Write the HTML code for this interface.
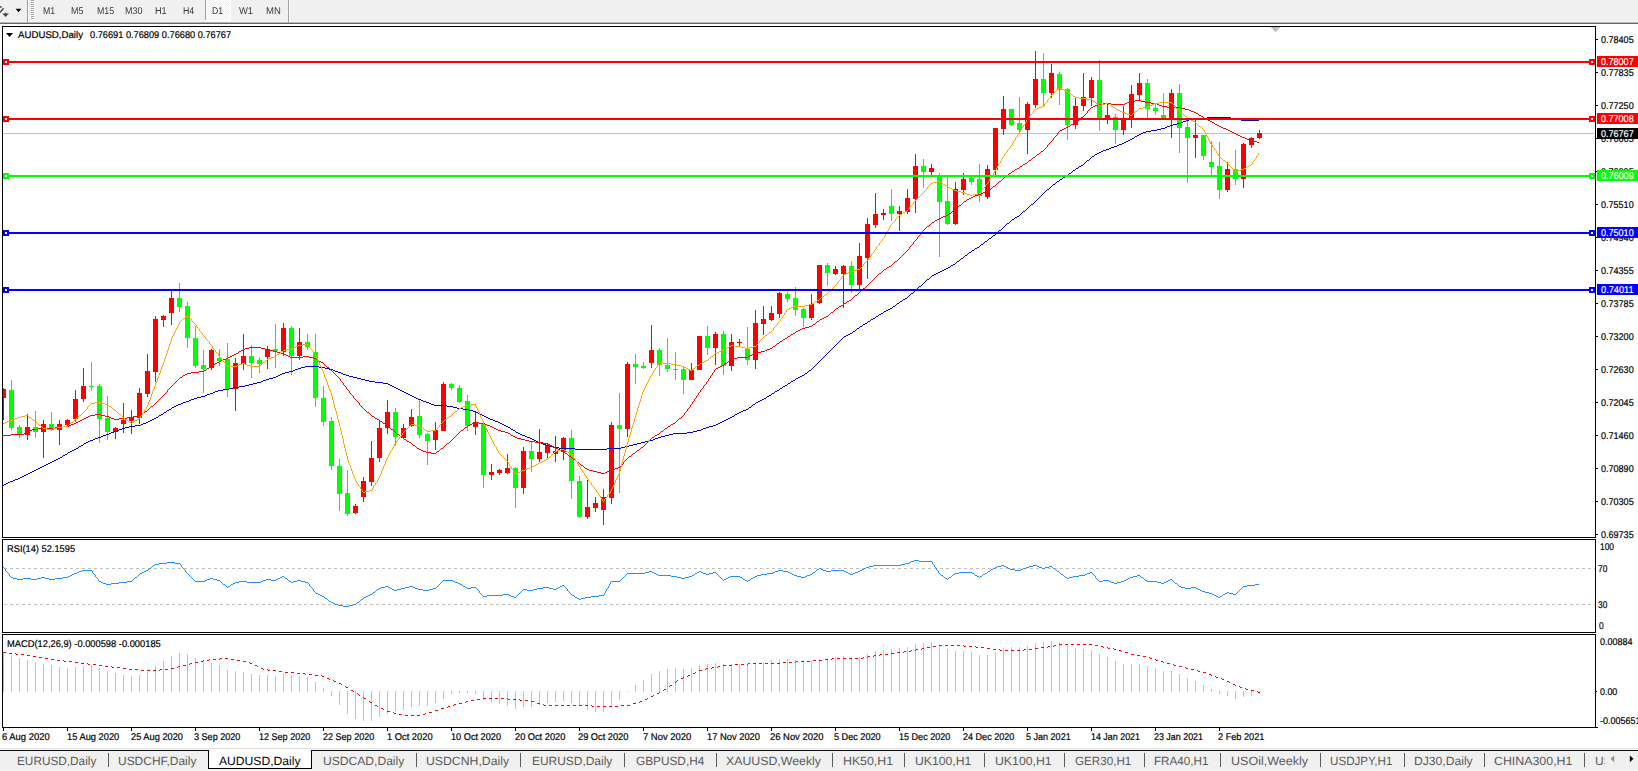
<!DOCTYPE html>
<html><head><meta charset="utf-8"><title>AUDUSD,Daily</title>
<style>
html,body{margin:0;padding:0}
body{width:1638px;height:771px;overflow:hidden;background:#f0f0f0;font-family:"Liberation Sans",sans-serif;position:relative}
#chartbg{position:absolute;left:0;top:24px;width:1638px;height:724px;background:#fff}
#tbline{position:absolute;left:0;top:21px;width:1638px;height:3px;background:linear-gradient(#f7f7f7 0,#f7f7f7 1px,#b4b4b4 1px,#b4b4b4 2px,#6a6a6a 2px,#6a6a6a 3px)}
svg{position:absolute;left:0;top:0}
.t{position:absolute;line-height:12px;white-space:nowrap;transform-origin:0 0;-webkit-text-stroke:0.2px currentColor}
.axb{position:absolute;left:1597px;width:41px;height:11px;color:#fff;overflow:hidden}
#tabs{position:absolute;left:0;top:748px;width:1638px;height:23px;background:#f0f0f0;border-top:1px solid #e2e2e2;box-sizing:border-box}
#tabw{position:absolute;left:0;top:749px;width:1638px;height:1px;background:#fafafa}
#tabline{position:absolute;left:0;top:750px;width:1638px;height:1px;background:#0c0c0c}
.sep{position:absolute;top:753px;width:1px;height:14px;background:#5a5a5a}
#selbox{position:absolute;left:208px;top:750px;width:104px;height:19px;background:#fff;border:1px solid #000;border-top:none;box-sizing:border-box}
</style></head><body>
<div id="tbline"></div>
<div id="chartbg"></div>
<div id="tabs"></div><div id="tabw"></div><div id="tabline"></div>
<div id="selbox"></div>
<svg width="1638" height="771" viewBox="0 0 1638 771" shape-rendering="crispEdges">
<g id="tb">
<rect x="27" y="0" width="1" height="22" fill="#a0a0a0"/><rect x="28" y="0" width="1" height="22" fill="#fff"/>
<rect x="31" y="0" width="3" height="20" fill="#f8f8f8"/><g fill="#a6a6a6"><rect x="31" y="0" width="3" height="1"/><rect x="31" y="2" width="3" height="1"/><rect x="31" y="4" width="3" height="1"/><rect x="31" y="6" width="3" height="1"/><rect x="31" y="8" width="3" height="1"/><rect x="31" y="10" width="3" height="1"/><rect x="31" y="12" width="3" height="1"/><rect x="31" y="14" width="3" height="1"/><rect x="31" y="16" width="3" height="1"/><rect x="31" y="18" width="3" height="1"/></g>
<rect x="205" y="0" width="1" height="20" fill="#a0a0a0"/>
<pattern id="ck" width="2" height="2" patternUnits="userSpaceOnUse"><rect width="2" height="2" fill="#fff"/><rect width="1" height="1" fill="#f0f0f0"/><rect x="1" y="1" width="1" height="1" fill="#f0f0f0"/></pattern><rect x="206" y="0" width="24" height="20" fill="url(#ck)"/><rect x="205" y="20" width="26" height="1" fill="#fff"/><rect x="230" y="0" width="1" height="20" fill="#fff"/>
<rect x="288" y="0" width="1" height="22" fill="#a0a0a0"/><rect x="289" y="0" width="1" height="22" fill="#fafafa"/>
<polygon points="15.6,8.8 21.4,8.8 18.5,12.2" fill="#000" shape-rendering="auto"/>
<path d="M-0.5,12.8 L3.6,8.2 M-1,6.5 L1.6,7.2" stroke="#444" stroke-width="1.4" fill="none" shape-rendering="auto"/>
<polygon points="2.2,13.4 4.2,13.4 5.6,12.4 7,13.4 9,13.4 5.6,17" fill="#505050" shape-rendering="auto"/>
</g>
<polygon points="6,33 13,33 9.5,37" fill="#000" shape-rendering="auto"/>
<line x1="3" y1="133.5" x2="1595" y2="133.5" stroke="#c0c0c0" stroke-width="1"/>
<clipPath id="cp"><rect x="3" y="27" width="1592" height="700"/></clipPath><g clip-path="url(#cp)">
<rect x="3.0" y="388" width="1" height="32" fill="#ff0000"/>
<rect x="1.0" y="389" width="5" height="9" fill="#ff0000"/>
<rect x="11.0" y="380" width="1" height="50" fill="#00ff00"/>
<rect x="9.0" y="390" width="5" height="38" fill="#00ff00"/>
<rect x="19.0" y="425" width="1" height="13" fill="#00ff00"/>
<rect x="17.0" y="427" width="5" height="7" fill="#00ff00"/>
<rect x="27.0" y="414" width="1" height="26" fill="#ff0000"/>
<rect x="25.0" y="427" width="5" height="8" fill="#ff0000"/>
<rect x="35.0" y="411" width="1" height="27" fill="#00ff00"/>
<rect x="33.0" y="427" width="5" height="5" fill="#00ff00"/>
<rect x="43.0" y="420" width="1" height="38" fill="#ff0000"/>
<rect x="41.0" y="424" width="5" height="8" fill="#ff0000"/>
<rect x="51.0" y="412" width="1" height="19" fill="#00ff00"/>
<rect x="49.0" y="424" width="5" height="6" fill="#00ff00"/>
<rect x="59.0" y="420" width="1" height="25" fill="#ff0000"/>
<rect x="57.0" y="424" width="5" height="6" fill="#ff0000"/>
<rect x="67.0" y="419" width="1" height="7" fill="#ff0000"/>
<rect x="65.0" y="420" width="5" height="5" fill="#ff0000"/>
<rect x="75.0" y="390" width="1" height="32" fill="#ff0000"/>
<rect x="73.0" y="399" width="5" height="20" fill="#ff0000"/>
<rect x="83.0" y="368" width="1" height="34" fill="#ff0000"/>
<rect x="81.0" y="386" width="5" height="13" fill="#ff0000"/>
<rect x="91.0" y="362" width="1" height="29" fill="#00ff00"/>
<rect x="89.0" y="386" width="5" height="1" fill="#00ff00"/>
<rect x="99.0" y="384" width="1" height="59" fill="#00ff00"/>
<rect x="97.0" y="386" width="5" height="33" fill="#00ff00"/>
<rect x="107.0" y="396" width="1" height="44" fill="#00ff00"/>
<rect x="105.0" y="418" width="5" height="14" fill="#00ff00"/>
<rect x="115.0" y="427" width="1" height="12" fill="#ff0000"/>
<rect x="113.0" y="428" width="5" height="4" fill="#ff0000"/>
<rect x="123.0" y="403" width="1" height="30" fill="#ff0000"/>
<rect x="121.0" y="420" width="5" height="4" fill="#ff0000"/>
<rect x="131.0" y="410" width="1" height="24" fill="#ff0000"/>
<rect x="129.0" y="417" width="5" height="4" fill="#ff0000"/>
<rect x="139.0" y="388" width="1" height="36" fill="#ff0000"/>
<rect x="137.0" y="393" width="5" height="25" fill="#ff0000"/>
<rect x="147.0" y="354" width="1" height="43" fill="#ff0000"/>
<rect x="145.0" y="371" width="5" height="23" fill="#ff0000"/>
<rect x="155.0" y="316" width="1" height="66" fill="#ff0000"/>
<rect x="153.0" y="319" width="5" height="53" fill="#ff0000"/>
<rect x="163.0" y="315" width="1" height="12" fill="#ff0000"/>
<rect x="161.0" y="316" width="5" height="4" fill="#ff0000"/>
<rect x="171.0" y="290" width="1" height="35" fill="#ff0000"/>
<rect x="169.0" y="298" width="5" height="15" fill="#ff0000"/>
<rect x="179.0" y="283" width="1" height="29" fill="#00ff00"/>
<rect x="177.0" y="298" width="5" height="9" fill="#00ff00"/>
<rect x="187.0" y="302" width="1" height="46" fill="#00ff00"/>
<rect x="185.0" y="306" width="5" height="32" fill="#00ff00"/>
<rect x="195.0" y="326" width="1" height="42" fill="#00ff00"/>
<rect x="193.0" y="338" width="5" height="28" fill="#00ff00"/>
<rect x="203.0" y="350" width="1" height="43" fill="#00ff00"/>
<rect x="201.0" y="365" width="5" height="4" fill="#00ff00"/>
<rect x="211.0" y="349" width="1" height="21" fill="#ff0000"/>
<rect x="209.0" y="350" width="5" height="18" fill="#ff0000"/>
<rect x="219.0" y="349" width="1" height="17" fill="#00ff00"/>
<rect x="217.0" y="358" width="5" height="3" fill="#00ff00"/>
<rect x="227.0" y="343" width="1" height="54" fill="#00ff00"/>
<rect x="225.0" y="359" width="5" height="30" fill="#00ff00"/>
<rect x="235.0" y="358" width="1" height="53" fill="#ff0000"/>
<rect x="233.0" y="363" width="5" height="26" fill="#ff0000"/>
<rect x="243.0" y="334" width="1" height="36" fill="#ff0000"/>
<rect x="241.0" y="356" width="5" height="8" fill="#ff0000"/>
<rect x="251.0" y="345" width="1" height="33" fill="#00ff00"/>
<rect x="249.0" y="356" width="5" height="7" fill="#00ff00"/>
<rect x="259.0" y="357" width="1" height="16" fill="#00ff00"/>
<rect x="257.0" y="360" width="5" height="4" fill="#00ff00"/>
<rect x="267.0" y="346" width="1" height="23" fill="#ff0000"/>
<rect x="265.0" y="349" width="5" height="8" fill="#ff0000"/>
<rect x="275.0" y="324" width="1" height="44" fill="#00ff00"/>
<rect x="273.0" y="349" width="5" height="2" fill="#00ff00"/>
<rect x="283.0" y="323" width="1" height="33" fill="#ff0000"/>
<rect x="281.0" y="328" width="5" height="24" fill="#ff0000"/>
<rect x="291.0" y="326" width="1" height="49" fill="#00ff00"/>
<rect x="289.0" y="328" width="5" height="28" fill="#00ff00"/>
<rect x="299.0" y="328" width="1" height="32" fill="#ff0000"/>
<rect x="297.0" y="342" width="5" height="14" fill="#ff0000"/>
<rect x="307.0" y="334" width="1" height="16" fill="#00ff00"/>
<rect x="305.0" y="342" width="5" height="5" fill="#00ff00"/>
<rect x="315.0" y="334" width="1" height="73" fill="#00ff00"/>
<rect x="313.0" y="352" width="5" height="46" fill="#00ff00"/>
<rect x="323.0" y="386" width="1" height="40" fill="#00ff00"/>
<rect x="321.0" y="398" width="5" height="24" fill="#00ff00"/>
<rect x="331.0" y="417" width="1" height="53" fill="#00ff00"/>
<rect x="329.0" y="421" width="5" height="45" fill="#00ff00"/>
<rect x="339.0" y="459" width="1" height="52" fill="#00ff00"/>
<rect x="337.0" y="466" width="5" height="28" fill="#00ff00"/>
<rect x="347.0" y="470" width="1" height="46" fill="#00ff00"/>
<rect x="345.0" y="493" width="5" height="21" fill="#00ff00"/>
<rect x="355.0" y="504" width="1" height="10" fill="#ff0000"/>
<rect x="353.0" y="506" width="5" height="7" fill="#ff0000"/>
<rect x="363.0" y="477" width="1" height="25" fill="#ff0000"/>
<rect x="361.0" y="481" width="5" height="16" fill="#ff0000"/>
<rect x="371.0" y="441" width="1" height="45" fill="#ff0000"/>
<rect x="369.0" y="458" width="5" height="24" fill="#ff0000"/>
<rect x="379.0" y="421" width="1" height="41" fill="#ff0000"/>
<rect x="377.0" y="428" width="5" height="30" fill="#ff0000"/>
<rect x="387.0" y="400" width="1" height="34" fill="#ff0000"/>
<rect x="385.0" y="412" width="5" height="16" fill="#ff0000"/>
<rect x="395.0" y="408" width="1" height="38" fill="#00ff00"/>
<rect x="393.0" y="412" width="5" height="25" fill="#00ff00"/>
<rect x="403.0" y="424" width="1" height="14" fill="#ff0000"/>
<rect x="401.0" y="428" width="5" height="10" fill="#ff0000"/>
<rect x="411.0" y="409" width="1" height="18" fill="#ff0000"/>
<rect x="409.0" y="417" width="5" height="9" fill="#ff0000"/>
<rect x="419.0" y="400" width="1" height="38" fill="#00ff00"/>
<rect x="417.0" y="416" width="5" height="19" fill="#00ff00"/>
<rect x="427.0" y="433" width="1" height="32" fill="#00ff00"/>
<rect x="425.0" y="434" width="5" height="7" fill="#00ff00"/>
<rect x="435.0" y="422" width="1" height="28" fill="#ff0000"/>
<rect x="433.0" y="430" width="5" height="10" fill="#ff0000"/>
<rect x="443.0" y="382" width="1" height="49" fill="#ff0000"/>
<rect x="441.0" y="384" width="5" height="47" fill="#ff0000"/>
<rect x="451.0" y="383" width="1" height="7" fill="#00ff00"/>
<rect x="449.0" y="384" width="5" height="4" fill="#00ff00"/>
<rect x="459.0" y="385" width="1" height="18" fill="#00ff00"/>
<rect x="457.0" y="388" width="5" height="14" fill="#00ff00"/>
<rect x="467.0" y="395" width="1" height="36" fill="#00ff00"/>
<rect x="465.0" y="401" width="5" height="25" fill="#00ff00"/>
<rect x="475.0" y="411" width="1" height="24" fill="#ff0000"/>
<rect x="473.0" y="422" width="5" height="5" fill="#ff0000"/>
<rect x="483.0" y="424" width="1" height="64" fill="#00ff00"/>
<rect x="481.0" y="424" width="5" height="51" fill="#00ff00"/>
<rect x="491.0" y="464" width="1" height="16" fill="#ff0000"/>
<rect x="489.0" y="472" width="5" height="3" fill="#ff0000"/>
<rect x="499.0" y="469" width="1" height="6" fill="#ff0000"/>
<rect x="497.0" y="470" width="5" height="3" fill="#ff0000"/>
<rect x="507.0" y="454" width="1" height="20" fill="#ff0000"/>
<rect x="505.0" y="468" width="5" height="5" fill="#ff0000"/>
<rect x="515.0" y="467" width="1" height="41" fill="#00ff00"/>
<rect x="513.0" y="468" width="5" height="20" fill="#00ff00"/>
<rect x="523.0" y="447" width="1" height="47" fill="#ff0000"/>
<rect x="521.0" y="451" width="5" height="37" fill="#ff0000"/>
<rect x="531.0" y="442" width="1" height="30" fill="#00ff00"/>
<rect x="529.0" y="451" width="5" height="8" fill="#00ff00"/>
<rect x="539.0" y="429" width="1" height="33" fill="#ff0000"/>
<rect x="537.0" y="452" width="5" height="7" fill="#ff0000"/>
<rect x="547.0" y="443" width="1" height="15" fill="#ff0000"/>
<rect x="545.0" y="445" width="5" height="8" fill="#ff0000"/>
<rect x="555.0" y="436" width="1" height="26" fill="#ff0000"/>
<rect x="553.0" y="451" width="5" height="3" fill="#ff0000"/>
<rect x="563.0" y="437" width="1" height="23" fill="#ff0000"/>
<rect x="561.0" y="438" width="5" height="14" fill="#ff0000"/>
<rect x="571.0" y="430" width="1" height="69" fill="#00ff00"/>
<rect x="569.0" y="438" width="5" height="43" fill="#00ff00"/>
<rect x="579.0" y="476" width="1" height="42" fill="#00ff00"/>
<rect x="577.0" y="481" width="5" height="36" fill="#00ff00"/>
<rect x="587.0" y="480" width="1" height="39" fill="#ff0000"/>
<rect x="585.0" y="507" width="5" height="10" fill="#ff0000"/>
<rect x="595.0" y="497" width="1" height="15" fill="#ff0000"/>
<rect x="593.0" y="503" width="5" height="5" fill="#ff0000"/>
<rect x="603.0" y="489" width="1" height="36" fill="#ff0000"/>
<rect x="601.0" y="497" width="5" height="13" fill="#ff0000"/>
<rect x="611.0" y="422" width="1" height="82" fill="#ff0000"/>
<rect x="609.0" y="425" width="5" height="73" fill="#ff0000"/>
<rect x="619.0" y="393" width="1" height="100" fill="#00ff00"/>
<rect x="617.0" y="425" width="5" height="4" fill="#00ff00"/>
<rect x="627.0" y="362" width="1" height="75" fill="#ff0000"/>
<rect x="625.0" y="364" width="5" height="65" fill="#ff0000"/>
<rect x="635.0" y="354" width="1" height="30" fill="#00ff00"/>
<rect x="633.0" y="364" width="5" height="3" fill="#00ff00"/>
<rect x="643.0" y="362" width="1" height="7" fill="#00ff00"/>
<rect x="641.0" y="366" width="5" height="2" fill="#00ff00"/>
<rect x="651.0" y="325" width="1" height="43" fill="#ff0000"/>
<rect x="649.0" y="350" width="5" height="13" fill="#ff0000"/>
<rect x="659.0" y="348" width="1" height="28" fill="#00ff00"/>
<rect x="657.0" y="350" width="5" height="15" fill="#00ff00"/>
<rect x="667.0" y="338" width="1" height="34" fill="#00ff00"/>
<rect x="665.0" y="365" width="5" height="4" fill="#00ff00"/>
<rect x="675.0" y="352" width="1" height="28" fill="#00ff00"/>
<rect x="673.0" y="369" width="5" height="1" fill="#00ff00"/>
<rect x="683.0" y="366" width="1" height="28" fill="#00ff00"/>
<rect x="681.0" y="369" width="5" height="11" fill="#00ff00"/>
<rect x="691.0" y="363" width="1" height="17" fill="#ff0000"/>
<rect x="689.0" y="370" width="5" height="10" fill="#ff0000"/>
<rect x="699.0" y="336" width="1" height="34" fill="#ff0000"/>
<rect x="697.0" y="336" width="5" height="34" fill="#ff0000"/>
<rect x="707.0" y="326" width="1" height="29" fill="#00ff00"/>
<rect x="705.0" y="336" width="5" height="12" fill="#00ff00"/>
<rect x="715.0" y="332" width="1" height="33" fill="#ff0000"/>
<rect x="713.0" y="334" width="5" height="14" fill="#ff0000"/>
<rect x="723.0" y="331" width="1" height="44" fill="#00ff00"/>
<rect x="721.0" y="334" width="5" height="32" fill="#00ff00"/>
<rect x="731.0" y="334" width="1" height="37" fill="#ff0000"/>
<rect x="729.0" y="342" width="5" height="24" fill="#ff0000"/>
<rect x="739.0" y="339" width="1" height="7" fill="#ff0000"/>
<rect x="737.0" y="342" width="5" height="1" fill="#ff0000"/>
<rect x="747.0" y="327" width="1" height="38" fill="#00ff00"/>
<rect x="745.0" y="349" width="5" height="11" fill="#00ff00"/>
<rect x="755.0" y="310" width="1" height="59" fill="#ff0000"/>
<rect x="753.0" y="323" width="5" height="37" fill="#ff0000"/>
<rect x="763.0" y="306" width="1" height="29" fill="#ff0000"/>
<rect x="761.0" y="319" width="5" height="5" fill="#ff0000"/>
<rect x="771.0" y="306" width="1" height="15" fill="#ff0000"/>
<rect x="769.0" y="313" width="5" height="7" fill="#ff0000"/>
<rect x="779.0" y="292" width="1" height="26" fill="#ff0000"/>
<rect x="777.0" y="293" width="5" height="21" fill="#ff0000"/>
<rect x="787.0" y="292" width="1" height="10" fill="#00ff00"/>
<rect x="785.0" y="294" width="5" height="5" fill="#00ff00"/>
<rect x="795.0" y="287" width="1" height="29" fill="#00ff00"/>
<rect x="793.0" y="298" width="5" height="12" fill="#00ff00"/>
<rect x="803.0" y="308" width="1" height="19" fill="#00ff00"/>
<rect x="801.0" y="309" width="5" height="9" fill="#00ff00"/>
<rect x="811.0" y="294" width="1" height="26" fill="#ff0000"/>
<rect x="809.0" y="304" width="5" height="14" fill="#ff0000"/>
<rect x="819.0" y="265" width="1" height="39" fill="#ff0000"/>
<rect x="817.0" y="265" width="5" height="38" fill="#ff0000"/>
<rect x="827.0" y="263" width="1" height="23" fill="#00ff00"/>
<rect x="825.0" y="265" width="5" height="8" fill="#00ff00"/>
<rect x="835.0" y="266" width="1" height="9" fill="#ff0000"/>
<rect x="833.0" y="269" width="5" height="5" fill="#ff0000"/>
<rect x="843.0" y="265" width="1" height="43" fill="#ff0000"/>
<rect x="841.0" y="266" width="5" height="8" fill="#ff0000"/>
<rect x="851.0" y="261" width="1" height="32" fill="#00ff00"/>
<rect x="849.0" y="266" width="5" height="19" fill="#00ff00"/>
<rect x="859.0" y="243" width="1" height="46" fill="#ff0000"/>
<rect x="857.0" y="256" width="5" height="29" fill="#ff0000"/>
<rect x="867.0" y="218" width="1" height="61" fill="#ff0000"/>
<rect x="865.0" y="224" width="5" height="34" fill="#ff0000"/>
<rect x="875.0" y="193" width="1" height="35" fill="#ff0000"/>
<rect x="873.0" y="214" width="5" height="11" fill="#ff0000"/>
<rect x="883.0" y="209" width="1" height="11" fill="#ff0000"/>
<rect x="881.0" y="213" width="5" height="2" fill="#ff0000"/>
<rect x="891.0" y="189" width="1" height="32" fill="#00ff00"/>
<rect x="889.0" y="206" width="5" height="8" fill="#00ff00"/>
<rect x="899.0" y="206" width="1" height="25" fill="#ff0000"/>
<rect x="897.0" y="211" width="5" height="3" fill="#ff0000"/>
<rect x="907.0" y="189" width="1" height="25" fill="#ff0000"/>
<rect x="905.0" y="198" width="5" height="14" fill="#ff0000"/>
<rect x="915.0" y="154" width="1" height="59" fill="#ff0000"/>
<rect x="913.0" y="166" width="5" height="33" fill="#ff0000"/>
<rect x="923.0" y="159" width="1" height="29" fill="#00ff00"/>
<rect x="921.0" y="166" width="5" height="6" fill="#00ff00"/>
<rect x="931.0" y="164" width="1" height="11" fill="#ff0000"/>
<rect x="929.0" y="168" width="5" height="4" fill="#ff0000"/>
<rect x="939.0" y="173" width="1" height="84" fill="#00ff00"/>
<rect x="937.0" y="176" width="5" height="26" fill="#00ff00"/>
<rect x="947.0" y="176" width="1" height="49" fill="#00ff00"/>
<rect x="945.0" y="201" width="5" height="23" fill="#00ff00"/>
<rect x="955.0" y="182" width="1" height="43" fill="#ff0000"/>
<rect x="953.0" y="189" width="5" height="35" fill="#ff0000"/>
<rect x="963.0" y="173" width="1" height="22" fill="#ff0000"/>
<rect x="961.0" y="179" width="5" height="11" fill="#ff0000"/>
<rect x="971.0" y="177" width="1" height="8" fill="#00ff00"/>
<rect x="969.0" y="178" width="5" height="4" fill="#00ff00"/>
<rect x="979.0" y="164" width="1" height="38" fill="#00ff00"/>
<rect x="977.0" y="179" width="5" height="17" fill="#00ff00"/>
<rect x="987.0" y="165" width="1" height="34" fill="#ff0000"/>
<rect x="985.0" y="169" width="5" height="28" fill="#ff0000"/>
<rect x="995.0" y="128" width="1" height="47" fill="#ff0000"/>
<rect x="993.0" y="128" width="5" height="42" fill="#ff0000"/>
<rect x="1003.0" y="96" width="1" height="39" fill="#ff0000"/>
<rect x="1001.0" y="109" width="5" height="20" fill="#ff0000"/>
<rect x="1011.0" y="109" width="1" height="17" fill="#00ff00"/>
<rect x="1009.0" y="109" width="5" height="16" fill="#00ff00"/>
<rect x="1019.0" y="97" width="1" height="35" fill="#00ff00"/>
<rect x="1017.0" y="123" width="5" height="7" fill="#00ff00"/>
<rect x="1027.0" y="102" width="1" height="52" fill="#ff0000"/>
<rect x="1025.0" y="104" width="5" height="26" fill="#ff0000"/>
<rect x="1035.0" y="51" width="1" height="57" fill="#ff0000"/>
<rect x="1033.0" y="79" width="5" height="26" fill="#ff0000"/>
<rect x="1043.0" y="53" width="1" height="53" fill="#00ff00"/>
<rect x="1041.0" y="79" width="5" height="14" fill="#00ff00"/>
<rect x="1051.0" y="64" width="1" height="34" fill="#ff0000"/>
<rect x="1049.0" y="73" width="5" height="20" fill="#ff0000"/>
<rect x="1059.0" y="72" width="1" height="33" fill="#00ff00"/>
<rect x="1057.0" y="74" width="5" height="16" fill="#00ff00"/>
<rect x="1067.0" y="88" width="1" height="52" fill="#00ff00"/>
<rect x="1065.0" y="89" width="5" height="36" fill="#00ff00"/>
<rect x="1075.0" y="98" width="1" height="31" fill="#ff0000"/>
<rect x="1073.0" y="106" width="5" height="19" fill="#ff0000"/>
<rect x="1083.0" y="73" width="1" height="38" fill="#ff0000"/>
<rect x="1081.0" y="97" width="5" height="9" fill="#ff0000"/>
<rect x="1091.0" y="77" width="1" height="29" fill="#ff0000"/>
<rect x="1089.0" y="80" width="5" height="18" fill="#ff0000"/>
<rect x="1099.0" y="60" width="1" height="71" fill="#00ff00"/>
<rect x="1097.0" y="80" width="5" height="38" fill="#00ff00"/>
<rect x="1107.0" y="103" width="1" height="21" fill="#ff0000"/>
<rect x="1105.0" y="115" width="5" height="4" fill="#ff0000"/>
<rect x="1115.0" y="114" width="1" height="30" fill="#00ff00"/>
<rect x="1113.0" y="117" width="5" height="13" fill="#00ff00"/>
<rect x="1123.0" y="106" width="1" height="29" fill="#ff0000"/>
<rect x="1121.0" y="119" width="5" height="11" fill="#ff0000"/>
<rect x="1131.0" y="85" width="1" height="43" fill="#ff0000"/>
<rect x="1129.0" y="94" width="5" height="24" fill="#ff0000"/>
<rect x="1139.0" y="73" width="1" height="28" fill="#ff0000"/>
<rect x="1137.0" y="83" width="5" height="12" fill="#ff0000"/>
<rect x="1147.0" y="79" width="1" height="39" fill="#00ff00"/>
<rect x="1145.0" y="83" width="5" height="26" fill="#00ff00"/>
<rect x="1155.0" y="104" width="1" height="11" fill="#00ff00"/>
<rect x="1153.0" y="108" width="5" height="3" fill="#00ff00"/>
<rect x="1163.0" y="93" width="1" height="26" fill="#00ff00"/>
<rect x="1161.0" y="115" width="5" height="3" fill="#00ff00"/>
<rect x="1171.0" y="89" width="1" height="49" fill="#ff0000"/>
<rect x="1169.0" y="93" width="5" height="25" fill="#ff0000"/>
<rect x="1179.0" y="84" width="1" height="69" fill="#00ff00"/>
<rect x="1177.0" y="93" width="5" height="35" fill="#00ff00"/>
<rect x="1187.0" y="120" width="1" height="63" fill="#00ff00"/>
<rect x="1185.0" y="127" width="5" height="11" fill="#00ff00"/>
<rect x="1195.0" y="119" width="1" height="39" fill="#ff0000"/>
<rect x="1193.0" y="135" width="5" height="3" fill="#ff0000"/>
<rect x="1203.0" y="135" width="1" height="25" fill="#00ff00"/>
<rect x="1201.0" y="135" width="5" height="21" fill="#00ff00"/>
<rect x="1211.0" y="141" width="1" height="35" fill="#00ff00"/>
<rect x="1209.0" y="162" width="5" height="5" fill="#00ff00"/>
<rect x="1219.0" y="142" width="1" height="57" fill="#00ff00"/>
<rect x="1217.0" y="166" width="5" height="24" fill="#00ff00"/>
<rect x="1227.0" y="162" width="1" height="30" fill="#ff0000"/>
<rect x="1225.0" y="169" width="5" height="21" fill="#ff0000"/>
<rect x="1235.0" y="150" width="1" height="35" fill="#00ff00"/>
<rect x="1233.0" y="169" width="5" height="10" fill="#00ff00"/>
<rect x="1243.0" y="143" width="1" height="45" fill="#ff0000"/>
<rect x="1241.0" y="144" width="5" height="35" fill="#ff0000"/>
<rect x="1251.0" y="137" width="1" height="11" fill="#ff0000"/>
<rect x="1249.0" y="138" width="5" height="7" fill="#ff0000"/>
<rect x="1259.0" y="130" width="1" height="9" fill="#ff0000"/>
<rect x="1257.0" y="133" width="5" height="5" fill="#ff0000"/>
</g>
<path fill="#0000cd" d="M3 485h1v1h-1zM4 484h1v1h-1zM5 484h1v1h-1zM6 483h1v1h-1zM7 483h1v1h-1zM8 482h1v1h-1zM9 482h1v1h-1zM10 481h1v1h-1zM11 481h1v1h-1zM12 481h1v1h-1zM13 480h1v1h-1zM14 480h1v1h-1zM15 479h1v1h-1zM16 479h1v1h-1zM17 479h1v1h-1zM18 478h1v1h-1zM19 478h1v1h-1zM20 477h1v1h-1zM21 477h1v1h-1zM22 476h1v1h-1zM23 476h1v1h-1zM24 475h1v1h-1zM25 475h1v1h-1zM26 474h1v1h-1zM27 474h1v1h-1zM28 473h1v1h-1zM29 473h1v1h-1zM30 472h1v1h-1zM31 472h1v1h-1zM32 471h1v1h-1zM33 471h1v1h-1zM34 470h1v1h-1zM35 470h1v1h-1zM36 469h1v1h-1zM37 469h1v1h-1zM38 468h1v1h-1zM39 468h1v1h-1zM40 467h1v1h-1zM41 467h1v1h-1zM42 466h1v1h-1zM43 466h1v1h-1zM44 465h1v1h-1zM45 465h1v1h-1zM46 464h1v1h-1zM47 464h1v1h-1zM48 463h1v1h-1zM49 463h1v1h-1zM50 462h1v1h-1zM51 462h1v1h-1zM52 461h1v1h-1zM53 461h1v1h-1zM54 460h1v1h-1zM55 460h1v1h-1zM56 459h1v1h-1zM57 459h1v1h-1zM58 458h1v1h-1zM59 458h1v1h-1zM60 457h1v1h-1zM61 457h1v1h-1zM62 456h1v1h-1zM63 455h1v1h-1zM64 455h1v1h-1zM65 454h1v1h-1zM66 454h1v1h-1zM67 453h1v1h-1zM68 452h1v1h-1zM69 452h1v1h-1zM70 451h1v1h-1zM71 451h1v1h-1zM72 450h1v1h-1zM73 450h1v1h-1zM74 449h1v1h-1zM75 449h1v1h-1zM76 448h1v1h-1zM77 448h1v1h-1zM78 447h1v1h-1zM79 446h1v1h-1zM80 446h1v1h-1zM81 445h1v1h-1zM82 445h1v1h-1zM83 444h1v1h-1zM84 443h1v1h-1zM85 443h1v1h-1zM86 442h1v1h-1zM87 442h1v1h-1zM88 441h1v1h-1zM89 441h1v1h-1zM90 440h1v1h-1zM91 440h1v1h-1zM92 440h1v1h-1zM93 439h1v1h-1zM94 439h1v1h-1zM95 438h1v1h-1zM96 438h1v1h-1zM97 438h1v1h-1zM98 437h1v1h-1zM99 437h1v1h-1zM100 437h1v1h-1zM101 436h1v1h-1zM102 436h1v1h-1zM103 435h1v1h-1zM104 435h1v1h-1zM105 435h1v1h-1zM106 434h1v1h-1zM107 434h1v1h-1zM108 434h1v1h-1zM109 433h1v1h-1zM110 433h1v1h-1zM111 432h1v1h-1zM112 432h1v1h-1zM113 432h1v1h-1zM114 431h1v1h-1zM115 431h1v1h-1zM116 431h1v1h-1zM117 430h1v1h-1zM118 430h1v1h-1zM119 429h1v1h-1zM120 429h1v1h-1zM121 429h1v1h-1zM122 428h1v1h-1zM123 428h1v1h-1zM124 428h1v1h-1zM125 427h1v1h-1zM126 427h1v1h-1zM127 427h1v1h-1zM128 427h1v1h-1zM129 426h1v1h-1zM130 426h1v1h-1zM131 426h1v1h-1zM132 426h1v1h-1zM133 426h1v1h-1zM134 426h1v1h-1zM135 425h1v1h-1zM136 425h1v1h-1zM137 425h1v1h-1zM138 425h1v1h-1zM139 425h1v1h-1zM140 425h1v1h-1zM141 424h1v1h-1zM142 424h1v1h-1zM143 423h1v1h-1zM144 423h1v1h-1zM145 423h1v1h-1zM146 422h1v1h-1zM147 422h1v1h-1zM148 421h1v1h-1zM149 421h1v1h-1zM150 420h1v1h-1zM151 420h1v1h-1zM152 419h1v1h-1zM153 419h1v1h-1zM154 418h1v1h-1zM155 418h1v1h-1zM156 417h1v1h-1zM157 417h1v1h-1zM158 416h1v1h-1zM159 415h1v1h-1zM160 415h1v1h-1zM161 414h1v1h-1zM162 414h1v1h-1zM163 413h1v1h-1zM164 412h1v1h-1zM165 412h1v1h-1zM166 411h1v1h-1zM167 410h1v1h-1zM168 410h1v1h-1zM169 409h1v1h-1zM170 409h1v1h-1zM171 408h1v1h-1zM172 407h1v1h-1zM173 407h1v1h-1zM174 406h1v1h-1zM175 406h1v1h-1zM176 405h1v1h-1zM177 405h1v1h-1zM178 404h1v1h-1zM179 404h1v1h-1zM180 404h1v1h-1zM181 403h1v1h-1zM182 403h1v1h-1zM183 402h1v1h-1zM184 402h1v1h-1zM185 402h1v1h-1zM186 401h1v1h-1zM187 401h1v1h-1zM188 401h1v1h-1zM189 400h1v1h-1zM190 400h1v1h-1zM191 399h1v1h-1zM192 399h1v1h-1zM193 399h1v1h-1zM194 398h1v1h-1zM195 398h1v1h-1zM196 398h1v1h-1zM197 397h1v1h-1zM198 397h1v1h-1zM199 397h1v1h-1zM200 397h1v1h-1zM201 396h1v1h-1zM202 396h1v1h-1zM203 396h1v1h-1zM204 396h1v1h-1zM205 395h1v1h-1zM206 395h1v1h-1zM207 394h1v1h-1zM208 394h1v1h-1zM209 394h1v1h-1zM210 393h1v1h-1zM211 393h1v1h-1zM212 393h1v1h-1zM213 392h1v1h-1zM214 392h1v1h-1zM215 391h1v1h-1zM216 391h1v1h-1zM217 391h1v1h-1zM218 390h1v1h-1zM219 390h1v1h-1zM220 390h1v1h-1zM221 390h1v1h-1zM222 390h1v1h-1zM223 389h1v1h-1zM224 389h1v1h-1zM225 389h1v1h-1zM226 389h1v1h-1zM227 389h1v1h-1zM228 389h1v1h-1zM229 388h1v1h-1zM230 388h1v1h-1zM231 388h1v1h-1zM232 388h1v1h-1zM233 387h1v1h-1zM234 387h1v1h-1zM235 387h1v1h-1zM236 387h1v1h-1zM237 387h1v1h-1zM238 387h1v1h-1zM239 386h1v1h-1zM240 386h1v1h-1zM241 386h1v1h-1zM242 386h1v1h-1zM243 386h1v1h-1zM244 386h1v1h-1zM245 385h1v1h-1zM246 385h1v1h-1zM247 385h1v1h-1zM248 385h1v1h-1zM249 384h1v1h-1zM250 384h1v1h-1zM251 384h1v1h-1zM252 384h1v1h-1zM253 383h1v1h-1zM254 383h1v1h-1zM255 383h1v1h-1zM256 383h1v1h-1zM257 382h1v1h-1zM258 382h1v1h-1zM259 382h1v1h-1zM260 382h1v1h-1zM261 381h1v1h-1zM262 381h1v1h-1zM263 380h1v1h-1zM264 380h1v1h-1zM265 380h1v1h-1zM266 379h1v1h-1zM267 379h1v1h-1zM268 379h1v1h-1zM269 378h1v1h-1zM270 378h1v1h-1zM271 378h1v1h-1zM272 378h1v1h-1zM273 377h1v1h-1zM274 377h1v1h-1zM275 377h1v1h-1zM276 376h1v1h-1zM277 376h1v1h-1zM278 375h1v1h-1zM279 375h1v1h-1zM280 374h1v1h-1zM281 374h1v1h-1zM282 373h1v1h-1zM283 373h1v1h-1zM284 373h1v1h-1zM285 372h1v1h-1zM286 372h1v1h-1zM287 372h1v1h-1zM288 372h1v1h-1zM289 371h1v1h-1zM290 371h1v1h-1zM291 371h1v1h-1zM292 371h1v1h-1zM293 370h1v1h-1zM294 370h1v1h-1zM295 369h1v1h-1zM296 369h1v1h-1zM297 369h1v1h-1zM298 368h1v1h-1zM299 368h1v1h-1zM300 368h1v1h-1zM301 367h1v1h-1zM302 367h1v1h-1zM303 367h1v1h-1zM304 367h1v1h-1zM305 366h1v1h-1zM306 366h1v1h-1zM307 366h1v1h-1zM308 366h1v1h-1zM309 366h1v1h-1zM310 366h1v1h-1zM311 366h1v1h-1zM312 366h1v1h-1zM313 366h1v1h-1zM314 366h1v1h-1zM315 366h1v1h-1zM316 366h1v1h-1zM317 366h1v1h-1zM318 366h1v1h-1zM319 367h1v1h-1zM320 367h1v1h-1zM321 367h1v1h-1zM322 367h1v1h-1zM323 367h1v1h-1zM324 367h1v1h-1zM325 368h1v1h-1zM326 368h1v1h-1zM327 368h1v1h-1zM328 368h1v1h-1zM329 369h1v1h-1zM330 369h1v1h-1zM331 369h1v1h-1zM332 369h1v1h-1zM333 370h1v1h-1zM334 370h1v1h-1zM335 371h1v1h-1zM336 371h1v1h-1zM337 371h1v1h-1zM338 372h1v1h-1zM339 372h1v1h-1zM340 372h1v1h-1zM341 373h1v1h-1zM342 373h1v1h-1zM343 374h1v1h-1zM344 374h1v1h-1zM345 374h1v1h-1zM346 375h1v1h-1zM347 375h1v1h-1zM348 375h1v1h-1zM349 376h1v1h-1zM350 376h1v1h-1zM351 376h1v1h-1zM352 376h1v1h-1zM353 377h1v1h-1zM354 377h1v1h-1zM355 377h1v1h-1zM356 377h1v1h-1zM357 378h1v1h-1zM358 378h1v1h-1zM359 378h1v1h-1zM360 378h1v1h-1zM361 379h1v1h-1zM362 379h1v1h-1zM363 379h1v1h-1zM364 379h1v1h-1zM365 380h1v1h-1zM366 380h1v1h-1zM367 380h1v1h-1zM368 380h1v1h-1zM369 381h1v1h-1zM370 381h1v1h-1zM371 381h1v1h-1zM372 381h1v1h-1zM373 381h1v1h-1zM374 381h1v1h-1zM375 382h1v1h-1zM376 382h1v1h-1zM377 382h1v1h-1zM378 382h1v1h-1zM379 382h1v1h-1zM380 382h1v1h-1zM381 382h1v1h-1zM382 382h1v1h-1zM383 383h1v1h-1zM384 383h1v1h-1zM385 383h1v1h-1zM386 383h1v1h-1zM387 383h1v1h-1zM388 384h1v1h-1zM389 384h1v1h-1zM390 385h1v1h-1zM391 385h1v1h-1zM392 386h1v1h-1zM393 386h1v1h-1zM394 387h1v1h-1zM395 387h1v1h-1zM396 388h1v1h-1zM397 388h1v1h-1zM398 389h1v1h-1zM399 389h1v1h-1zM400 390h1v1h-1zM401 390h1v1h-1zM402 391h1v1h-1zM403 391h1v1h-1zM404 392h1v1h-1zM405 392h1v1h-1zM406 393h1v1h-1zM407 393h1v1h-1zM408 394h1v1h-1zM409 394h1v1h-1zM410 395h1v1h-1zM411 395h1v1h-1zM412 396h1v1h-1zM413 396h1v1h-1zM414 397h1v1h-1zM415 397h1v1h-1zM416 398h1v1h-1zM417 398h1v1h-1zM418 399h1v1h-1zM419 399h1v1h-1zM420 399h1v1h-1zM421 400h1v1h-1zM422 400h1v1h-1zM423 401h1v1h-1zM424 401h1v1h-1zM425 401h1v1h-1zM426 402h1v1h-1zM427 402h1v1h-1zM428 402h1v1h-1zM429 403h1v1h-1zM430 403h1v1h-1zM431 404h1v1h-1zM432 404h1v1h-1zM433 404h1v1h-1zM434 405h1v1h-1zM435 405h1v1h-1zM436 405h1v1h-1zM437 405h1v1h-1zM438 405h1v1h-1zM439 405h1v1h-1zM440 405h1v1h-1zM441 405h1v1h-1zM442 405h1v1h-1zM443 405h1v1h-1zM444 405h1v1h-1zM445 405h1v1h-1zM446 405h1v1h-1zM447 406h1v1h-1zM448 406h1v1h-1zM449 406h1v1h-1zM450 406h1v1h-1zM451 406h1v1h-1zM452 406h1v1h-1zM453 407h1v1h-1zM454 407h1v1h-1zM455 407h1v1h-1zM456 407h1v1h-1zM457 408h1v1h-1zM458 408h1v1h-1zM459 408h1v1h-1zM460 408h1v1h-1zM461 408h1v1h-1zM462 408h1v1h-1zM463 409h1v1h-1zM464 409h1v1h-1zM465 409h1v1h-1zM466 409h1v1h-1zM467 409h1v1h-1zM468 409h1v1h-1zM469 410h1v1h-1zM470 410h1v1h-1zM471 410h1v1h-1zM472 410h1v1h-1zM473 411h1v1h-1zM474 411h1v1h-1zM475 411h1v1h-1zM476 412h1v1h-1zM477 412h1v1h-1zM478 413h1v1h-1zM479 413h1v1h-1zM480 414h1v1h-1zM481 414h1v1h-1zM482 415h1v1h-1zM483 415h1v1h-1zM484 416h1v1h-1zM485 416h1v1h-1zM486 417h1v1h-1zM487 417h1v1h-1zM488 418h1v1h-1zM489 418h1v1h-1zM490 419h1v1h-1zM491 419h1v1h-1zM492 419h1v1h-1zM493 420h1v1h-1zM494 420h1v1h-1zM495 421h1v1h-1zM496 421h1v1h-1zM497 421h1v1h-1zM498 422h1v1h-1zM499 422h1v1h-1zM500 423h1v1h-1zM501 423h1v1h-1zM502 424h1v1h-1zM503 424h1v1h-1zM504 425h1v1h-1zM505 425h1v1h-1zM506 426h1v1h-1zM507 426h1v1h-1zM508 427h1v1h-1zM509 427h1v1h-1zM510 428h1v1h-1zM511 429h1v1h-1zM512 429h1v1h-1zM513 430h1v1h-1zM514 430h1v1h-1zM515 431h1v1h-1zM516 432h1v1h-1zM517 432h1v1h-1zM518 433h1v1h-1zM519 433h1v1h-1zM520 434h1v1h-1zM521 434h1v1h-1zM522 435h1v1h-1zM523 435h1v1h-1zM524 435h1v1h-1zM525 436h1v1h-1zM526 436h1v1h-1zM527 437h1v1h-1zM528 437h1v1h-1zM529 437h1v1h-1zM530 438h1v1h-1zM531 438h1v1h-1zM532 439h1v1h-1zM533 439h1v1h-1zM534 440h1v1h-1zM535 440h1v1h-1zM536 441h1v1h-1zM537 441h1v1h-1zM538 442h1v1h-1zM539 442h1v1h-1zM540 442h1v1h-1zM541 443h1v1h-1zM542 443h1v1h-1zM543 444h1v1h-1zM544 444h1v1h-1zM545 444h1v1h-1zM546 445h1v1h-1zM547 445h1v1h-1zM548 445h1v1h-1zM549 446h1v1h-1zM550 446h1v1h-1zM551 446h1v1h-1zM552 446h1v1h-1zM553 447h1v1h-1zM554 447h1v1h-1zM555 447h1v1h-1zM556 447h1v1h-1zM557 447h1v1h-1zM558 447h1v1h-1zM559 448h1v1h-1zM560 448h1v1h-1zM561 448h1v1h-1zM562 448h1v1h-1zM563 448h1v1h-1zM564 448h1v1h-1zM565 448h1v1h-1zM566 448h1v1h-1zM567 448h1v1h-1zM568 448h1v1h-1zM569 448h1v1h-1zM570 448h1v1h-1zM571 448h1v1h-1zM572 448h1v1h-1zM573 448h1v1h-1zM574 448h1v1h-1zM575 449h1v1h-1zM576 449h1v1h-1zM577 449h1v1h-1zM578 449h1v1h-1zM579 449h1v1h-1zM580 449h1v1h-1zM581 449h1v1h-1zM582 449h1v1h-1zM583 449h1v1h-1zM584 449h1v1h-1zM585 449h1v1h-1zM586 449h1v1h-1zM587 449h1v1h-1zM588 449h1v1h-1zM589 449h1v1h-1zM590 449h1v1h-1zM591 449h1v1h-1zM592 449h1v1h-1zM593 449h1v1h-1zM594 449h1v1h-1zM595 449h1v1h-1zM596 449h1v1h-1zM597 449h1v1h-1zM598 449h1v1h-1zM599 449h1v1h-1zM600 449h1v1h-1zM601 449h1v1h-1zM602 449h1v1h-1zM603 449h1v1h-1zM604 449h1v1h-1zM605 449h1v1h-1zM606 449h1v1h-1zM607 448h1v1h-1zM608 448h1v1h-1zM609 448h1v1h-1zM610 448h1v1h-1zM611 448h1v1h-1zM612 448h1v1h-1zM613 448h1v1h-1zM614 448h1v1h-1zM615 448h1v1h-1zM616 448h1v1h-1zM617 448h1v1h-1zM618 448h1v1h-1zM619 448h1v1h-1zM620 448h1v1h-1zM621 447h1v1h-1zM622 447h1v1h-1zM623 447h1v1h-1zM624 447h1v1h-1zM625 446h1v1h-1zM626 446h1v1h-1zM627 446h1v1h-1zM628 446h1v1h-1zM629 445h1v1h-1zM630 445h1v1h-1zM631 445h1v1h-1zM632 445h1v1h-1zM633 444h1v1h-1zM634 444h1v1h-1zM635 444h1v1h-1zM636 444h1v1h-1zM637 443h1v1h-1zM638 443h1v1h-1zM639 443h1v1h-1zM640 443h1v1h-1zM641 442h1v1h-1zM642 442h1v1h-1zM643 442h1v1h-1zM644 442h1v1h-1zM645 441h1v1h-1zM646 441h1v1h-1zM647 441h1v1h-1zM648 441h1v1h-1zM649 440h1v1h-1zM650 440h1v1h-1zM651 440h1v1h-1zM652 440h1v1h-1zM653 439h1v1h-1zM654 439h1v1h-1zM655 438h1v1h-1zM656 438h1v1h-1zM657 438h1v1h-1zM658 437h1v1h-1zM659 437h1v1h-1zM660 437h1v1h-1zM661 436h1v1h-1zM662 436h1v1h-1zM663 436h1v1h-1zM664 436h1v1h-1zM665 435h1v1h-1zM666 435h1v1h-1zM667 435h1v1h-1zM668 435h1v1h-1zM669 434h1v1h-1zM670 434h1v1h-1zM671 434h1v1h-1zM672 434h1v1h-1zM673 433h1v1h-1zM674 433h1v1h-1zM675 433h1v1h-1zM676 433h1v1h-1zM677 433h1v1h-1zM678 433h1v1h-1zM679 433h1v1h-1zM680 433h1v1h-1zM681 433h1v1h-1zM682 433h1v1h-1zM683 433h1v1h-1zM684 433h1v1h-1zM685 433h1v1h-1zM686 433h1v1h-1zM687 432h1v1h-1zM688 432h1v1h-1zM689 432h1v1h-1zM690 432h1v1h-1zM691 432h1v1h-1zM692 432h1v1h-1zM693 431h1v1h-1zM694 431h1v1h-1zM695 431h1v1h-1zM696 431h1v1h-1zM697 430h1v1h-1zM698 430h1v1h-1zM699 430h1v1h-1zM700 430h1v1h-1zM701 429h1v1h-1zM702 429h1v1h-1zM703 428h1v1h-1zM704 428h1v1h-1zM705 428h1v1h-1zM706 427h1v1h-1zM707 427h1v1h-1zM708 427h1v1h-1zM709 426h1v1h-1zM710 426h1v1h-1zM711 426h1v1h-1zM712 426h1v1h-1zM713 425h1v1h-1zM714 425h1v1h-1zM715 425h1v1h-1zM716 424h1v1h-1zM717 424h1v1h-1zM718 423h1v1h-1zM719 423h1v1h-1zM720 422h1v1h-1zM721 422h1v1h-1zM722 421h1v1h-1zM723 421h1v1h-1zM724 420h1v1h-1zM725 420h1v1h-1zM726 419h1v1h-1zM727 419h1v1h-1zM728 418h1v1h-1zM729 418h1v1h-1zM730 417h1v1h-1zM731 417h1v1h-1zM732 416h1v1h-1zM733 416h1v1h-1zM734 415h1v1h-1zM735 414h1v1h-1zM736 414h1v1h-1zM737 413h1v1h-1zM738 413h1v1h-1zM739 412h1v1h-1zM740 412h1v1h-1zM741 411h1v1h-1zM742 411h1v1h-1zM743 410h1v1h-1zM744 410h1v1h-1zM745 410h1v1h-1zM746 409h1v1h-1zM747 409h1v1h-1zM748 408h1v1h-1zM749 407h1v1h-1zM750 407h1v1h-1zM751 406h1v1h-1zM752 405h1v1h-1zM753 404h1v1h-1zM754 404h1v1h-1zM755 403h1v1h-1zM756 402h1v1h-1zM757 402h1v1h-1zM758 401h1v1h-1zM759 401h1v1h-1zM760 400h1v1h-1zM761 400h1v1h-1zM762 399h1v1h-1zM763 399h1v1h-1zM764 398h1v1h-1zM765 398h1v1h-1zM766 397h1v1h-1zM767 396h1v1h-1zM768 396h1v1h-1zM769 395h1v1h-1zM770 395h1v1h-1zM771 394h1v1h-1zM772 393h1v1h-1zM773 393h1v1h-1zM774 392h1v1h-1zM775 391h1v1h-1zM776 391h1v1h-1zM777 390h1v1h-1zM778 390h1v1h-1zM779 389h1v1h-1zM780 388h1v1h-1zM781 388h1v1h-1zM782 387h1v1h-1zM783 386h1v1h-1zM784 386h1v1h-1zM785 385h1v1h-1zM786 385h1v1h-1zM787 384h1v1h-1zM788 383h1v1h-1zM789 383h1v1h-1zM790 382h1v1h-1zM791 381h1v1h-1zM792 381h1v1h-1zM793 380h1v1h-1zM794 380h1v1h-1zM795 379h1v1h-1zM796 378h1v1h-1zM797 378h1v1h-1zM798 377h1v1h-1zM799 377h1v1h-1zM800 376h1v1h-1zM801 376h1v1h-1zM802 375h1v1h-1zM803 375h1v1h-1zM804 374h1v1h-1zM805 373h1v1h-1zM806 373h1v1h-1zM807 372h1v1h-1zM808 371h1v1h-1zM809 370h1v1h-1zM810 370h1v1h-1zM811 369h1v1h-1zM812 368h1v1h-1zM813 367h1v1h-1zM814 366h1v1h-1zM815 365h1v1h-1zM816 364h1v1h-1zM817 363h1v1h-1zM818 362h1v1h-1zM819 361h1v1h-1zM820 360h1v1h-1zM821 359h1v1h-1zM822 358h1v1h-1zM823 357h1v1h-1zM824 356h1v1h-1zM825 355h1v1h-1zM826 354h1v1h-1zM827 353h1v1h-1zM828 352h1v1h-1zM829 351h1v1h-1zM830 350h1v1h-1zM831 349h1v1h-1zM832 348h1v1h-1zM833 347h1v1h-1zM834 346h1v1h-1zM835 345h1v1h-1zM836 344h1v1h-1zM837 343h1v1h-1zM838 342h1v1h-1zM839 341h1v1h-1zM840 340h1v1h-1zM841 339h1v1h-1zM842 338h1v1h-1zM843 337h1v1h-1zM844 336h1v1h-1zM845 336h1v1h-1zM846 335h1v1h-1zM847 335h1v1h-1zM848 334h1v1h-1zM849 334h1v1h-1zM850 333h1v1h-1zM851 333h1v1h-1zM852 332h1v1h-1zM853 331h1v1h-1zM854 331h1v1h-1zM855 330h1v1h-1zM856 329h1v1h-1zM857 328h1v1h-1zM858 328h1v1h-1zM859 327h1v1h-1zM860 326h1v1h-1zM861 326h1v1h-1zM862 325h1v1h-1zM863 324h1v1h-1zM864 324h1v1h-1zM865 323h1v1h-1zM866 323h1v1h-1zM867 322h1v1h-1zM868 321h1v1h-1zM869 321h1v1h-1zM870 320h1v1h-1zM871 319h1v1h-1zM872 319h1v1h-1zM873 318h1v1h-1zM874 318h1v1h-1zM875 317h1v1h-1zM876 316h1v1h-1zM877 316h1v1h-1zM878 315h1v1h-1zM879 314h1v1h-1zM880 314h1v1h-1zM881 313h1v1h-1zM882 313h1v1h-1zM883 312h1v1h-1zM884 311h1v1h-1zM885 311h1v1h-1zM886 310h1v1h-1zM887 310h1v1h-1zM888 309h1v1h-1zM889 309h1v1h-1zM890 308h1v1h-1zM891 308h1v1h-1zM892 307h1v1h-1zM893 306h1v1h-1zM894 306h1v1h-1zM895 305h1v1h-1zM896 304h1v1h-1zM897 303h1v1h-1zM898 303h1v1h-1zM899 302h1v1h-1zM900 301h1v1h-1zM901 301h1v1h-1zM902 300h1v1h-1zM903 299h1v1h-1zM904 299h1v1h-1zM905 298h1v1h-1zM906 298h1v1h-1zM907 297h1v1h-1zM908 296h1v1h-1zM909 295h1v1h-1zM910 294h1v1h-1zM911 293h1v1h-1zM912 293h1v1h-1zM913 292h1v1h-1zM914 291h1v1h-1zM915 290h1v1h-1zM916 289h1v1h-1zM917 288h1v1h-1zM918 287h1v1h-1zM919 286h1v1h-1zM920 286h1v1h-1zM921 285h1v1h-1zM922 284h1v1h-1zM923 283h1v1h-1zM924 282h1v1h-1zM925 281h1v1h-1zM926 280h1v1h-1zM927 279h1v1h-1zM928 279h1v1h-1zM929 278h1v1h-1zM930 277h1v1h-1zM931 276h1v1h-1zM932 275h1v1h-1zM933 275h1v1h-1zM934 274h1v1h-1zM935 274h1v1h-1zM936 273h1v1h-1zM937 273h1v1h-1zM938 272h1v1h-1zM939 272h1v1h-1zM940 271h1v1h-1zM941 271h1v1h-1zM942 270h1v1h-1zM943 270h1v1h-1zM944 269h1v1h-1zM945 269h1v1h-1zM946 268h1v1h-1zM947 268h1v1h-1zM948 267h1v1h-1zM949 267h1v1h-1zM950 266h1v1h-1zM951 265h1v1h-1zM952 265h1v1h-1zM953 264h1v1h-1zM954 264h1v1h-1zM955 263h1v1h-1zM956 262h1v1h-1zM957 261h1v1h-1zM958 261h1v1h-1zM959 260h1v1h-1zM960 259h1v1h-1zM961 258h1v1h-1zM962 258h1v1h-1zM963 257h1v1h-1zM964 256h1v1h-1zM965 255h1v1h-1zM966 255h1v1h-1zM967 254h1v1h-1zM968 253h1v1h-1zM969 252h1v1h-1zM970 252h1v1h-1zM971 251h1v1h-1zM972 250h1v1h-1zM973 250h1v1h-1zM974 249h1v1h-1zM975 248h1v1h-1zM976 248h1v1h-1zM977 247h1v1h-1zM978 247h1v1h-1zM979 246h1v1h-1zM980 245h1v1h-1zM981 244h1v1h-1zM982 244h1v1h-1zM983 243h1v1h-1zM984 242h1v1h-1zM985 241h1v1h-1zM986 241h1v1h-1zM987 240h1v1h-1zM988 239h1v1h-1zM989 238h1v1h-1zM990 238h1v1h-1zM991 237h1v1h-1zM992 236h1v1h-1zM993 235h1v1h-1zM994 235h1v1h-1zM995 234h1v1h-1zM996 233h1v1h-1zM997 232h1v1h-1zM998 231h1v1h-1zM999 230h1v1h-1zM1000 230h1v1h-1zM1001 229h1v1h-1zM1002 228h1v1h-1zM1003 227h1v1h-1zM1004 226h1v1h-1zM1005 225h1v1h-1zM1006 224h1v1h-1zM1007 223h1v1h-1zM1008 223h1v1h-1zM1009 222h1v1h-1zM1010 221h1v1h-1zM1011 220h1v1h-1zM1012 219h1v1h-1zM1013 219h1v1h-1zM1014 218h1v1h-1zM1015 217h1v1h-1zM1016 217h1v1h-1zM1017 216h1v1h-1zM1018 216h1v1h-1zM1019 215h1v1h-1zM1020 214h1v1h-1zM1021 213h1v1h-1zM1022 212h1v1h-1zM1023 211h1v1h-1zM1024 211h1v1h-1zM1025 210h1v1h-1zM1026 209h1v1h-1zM1027 208h1v1h-1zM1028 207h1v1h-1zM1029 206h1v1h-1zM1030 205h1v1h-1zM1031 204h1v1h-1zM1032 204h1v1h-1zM1033 203h1v1h-1zM1034 202h1v1h-1zM1035 201h1v1h-1zM1036 200h1v1h-1zM1037 199h1v1h-1zM1038 198h1v1h-1zM1039 197h1v1h-1zM1040 196h1v1h-1zM1041 195h1v1h-1zM1042 194h1v1h-1zM1043 193h1v1h-1zM1044 192h1v1h-1zM1045 191h1v1h-1zM1046 190h1v1h-1zM1047 189h1v1h-1zM1048 189h1v1h-1zM1049 188h1v1h-1zM1050 187h1v1h-1zM1051 186h1v1h-1zM1052 185h1v1h-1zM1053 184h1v1h-1zM1054 184h1v1h-1zM1055 183h1v1h-1zM1056 182h1v1h-1zM1057 181h1v1h-1zM1058 181h1v1h-1zM1059 180h1v1h-1zM1060 179h1v1h-1zM1061 179h1v1h-1zM1062 178h1v1h-1zM1063 177h1v1h-1zM1064 177h1v1h-1zM1065 176h1v1h-1zM1066 176h1v1h-1zM1067 175h1v1h-1zM1068 174h1v1h-1zM1069 173h1v1h-1zM1070 173h1v1h-1zM1071 172h1v1h-1zM1072 171h1v1h-1zM1073 170h1v1h-1zM1074 170h1v1h-1zM1075 169h1v1h-1zM1076 168h1v1h-1zM1077 168h1v1h-1zM1078 167h1v1h-1zM1079 166h1v1h-1zM1080 166h1v1h-1zM1081 165h1v1h-1zM1082 165h1v1h-1zM1083 164h1v1h-1zM1084 163h1v1h-1zM1085 162h1v1h-1zM1086 161h1v1h-1zM1087 160h1v1h-1zM1088 160h1v1h-1zM1089 159h1v1h-1zM1090 158h1v1h-1zM1091 157h1v1h-1zM1092 156h1v1h-1zM1093 156h1v1h-1zM1094 155h1v1h-1zM1095 154h1v1h-1zM1096 154h1v1h-1zM1097 153h1v1h-1zM1098 153h1v1h-1zM1099 152h1v1h-1zM1100 152h1v1h-1zM1101 151h1v1h-1zM1102 151h1v1h-1zM1103 150h1v1h-1zM1104 150h1v1h-1zM1105 150h1v1h-1zM1106 149h1v1h-1zM1107 149h1v1h-1zM1108 149h1v1h-1zM1109 148h1v1h-1zM1110 148h1v1h-1zM1111 147h1v1h-1zM1112 147h1v1h-1zM1113 147h1v1h-1zM1114 146h1v1h-1zM1115 146h1v1h-1zM1116 146h1v1h-1zM1117 145h1v1h-1zM1118 145h1v1h-1zM1119 144h1v1h-1zM1120 144h1v1h-1zM1121 144h1v1h-1zM1122 143h1v1h-1zM1123 143h1v1h-1zM1124 142h1v1h-1zM1125 142h1v1h-1zM1126 141h1v1h-1zM1127 141h1v1h-1zM1128 140h1v1h-1zM1129 140h1v1h-1zM1130 139h1v1h-1zM1131 139h1v1h-1zM1132 138h1v1h-1zM1133 138h1v1h-1zM1134 137h1v1h-1zM1135 136h1v1h-1zM1136 136h1v1h-1zM1137 135h1v1h-1zM1138 135h1v1h-1zM1139 134h1v1h-1zM1140 134h1v1h-1zM1141 133h1v1h-1zM1142 133h1v1h-1zM1143 132h1v1h-1zM1144 132h1v1h-1zM1145 132h1v1h-1zM1146 131h1v1h-1zM1147 131h1v1h-1zM1148 131h1v1h-1zM1149 131h1v1h-1zM1150 131h1v1h-1zM1151 130h1v1h-1zM1152 130h1v1h-1zM1153 130h1v1h-1zM1154 130h1v1h-1zM1155 130h1v1h-1zM1156 130h1v1h-1zM1157 129h1v1h-1zM1158 129h1v1h-1zM1159 129h1v1h-1zM1160 129h1v1h-1zM1161 128h1v1h-1zM1162 128h1v1h-1zM1163 128h1v1h-1zM1164 128h1v1h-1zM1165 127h1v1h-1zM1166 127h1v1h-1zM1167 126h1v1h-1zM1168 126h1v1h-1zM1169 126h1v1h-1zM1170 125h1v1h-1zM1171 125h1v1h-1zM1172 125h1v1h-1zM1173 124h1v1h-1zM1174 124h1v1h-1zM1175 124h1v1h-1zM1176 124h1v1h-1zM1177 123h1v1h-1zM1178 123h1v1h-1zM1179 123h1v1h-1zM1180 123h1v1h-1zM1181 122h1v1h-1zM1182 122h1v1h-1zM1183 121h1v1h-1zM1184 121h1v1h-1zM1185 121h1v1h-1zM1186 120h1v1h-1zM1187 120h1v1h-1zM1188 120h1v1h-1zM1189 119h1v1h-1zM1190 119h1v1h-1zM1191 119h1v1h-1zM1192 119h1v1h-1zM1193 118h1v1h-1zM1194 118h1v1h-1zM1195 118h1v1h-1zM1196 118h1v1h-1zM1197 118h1v1h-1zM1198 118h1v1h-1zM1199 118h1v1h-1zM1200 118h1v1h-1zM1201 118h1v1h-1zM1202 118h1v1h-1zM1203 118h1v1h-1zM1204 118h1v1h-1zM1205 118h1v1h-1zM1206 118h1v1h-1zM1207 117h1v1h-1zM1208 117h1v1h-1zM1209 117h1v1h-1zM1210 117h1v1h-1zM1211 117h1v1h-1zM1212 117h1v1h-1zM1213 117h1v1h-1zM1214 117h1v1h-1zM1215 117h1v1h-1zM1216 117h1v1h-1zM1217 117h1v1h-1zM1218 117h1v1h-1zM1219 117h1v1h-1zM1220 117h1v1h-1zM1221 117h1v1h-1zM1222 117h1v1h-1zM1223 117h1v1h-1zM1224 117h1v1h-1zM1225 117h1v1h-1zM1226 117h1v1h-1zM1227 117h1v1h-1zM1228 117h1v1h-1zM1229 117h1v1h-1zM1230 117h1v1h-1zM1231 118h1v1h-1zM1232 118h1v1h-1zM1233 118h1v1h-1zM1234 118h1v1h-1zM1235 118h1v1h-1zM1236 118h1v1h-1zM1237 119h1v1h-1zM1238 119h1v1h-1zM1239 119h1v1h-1zM1240 119h1v1h-1zM1241 120h1v1h-1zM1242 120h1v1h-1zM1243 120h1v1h-1zM1244 120h1v1h-1zM1245 120h1v1h-1zM1246 120h1v1h-1zM1247 120h1v1h-1zM1248 120h1v1h-1zM1249 120h1v1h-1zM1250 120h1v1h-1zM1251 120h1v1h-1zM1252 120h1v1h-1zM1253 120h1v1h-1zM1254 120h1v1h-1zM1255 120h1v1h-1zM1256 120h1v1h-1zM1257 120h1v1h-1zM1258 120h1v1h-1z"/>
<path fill="#ff0000" d="M3 435h1v1h-1zM4 435h1v1h-1zM5 435h1v1h-1zM6 435h1v1h-1zM7 435h1v1h-1zM8 435h1v1h-1zM9 435h1v1h-1zM10 435h1v1h-1zM11 434h1v1h-1zM12 434h1v1h-1zM13 434h1v1h-1zM14 434h1v1h-1zM15 434h1v1h-1zM16 434h1v1h-1zM17 434h1v1h-1zM18 434h1v1h-1zM19 434h1v1h-1zM20 434h1v1h-1zM21 434h1v1h-1zM22 434h1v1h-1zM23 434h1v1h-1zM24 433h1v1h-1zM25 432h1v1h-1zM26 432h1v1h-1zM27 431h1v1h-1zM28 431h1v1h-1zM29 430h1v1h-1zM30 430h1v1h-1zM31 430h1v1h-1zM32 429h1v1h-1zM33 429h1v1h-1zM34 429h1v1h-1zM35 429h1v1h-1zM36 429h1v1h-1zM37 429h1v1h-1zM38 428h1v1h-1zM39 428h1v1h-1zM40 428h1v1h-1zM41 428h1v1h-1zM42 428h1v1h-1zM43 428h1v1h-1zM44 428h1v1h-1zM45 428h1v1h-1zM46 428h1v1h-1zM47 428h1v1h-1zM48 428h1v1h-1zM49 428h1v1h-1zM50 428h1v1h-1zM51 428h1v1h-1zM52 428h1v1h-1zM53 428h1v1h-1zM54 428h1v1h-1zM55 427h1v1h-1zM56 427h1v1h-1zM57 427h1v1h-1zM58 427h1v1h-1zM59 427h1v1h-1zM60 427h1v1h-1zM61 427h1v1h-1zM62 427h1v1h-1zM63 426h1v1h-1zM64 426h1v1h-1zM65 426h1v1h-1zM66 426h1v1h-1zM67 426h1v1h-1zM68 426h1v1h-1zM69 425h1v1h-1zM70 425h1v1h-1zM71 424h1v1h-1zM72 424h1v1h-1zM73 424h1v1h-1zM74 423h1v1h-1zM75 423h1v1h-1zM76 422h1v1h-1zM77 422h1v1h-1zM78 421h1v1h-1zM79 421h1v1h-1zM80 420h1v1h-1zM81 420h1v1h-1zM82 419h1v1h-1zM83 419h1v1h-1zM84 418h1v1h-1zM85 418h1v1h-1zM86 417h1v1h-1zM87 417h1v1h-1zM88 416h1v1h-1zM89 416h1v1h-1zM90 415h1v1h-1zM91 415h1v1h-1zM92 415h1v1h-1zM93 415h1v1h-1zM94 415h1v1h-1zM95 414h1v1h-1zM96 414h1v1h-1zM97 414h1v1h-1zM98 414h1v1h-1zM99 414h1v1h-1zM100 414h1v1h-1zM101 415h1v1h-1zM102 415h1v1h-1zM103 415h1v1h-1zM104 415h1v1h-1zM105 416h1v1h-1zM106 416h1v1h-1zM107 416h1v1h-1zM108 416h1v1h-1zM109 417h1v1h-1zM110 417h1v1h-1zM111 418h1v1h-1zM112 418h1v1h-1zM113 418h1v1h-1zM114 419h1v1h-1zM115 419h1v1h-1zM116 419h1v1h-1zM117 419h1v1h-1zM118 419h1v1h-1zM119 418h1v1h-1zM120 418h1v1h-1zM121 418h1v1h-1zM122 418h1v1h-1zM123 418h1v1h-1zM124 418h1v1h-1zM125 418h1v1h-1zM126 418h1v1h-1zM127 417h1v1h-1zM128 417h1v1h-1zM129 417h1v1h-1zM130 417h1v1h-1zM131 417h1v1h-1zM132 417h1v1h-1zM133 416h1v1h-1zM134 416h1v1h-1zM135 416h1v1h-1zM136 416h1v1h-1zM137 415h1v1h-1zM138 415h1v1h-1zM139 415h1v1h-1zM140 414h1v1h-1zM141 414h1v1h-1zM142 413h1v1h-1zM143 412h1v1h-1zM144 412h1v1h-1zM145 411h1v1h-1zM146 411h1v1h-1zM147 410h1v1h-1zM148 409h1v1h-1zM149 408h1v1h-1zM150 407h1v1h-1zM151 406h1v1h-1zM152 406h1v1h-1zM153 405h1v1h-1zM154 404h1v1h-1zM155 403h1v1h-1zM156 402h1v1h-1zM157 401h1v1h-1zM158 400h1v1h-1zM159 399h1v1h-1zM160 398h1v1h-1zM161 397h1v1h-1zM162 396h1v1h-1zM163 395h1v1h-1zM164 394h1v1h-1zM165 393h1v1h-1zM166 392h1v1h-1zM167 390h1v2h-1zM168 389h1v1h-1zM169 388h1v1h-1zM170 387h1v1h-1zM171 386h1v1h-1zM172 385h1v1h-1zM173 384h1v1h-1zM174 383h1v1h-1zM175 382h1v1h-1zM176 381h1v1h-1zM177 380h1v1h-1zM178 379h1v1h-1zM179 378h1v1h-1zM180 377h1v1h-1zM181 377h1v1h-1zM182 376h1v1h-1zM183 375h1v1h-1zM184 375h1v1h-1zM185 374h1v1h-1zM186 374h1v1h-1zM187 373h1v1h-1zM188 373h1v1h-1zM189 373h1v1h-1zM190 373h1v1h-1zM191 372h1v1h-1zM192 372h1v1h-1zM193 372h1v1h-1zM194 372h1v1h-1zM195 372h1v1h-1zM196 372h1v1h-1zM197 372h1v1h-1zM198 372h1v1h-1zM199 371h1v1h-1zM200 371h1v1h-1zM201 371h1v1h-1zM202 371h1v1h-1zM203 371h1v1h-1zM204 370h1v1h-1zM205 370h1v1h-1zM206 369h1v1h-1zM207 368h1v1h-1zM208 368h1v1h-1zM209 367h1v1h-1zM210 367h1v1h-1zM211 366h1v1h-1zM212 365h1v1h-1zM213 365h1v1h-1zM214 364h1v1h-1zM215 363h1v1h-1zM216 363h1v1h-1zM217 362h1v1h-1zM218 362h1v1h-1zM219 361h1v1h-1zM220 361h1v1h-1zM221 360h1v1h-1zM222 360h1v1h-1zM223 359h1v1h-1zM224 359h1v1h-1zM225 359h1v1h-1zM226 358h1v1h-1zM227 358h1v1h-1zM228 357h1v1h-1zM229 357h1v1h-1zM230 356h1v1h-1zM231 356h1v1h-1zM232 355h1v1h-1zM233 355h1v1h-1zM234 354h1v1h-1zM235 354h1v1h-1zM236 353h1v1h-1zM237 353h1v1h-1zM238 352h1v1h-1zM239 351h1v1h-1zM240 351h1v1h-1zM241 350h1v1h-1zM242 350h1v1h-1zM243 349h1v1h-1zM244 349h1v1h-1zM245 348h1v1h-1zM246 348h1v1h-1zM247 348h1v1h-1zM248 348h1v1h-1zM249 347h1v1h-1zM250 347h1v1h-1zM251 347h1v1h-1zM252 347h1v1h-1zM253 347h1v1h-1zM254 347h1v1h-1zM255 347h1v1h-1zM256 347h1v1h-1zM257 347h1v1h-1zM258 347h1v1h-1zM259 347h1v1h-1zM260 347h1v1h-1zM261 348h1v1h-1zM262 348h1v1h-1zM263 348h1v1h-1zM264 348h1v1h-1zM265 349h1v1h-1zM266 349h1v1h-1zM267 349h1v1h-1zM268 349h1v1h-1zM269 350h1v1h-1zM270 350h1v1h-1zM271 350h1v1h-1zM272 350h1v1h-1zM273 351h1v1h-1zM274 351h1v1h-1zM275 351h1v1h-1zM276 351h1v1h-1zM277 352h1v1h-1zM278 352h1v1h-1zM279 352h1v1h-1zM280 352h1v1h-1zM281 353h1v1h-1zM282 353h1v1h-1zM283 353h1v1h-1zM284 354h1v1h-1zM285 354h1v1h-1zM286 355h1v1h-1zM287 355h1v1h-1zM288 356h1v1h-1zM289 356h1v1h-1zM290 357h1v1h-1zM291 357h1v1h-1zM292 357h1v1h-1zM293 357h1v1h-1zM294 357h1v1h-1zM295 357h1v1h-1zM296 357h1v1h-1zM297 357h1v1h-1zM298 357h1v1h-1zM299 357h1v1h-1zM300 357h1v1h-1zM301 357h1v1h-1zM302 357h1v1h-1zM303 356h1v1h-1zM304 356h1v1h-1zM305 356h1v1h-1zM306 356h1v1h-1zM307 356h1v1h-1zM308 356h1v1h-1zM309 357h1v1h-1zM310 357h1v1h-1zM311 357h1v1h-1zM312 357h1v1h-1zM313 358h1v1h-1zM314 358h1v1h-1zM315 358h1v1h-1zM316 359h1v1h-1zM317 359h1v1h-1zM318 360h1v1h-1zM319 361h1v1h-1zM320 361h1v1h-1zM321 362h1v1h-1zM322 362h1v1h-1zM323 363h1v1h-1zM324 364h1v1h-1zM325 365h1v1h-1zM326 366h1v1h-1zM327 367h1v1h-1zM328 367h1v1h-1zM329 368h1v1h-1zM330 369h1v1h-1zM331 370h1v1h-1zM332 371h1v1h-1zM333 372h1v1h-1zM334 373h1v1h-1zM335 374h1v1h-1zM336 375h1v1h-1zM337 376h1v1h-1zM338 377h1v1h-1zM339 378h1v1h-1zM340 379h1v2h-1zM341 381h1v1h-1zM342 382h1v1h-1zM343 383h1v2h-1zM344 385h1v1h-1zM345 386h1v1h-1zM346 387h1v2h-1zM347 389h1v1h-1zM348 390h1v1h-1zM349 391h1v2h-1zM350 393h1v1h-1zM351 394h1v1h-1zM352 395h1v1h-1zM353 396h1v2h-1zM354 398h1v1h-1zM355 399h1v1h-1zM356 400h1v1h-1zM357 401h1v1h-1zM358 402h1v1h-1zM359 403h1v2h-1zM360 405h1v1h-1zM361 406h1v1h-1zM362 407h1v1h-1zM363 408h1v1h-1zM364 409h1v1h-1zM365 410h1v1h-1zM366 411h1v1h-1zM367 412h1v1h-1zM368 412h1v1h-1zM369 413h1v1h-1zM370 414h1v1h-1zM371 415h1v1h-1zM372 416h1v1h-1zM373 416h1v1h-1zM374 417h1v1h-1zM375 418h1v1h-1zM376 418h1v1h-1zM377 419h1v1h-1zM378 419h1v1h-1zM379 420h1v1h-1zM380 421h1v1h-1zM381 421h1v1h-1zM382 422h1v1h-1zM383 423h1v1h-1zM384 423h1v1h-1zM385 424h1v1h-1zM386 424h1v1h-1zM387 425h1v1h-1zM388 426h1v1h-1zM389 427h1v1h-1zM390 428h1v1h-1zM391 429h1v1h-1zM392 429h1v1h-1zM393 430h1v1h-1zM394 431h1v1h-1zM395 432h1v1h-1zM396 433h1v1h-1zM397 434h1v1h-1zM398 434h1v1h-1zM399 435h1v1h-1zM400 436h1v1h-1zM401 437h1v1h-1zM402 437h1v1h-1zM403 438h1v1h-1zM404 439h1v1h-1zM405 439h1v1h-1zM406 440h1v1h-1zM407 441h1v1h-1zM408 441h1v1h-1zM409 442h1v1h-1zM410 442h1v1h-1zM411 443h1v1h-1zM412 444h1v1h-1zM413 445h1v1h-1zM414 445h1v1h-1zM415 446h1v1h-1zM416 447h1v1h-1zM417 448h1v1h-1zM418 448h1v1h-1zM419 449h1v1h-1zM420 449h1v1h-1zM421 450h1v1h-1zM422 450h1v1h-1zM423 451h1v1h-1zM424 451h1v1h-1zM425 451h1v1h-1zM426 452h1v1h-1zM427 452h1v1h-1zM428 452h1v1h-1zM429 452h1v1h-1zM430 452h1v1h-1zM431 453h1v1h-1zM432 453h1v1h-1zM433 453h1v1h-1zM434 453h1v1h-1zM435 453h1v1h-1zM436 452h1v1h-1zM437 451h1v1h-1zM438 451h1v1h-1zM439 450h1v1h-1zM440 449h1v1h-1zM441 448h1v1h-1zM442 448h1v1h-1zM443 447h1v1h-1zM444 446h1v1h-1zM445 445h1v1h-1zM446 444h1v1h-1zM447 443h1v1h-1zM448 443h1v1h-1zM449 442h1v1h-1zM450 441h1v1h-1zM451 440h1v1h-1zM452 439h1v1h-1zM453 438h1v1h-1zM454 437h1v1h-1zM455 436h1v1h-1zM456 435h1v1h-1zM457 434h1v1h-1zM458 433h1v1h-1zM459 432h1v1h-1zM460 431h1v1h-1zM461 430h1v1h-1zM462 430h1v1h-1zM463 429h1v1h-1zM464 428h1v1h-1zM465 427h1v1h-1zM466 427h1v1h-1zM467 426h1v1h-1zM468 425h1v1h-1zM469 425h1v1h-1zM470 424h1v1h-1zM471 424h1v1h-1zM472 423h1v1h-1zM473 423h1v1h-1zM474 422h1v1h-1zM475 422h1v1h-1zM476 422h1v1h-1zM477 422h1v1h-1zM478 422h1v1h-1zM479 423h1v1h-1zM480 423h1v1h-1zM481 423h1v1h-1zM482 423h1v1h-1zM483 423h1v1h-1zM484 423h1v1h-1zM485 424h1v1h-1zM486 424h1v1h-1zM487 425h1v1h-1zM488 425h1v1h-1zM489 425h1v1h-1zM490 426h1v1h-1zM491 426h1v1h-1zM492 427h1v1h-1zM493 427h1v1h-1zM494 428h1v1h-1zM495 428h1v1h-1zM496 429h1v1h-1zM497 429h1v1h-1zM498 430h1v1h-1zM499 430h1v1h-1zM500 430h1v1h-1zM501 431h1v1h-1zM502 431h1v1h-1zM503 431h1v1h-1zM504 431h1v1h-1zM505 432h1v1h-1zM506 432h1v1h-1zM507 432h1v1h-1zM508 433h1v1h-1zM509 433h1v1h-1zM510 434h1v1h-1zM511 435h1v1h-1zM512 435h1v1h-1zM513 436h1v1h-1zM514 436h1v1h-1zM515 437h1v1h-1zM516 437h1v1h-1zM517 438h1v1h-1zM518 438h1v1h-1zM519 438h1v1h-1zM520 438h1v1h-1zM521 439h1v1h-1zM522 439h1v1h-1zM523 439h1v1h-1zM524 439h1v1h-1zM525 440h1v1h-1zM526 440h1v1h-1zM527 440h1v1h-1zM528 440h1v1h-1zM529 441h1v1h-1zM530 441h1v1h-1zM531 441h1v1h-1zM532 441h1v1h-1zM533 441h1v1h-1zM534 441h1v1h-1zM535 442h1v1h-1zM536 442h1v1h-1zM537 442h1v1h-1zM538 442h1v1h-1zM539 442h1v1h-1zM540 442h1v1h-1zM541 442h1v1h-1zM542 442h1v1h-1zM543 443h1v1h-1zM544 443h1v1h-1zM545 443h1v1h-1zM546 443h1v1h-1zM547 443h1v1h-1zM548 444h1v1h-1zM549 444h1v1h-1zM550 445h1v1h-1zM551 445h1v1h-1zM552 446h1v1h-1zM553 446h1v1h-1zM554 447h1v1h-1zM555 447h1v1h-1zM556 448h1v1h-1zM557 448h1v1h-1zM558 449h1v1h-1zM559 449h1v1h-1zM560 450h1v1h-1zM561 450h1v1h-1zM562 451h1v1h-1zM563 451h1v1h-1zM564 452h1v1h-1zM565 453h1v1h-1zM566 453h1v1h-1zM567 454h1v1h-1zM568 455h1v1h-1zM569 456h1v1h-1zM570 456h1v1h-1zM571 457h1v1h-1zM572 458h1v1h-1zM573 459h1v1h-1zM574 459h1v1h-1zM575 460h1v1h-1zM576 461h1v1h-1zM577 462h1v1h-1zM578 462h1v1h-1zM579 463h1v1h-1zM580 464h1v1h-1zM581 465h1v1h-1zM582 465h1v1h-1zM583 466h1v1h-1zM584 467h1v1h-1zM585 468h1v1h-1zM586 468h1v1h-1zM587 469h1v1h-1zM588 469h1v1h-1zM589 470h1v1h-1zM590 470h1v1h-1zM591 470h1v1h-1zM592 470h1v1h-1zM593 471h1v1h-1zM594 471h1v1h-1zM595 471h1v1h-1zM596 471h1v1h-1zM597 472h1v1h-1zM598 472h1v1h-1zM599 472h1v1h-1zM600 472h1v1h-1zM601 473h1v1h-1zM602 473h1v1h-1zM603 473h1v1h-1zM604 473h1v1h-1zM605 472h1v1h-1zM606 472h1v1h-1zM607 471h1v1h-1zM608 471h1v1h-1zM609 471h1v1h-1zM610 470h1v1h-1zM611 470h1v1h-1zM612 470h1v1h-1zM613 469h1v1h-1zM614 469h1v1h-1zM615 468h1v1h-1zM616 468h1v1h-1zM617 468h1v1h-1zM618 467h1v1h-1zM619 467h1v1h-1zM620 466h1v1h-1zM621 465h1v1h-1zM622 464h1v1h-1zM623 462h1v2h-1zM624 461h1v1h-1zM625 460h1v1h-1zM626 459h1v1h-1zM627 458h1v1h-1zM628 457h1v1h-1zM629 456h1v1h-1zM630 456h1v1h-1zM631 455h1v1h-1zM632 454h1v1h-1zM633 453h1v1h-1zM634 453h1v1h-1zM635 452h1v1h-1zM636 451h1v1h-1zM637 450h1v1h-1zM638 450h1v1h-1zM639 449h1v1h-1zM640 448h1v1h-1zM641 447h1v1h-1zM642 447h1v1h-1zM643 446h1v1h-1zM644 445h1v1h-1zM645 444h1v1h-1zM646 443h1v1h-1zM647 442h1v1h-1zM648 441h1v1h-1zM649 440h1v1h-1zM650 439h1v1h-1zM651 438h1v1h-1zM652 437h1v1h-1zM653 437h1v1h-1zM654 436h1v1h-1zM655 435h1v1h-1zM656 435h1v1h-1zM657 434h1v1h-1zM658 434h1v1h-1zM659 433h1v1h-1zM660 432h1v1h-1zM661 431h1v1h-1zM662 431h1v1h-1zM663 430h1v1h-1zM664 429h1v1h-1zM665 428h1v1h-1zM666 428h1v1h-1zM667 427h1v1h-1zM668 426h1v1h-1zM669 426h1v1h-1zM670 425h1v1h-1zM671 424h1v1h-1zM672 424h1v1h-1zM673 423h1v1h-1zM674 423h1v1h-1zM675 422h1v1h-1zM676 421h1v1h-1zM677 420h1v1h-1zM678 419h1v1h-1zM679 418h1v1h-1zM680 418h1v1h-1zM681 417h1v1h-1zM682 416h1v1h-1zM683 415h1v1h-1zM684 413h1v2h-1zM685 412h1v1h-1zM686 411h1v1h-1zM687 409h1v2h-1zM688 408h1v1h-1zM689 407h1v1h-1zM690 405h1v2h-1zM691 404h1v1h-1zM692 402h1v2h-1zM693 401h1v1h-1zM694 399h1v2h-1zM695 398h1v1h-1zM696 396h1v2h-1zM697 395h1v1h-1zM698 393h1v2h-1zM699 392h1v1h-1zM700 390h1v2h-1zM701 389h1v1h-1zM702 388h1v1h-1zM703 386h1v2h-1zM704 385h1v1h-1zM705 384h1v1h-1zM706 382h1v2h-1zM707 381h1v1h-1zM708 379h1v2h-1zM709 378h1v1h-1zM710 376h1v2h-1zM711 375h1v1h-1zM712 373h1v2h-1zM713 372h1v1h-1zM714 370h1v2h-1zM715 369h1v1h-1zM716 368h1v1h-1zM717 368h1v1h-1zM718 367h1v1h-1zM719 367h1v1h-1zM720 366h1v1h-1zM721 366h1v1h-1zM722 365h1v1h-1zM723 365h1v1h-1zM724 364h1v1h-1zM725 363h1v1h-1zM726 363h1v1h-1zM727 362h1v1h-1zM728 361h1v1h-1zM729 360h1v1h-1zM730 360h1v1h-1zM731 359h1v1h-1zM732 359h1v1h-1zM733 358h1v1h-1zM734 358h1v1h-1zM735 358h1v1h-1zM736 358h1v1h-1zM737 357h1v1h-1zM738 357h1v1h-1zM739 357h1v1h-1zM740 357h1v1h-1zM741 357h1v1h-1zM742 357h1v1h-1zM743 357h1v1h-1zM744 357h1v1h-1zM745 357h1v1h-1zM746 357h1v1h-1zM747 357h1v1h-1zM748 356h1v1h-1zM749 356h1v1h-1zM750 355h1v1h-1zM751 355h1v1h-1zM752 354h1v1h-1zM753 354h1v1h-1zM754 353h1v1h-1zM755 353h1v1h-1zM756 353h1v1h-1zM757 352h1v1h-1zM758 352h1v1h-1zM759 352h1v1h-1zM760 352h1v1h-1zM761 351h1v1h-1zM762 351h1v1h-1zM763 351h1v1h-1zM764 351h1v1h-1zM765 350h1v1h-1zM766 350h1v1h-1zM767 349h1v1h-1zM768 349h1v1h-1zM769 349h1v1h-1zM770 348h1v1h-1zM771 348h1v1h-1zM772 347h1v1h-1zM773 346h1v1h-1zM774 346h1v1h-1zM775 345h1v1h-1zM776 344h1v1h-1zM777 343h1v1h-1zM778 343h1v1h-1zM779 342h1v1h-1zM780 341h1v1h-1zM781 341h1v1h-1zM782 340h1v1h-1zM783 339h1v1h-1zM784 339h1v1h-1zM785 338h1v1h-1zM786 338h1v1h-1zM787 337h1v1h-1zM788 336h1v1h-1zM789 336h1v1h-1zM790 335h1v1h-1zM791 334h1v1h-1zM792 334h1v1h-1zM793 333h1v1h-1zM794 333h1v1h-1zM795 332h1v1h-1zM796 331h1v1h-1zM797 331h1v1h-1zM798 330h1v1h-1zM799 330h1v1h-1zM800 329h1v1h-1zM801 329h1v1h-1zM802 328h1v1h-1zM803 328h1v1h-1zM804 328h1v1h-1zM805 327h1v1h-1zM806 327h1v1h-1zM807 327h1v1h-1zM808 327h1v1h-1zM809 326h1v1h-1zM810 326h1v1h-1zM811 326h1v1h-1zM812 325h1v1h-1zM813 324h1v1h-1zM814 324h1v1h-1zM815 323h1v1h-1zM816 322h1v1h-1zM817 321h1v1h-1zM818 321h1v1h-1zM819 320h1v1h-1zM820 319h1v1h-1zM821 319h1v1h-1zM822 318h1v1h-1zM823 318h1v1h-1zM824 317h1v1h-1zM825 317h1v1h-1zM826 316h1v1h-1zM827 316h1v1h-1zM828 315h1v1h-1zM829 314h1v1h-1zM830 313h1v1h-1zM831 312h1v1h-1zM832 312h1v1h-1zM833 311h1v1h-1zM834 310h1v1h-1zM835 309h1v1h-1zM836 308h1v1h-1zM837 308h1v1h-1zM838 307h1v1h-1zM839 306h1v1h-1zM840 306h1v1h-1zM841 305h1v1h-1zM842 305h1v1h-1zM843 304h1v1h-1zM844 303h1v1h-1zM845 303h1v1h-1zM846 302h1v1h-1zM847 301h1v1h-1zM848 301h1v1h-1zM849 300h1v1h-1zM850 300h1v1h-1zM851 299h1v1h-1zM852 298h1v1h-1zM853 297h1v1h-1zM854 296h1v1h-1zM855 295h1v1h-1zM856 295h1v1h-1zM857 294h1v1h-1zM858 293h1v1h-1zM859 292h1v1h-1zM860 291h1v1h-1zM861 290h1v1h-1zM862 289h1v1h-1zM863 288h1v1h-1zM864 288h1v1h-1zM865 287h1v1h-1zM866 286h1v1h-1zM867 285h1v1h-1zM868 284h1v1h-1zM869 283h1v1h-1zM870 282h1v1h-1zM871 281h1v1h-1zM872 280h1v1h-1zM873 279h1v1h-1zM874 278h1v1h-1zM875 277h1v1h-1zM876 276h1v1h-1zM877 275h1v1h-1zM878 274h1v1h-1zM879 273h1v1h-1zM880 273h1v1h-1zM881 272h1v1h-1zM882 271h1v1h-1zM883 270h1v1h-1zM884 269h1v1h-1zM885 269h1v1h-1zM886 268h1v1h-1zM887 267h1v1h-1zM888 267h1v1h-1zM889 266h1v1h-1zM890 266h1v1h-1zM891 265h1v1h-1zM892 264h1v1h-1zM893 263h1v1h-1zM894 262h1v1h-1zM895 261h1v1h-1zM896 261h1v1h-1zM897 260h1v1h-1zM898 259h1v1h-1zM899 258h1v1h-1zM900 257h1v1h-1zM901 256h1v1h-1zM902 255h1v1h-1zM903 254h1v1h-1zM904 253h1v1h-1zM905 252h1v1h-1zM906 251h1v1h-1zM907 250h1v1h-1zM908 249h1v1h-1zM909 247h1v2h-1zM910 246h1v1h-1zM911 245h1v1h-1zM912 244h1v1h-1zM913 242h1v2h-1zM914 241h1v1h-1zM915 240h1v1h-1zM916 239h1v1h-1zM917 237h1v2h-1zM918 236h1v1h-1zM919 235h1v1h-1zM920 234h1v1h-1zM921 232h1v2h-1zM922 231h1v1h-1zM923 230h1v1h-1zM924 229h1v1h-1zM925 228h1v1h-1zM926 227h1v1h-1zM927 226h1v1h-1zM928 226h1v1h-1zM929 225h1v1h-1zM930 224h1v1h-1zM931 223h1v1h-1zM932 222h1v1h-1zM933 222h1v1h-1zM934 221h1v1h-1zM935 220h1v1h-1zM936 220h1v1h-1zM937 219h1v1h-1zM938 219h1v1h-1zM939 218h1v1h-1zM940 218h1v1h-1zM941 217h1v1h-1zM942 217h1v1h-1zM943 216h1v1h-1zM944 216h1v1h-1zM945 216h1v1h-1zM946 215h1v1h-1zM947 215h1v1h-1zM948 214h1v1h-1zM949 213h1v1h-1zM950 213h1v1h-1zM951 212h1v1h-1zM952 211h1v1h-1zM953 210h1v1h-1zM954 210h1v1h-1zM955 209h1v1h-1zM956 208h1v1h-1zM957 207h1v1h-1zM958 206h1v1h-1zM959 205h1v1h-1zM960 205h1v1h-1zM961 204h1v1h-1zM962 203h1v1h-1zM963 202h1v1h-1zM964 201h1v1h-1zM965 201h1v1h-1zM966 200h1v1h-1zM967 199h1v1h-1zM968 199h1v1h-1zM969 198h1v1h-1zM970 198h1v1h-1zM971 197h1v1h-1zM972 197h1v1h-1zM973 196h1v1h-1zM974 196h1v1h-1zM975 195h1v1h-1zM976 195h1v1h-1zM977 195h1v1h-1zM978 194h1v1h-1zM979 194h1v1h-1zM980 194h1v1h-1zM981 193h1v1h-1zM982 193h1v1h-1zM983 192h1v1h-1zM984 192h1v1h-1zM985 192h1v1h-1zM986 191h1v1h-1zM987 191h1v1h-1zM988 190h1v1h-1zM989 189h1v1h-1zM990 189h1v1h-1zM991 188h1v1h-1zM992 187h1v1h-1zM993 186h1v1h-1zM994 186h1v1h-1zM995 185h1v1h-1zM996 184h1v1h-1zM997 183h1v1h-1zM998 182h1v1h-1zM999 181h1v1h-1zM1000 181h1v1h-1zM1001 180h1v1h-1zM1002 179h1v1h-1zM1003 178h1v1h-1zM1004 177h1v1h-1zM1005 176h1v1h-1zM1006 176h1v1h-1zM1007 175h1v1h-1zM1008 174h1v1h-1zM1009 173h1v1h-1zM1010 173h1v1h-1zM1011 172h1v1h-1zM1012 171h1v1h-1zM1013 171h1v1h-1zM1014 170h1v1h-1zM1015 169h1v1h-1zM1016 169h1v1h-1zM1017 168h1v1h-1zM1018 168h1v1h-1zM1019 167h1v1h-1zM1020 166h1v1h-1zM1021 166h1v1h-1zM1022 165h1v1h-1zM1023 164h1v1h-1zM1024 164h1v1h-1zM1025 163h1v1h-1zM1026 163h1v1h-1zM1027 162h1v1h-1zM1028 161h1v1h-1zM1029 160h1v1h-1zM1030 160h1v1h-1zM1031 159h1v1h-1zM1032 158h1v1h-1zM1033 157h1v1h-1zM1034 157h1v1h-1zM1035 156h1v1h-1zM1036 155h1v1h-1zM1037 154h1v1h-1zM1038 154h1v1h-1zM1039 153h1v1h-1zM1040 152h1v1h-1zM1041 151h1v1h-1zM1042 151h1v1h-1zM1043 150h1v1h-1zM1044 149h1v1h-1zM1045 148h1v1h-1zM1046 147h1v1h-1zM1047 145h1v2h-1zM1048 144h1v1h-1zM1049 143h1v1h-1zM1050 142h1v1h-1zM1051 141h1v1h-1zM1052 140h1v1h-1zM1053 138h1v2h-1zM1054 137h1v1h-1zM1055 136h1v1h-1zM1056 135h1v1h-1zM1057 133h1v2h-1zM1058 132h1v1h-1zM1059 131h1v1h-1zM1060 130h1v1h-1zM1061 130h1v1h-1zM1062 129h1v1h-1zM1063 129h1v1h-1zM1064 128h1v1h-1zM1065 128h1v1h-1zM1066 127h1v1h-1zM1067 127h1v1h-1zM1068 126h1v1h-1zM1069 126h1v1h-1zM1070 125h1v1h-1zM1071 124h1v1h-1zM1072 124h1v1h-1zM1073 123h1v1h-1zM1074 123h1v1h-1zM1075 122h1v1h-1zM1076 121h1v1h-1zM1077 120h1v1h-1zM1078 120h1v1h-1zM1079 119h1v1h-1zM1080 118h1v1h-1zM1081 117h1v1h-1zM1082 117h1v1h-1zM1083 116h1v1h-1zM1084 115h1v1h-1zM1085 114h1v1h-1zM1086 113h1v1h-1zM1087 111h1v2h-1zM1088 110h1v1h-1zM1089 109h1v1h-1zM1090 108h1v1h-1zM1091 107h1v1h-1zM1092 107h1v1h-1zM1093 106h1v1h-1zM1094 106h1v1h-1zM1095 105h1v1h-1zM1096 105h1v1h-1zM1097 105h1v1h-1zM1098 104h1v1h-1zM1099 104h1v1h-1zM1100 104h1v1h-1zM1101 104h1v1h-1zM1102 104h1v1h-1zM1103 103h1v1h-1zM1104 103h1v1h-1zM1105 103h1v1h-1zM1106 103h1v1h-1zM1107 103h1v1h-1zM1108 103h1v1h-1zM1109 103h1v1h-1zM1110 103h1v1h-1zM1111 104h1v1h-1zM1112 104h1v1h-1zM1113 104h1v1h-1zM1114 104h1v1h-1zM1115 104h1v1h-1zM1116 104h1v1h-1zM1117 104h1v1h-1zM1118 104h1v1h-1zM1119 104h1v1h-1zM1120 104h1v1h-1zM1121 104h1v1h-1zM1122 104h1v1h-1zM1123 104h1v1h-1zM1124 104h1v1h-1zM1125 103h1v1h-1zM1126 103h1v1h-1zM1127 102h1v1h-1zM1128 102h1v1h-1zM1129 102h1v1h-1zM1130 101h1v1h-1zM1131 101h1v1h-1zM1132 101h1v1h-1zM1133 101h1v1h-1zM1134 101h1v1h-1zM1135 100h1v1h-1zM1136 100h1v1h-1zM1137 100h1v1h-1zM1138 100h1v1h-1zM1139 100h1v1h-1zM1140 100h1v1h-1zM1141 101h1v1h-1zM1142 101h1v1h-1zM1143 101h1v1h-1zM1144 101h1v1h-1zM1145 102h1v1h-1zM1146 102h1v1h-1zM1147 102h1v1h-1zM1148 102h1v1h-1zM1149 102h1v1h-1zM1150 102h1v1h-1zM1151 103h1v1h-1zM1152 103h1v1h-1zM1153 103h1v1h-1zM1154 103h1v1h-1zM1155 103h1v1h-1zM1156 103h1v1h-1zM1157 104h1v1h-1zM1158 104h1v1h-1zM1159 105h1v1h-1zM1160 105h1v1h-1zM1161 105h1v1h-1zM1162 106h1v1h-1zM1163 106h1v1h-1zM1164 106h1v1h-1zM1165 106h1v1h-1zM1166 106h1v1h-1zM1167 107h1v1h-1zM1168 107h1v1h-1zM1169 107h1v1h-1zM1170 107h1v1h-1zM1171 107h1v1h-1zM1172 107h1v1h-1zM1173 107h1v1h-1zM1174 107h1v1h-1zM1175 107h1v1h-1zM1176 107h1v1h-1zM1177 107h1v1h-1zM1178 107h1v1h-1zM1179 107h1v1h-1zM1180 107h1v1h-1zM1181 108h1v1h-1zM1182 108h1v1h-1zM1183 108h1v1h-1zM1184 108h1v1h-1zM1185 109h1v1h-1zM1186 109h1v1h-1zM1187 109h1v1h-1zM1188 109h1v1h-1zM1189 110h1v1h-1zM1190 110h1v1h-1zM1191 111h1v1h-1zM1192 111h1v1h-1zM1193 111h1v1h-1zM1194 112h1v1h-1zM1195 112h1v1h-1zM1196 113h1v1h-1zM1197 113h1v1h-1zM1198 114h1v1h-1zM1199 115h1v1h-1zM1200 115h1v1h-1zM1201 116h1v1h-1zM1202 116h1v1h-1zM1203 117h1v1h-1zM1204 118h1v1h-1zM1205 118h1v1h-1zM1206 119h1v1h-1zM1207 119h1v1h-1zM1208 120h1v1h-1zM1209 120h1v1h-1zM1210 121h1v1h-1zM1211 121h1v1h-1zM1212 122h1v1h-1zM1213 122h1v1h-1zM1214 123h1v1h-1zM1215 124h1v1h-1zM1216 124h1v1h-1zM1217 125h1v1h-1zM1218 125h1v1h-1zM1219 126h1v1h-1zM1220 126h1v1h-1zM1221 127h1v1h-1zM1222 127h1v1h-1zM1223 128h1v1h-1zM1224 128h1v1h-1zM1225 128h1v1h-1zM1226 129h1v1h-1zM1227 129h1v1h-1zM1228 130h1v1h-1zM1229 130h1v1h-1zM1230 131h1v1h-1zM1231 131h1v1h-1zM1232 132h1v1h-1zM1233 132h1v1h-1zM1234 133h1v1h-1zM1235 133h1v1h-1zM1236 134h1v1h-1zM1237 134h1v1h-1zM1238 135h1v1h-1zM1239 135h1v1h-1zM1240 136h1v1h-1zM1241 136h1v1h-1zM1242 137h1v1h-1zM1243 137h1v1h-1zM1244 137h1v1h-1zM1245 138h1v1h-1zM1246 138h1v1h-1zM1247 139h1v1h-1zM1248 139h1v1h-1zM1249 139h1v1h-1zM1250 140h1v1h-1zM1251 140h1v1h-1zM1252 140h1v1h-1zM1253 141h1v1h-1zM1254 141h1v1h-1zM1255 141h1v1h-1zM1256 141h1v1h-1zM1257 142h1v1h-1zM1258 142h1v1h-1z"/>
<path fill="#ffa500" d="M3 423h1v1h-1zM4 423h1v1h-1zM5 422h1v1h-1zM6 422h1v1h-1zM7 421h1v1h-1zM8 421h1v1h-1zM9 421h1v1h-1zM10 420h1v1h-1zM11 420h1v1h-1zM12 420h1v1h-1zM13 419h1v1h-1zM14 419h1v1h-1zM15 418h1v1h-1zM16 418h1v1h-1zM17 418h1v1h-1zM18 417h1v1h-1zM19 417h1v1h-1zM20 417h1v1h-1zM21 416h1v1h-1zM22 416h1v1h-1zM23 416h1v1h-1zM24 416h1v1h-1zM25 415h1v1h-1zM26 415h1v1h-1zM27 415h1v1h-1zM28 416h1v1h-1zM29 417h1v1h-1zM30 417h1v1h-1zM31 418h1v1h-1zM32 419h1v1h-1zM33 420h1v1h-1zM34 420h1v1h-1zM35 421h1v1h-1zM36 422h1v1h-1zM37 423h1v1h-1zM38 424h1v1h-1zM39 425h1v1h-1zM40 425h1v1h-1zM41 426h1v1h-1zM42 427h1v1h-1zM43 428h1v1h-1zM44 428h1v1h-1zM45 428h1v1h-1zM46 428h1v1h-1zM47 429h1v1h-1zM48 429h1v1h-1zM49 429h1v1h-1zM50 429h1v1h-1zM51 429h1v1h-1zM52 429h1v1h-1zM53 428h1v1h-1zM54 428h1v1h-1zM55 428h1v1h-1zM56 428h1v1h-1zM57 427h1v1h-1zM58 427h1v1h-1zM59 427h1v1h-1zM60 427h1v1h-1zM61 427h1v1h-1zM62 427h1v1h-1zM63 426h1v1h-1zM64 426h1v1h-1zM65 426h1v1h-1zM66 426h1v1h-1zM67 426h1v1h-1zM68 425h1v1h-1zM69 424h1v1h-1zM70 423h1v1h-1zM71 422h1v1h-1zM72 422h1v1h-1zM73 421h1v1h-1zM74 420h1v1h-1zM75 419h1v1h-1zM76 418h1v1h-1zM77 417h1v1h-1zM78 416h1v1h-1zM79 415h1v1h-1zM80 415h1v1h-1zM81 414h1v1h-1zM82 413h1v1h-1zM83 412h1v1h-1zM84 411h1v1h-1zM85 410h1v1h-1zM86 409h1v1h-1zM87 407h1v2h-1zM88 406h1v1h-1zM89 405h1v1h-1zM90 404h1v1h-1zM91 403h1v1h-1zM92 403h1v1h-1zM93 403h1v1h-1zM94 403h1v1h-1zM95 402h1v1h-1zM96 402h1v1h-1zM97 402h1v1h-1zM98 402h1v1h-1zM99 402h1v1h-1zM100 402h1v1h-1zM101 403h1v1h-1zM102 403h1v1h-1zM103 403h1v1h-1zM104 403h1v1h-1zM105 404h1v1h-1zM106 404h1v1h-1zM107 404h1v1h-1zM108 405h1v1h-1zM109 406h1v1h-1zM110 406h1v1h-1zM111 407h1v1h-1zM112 408h1v1h-1zM113 409h1v1h-1zM114 409h1v1h-1zM115 410h1v1h-1zM116 411h1v1h-1zM117 412h1v1h-1zM118 413h1v1h-1zM119 414h1v1h-1zM120 414h1v1h-1zM121 415h1v1h-1zM122 416h1v1h-1zM123 417h1v1h-1zM124 418h1v1h-1zM125 419h1v1h-1zM126 419h1v1h-1zM127 420h1v1h-1zM128 421h1v1h-1zM129 422h1v1h-1zM130 422h1v1h-1zM131 423h1v1h-1zM132 422h1v1h-1zM133 422h1v1h-1zM134 421h1v1h-1zM135 420h1v1h-1zM136 420h1v1h-1zM137 419h1v1h-1zM138 419h1v1h-1zM139 418h1v1h-1zM140 416h1v2h-1zM141 415h1v1h-1zM142 413h1v2h-1zM143 412h1v1h-1zM144 410h1v2h-1zM145 409h1v1h-1zM146 407h1v2h-1zM147 405h1v2h-1zM148 402h1v3h-1zM149 400h1v2h-1zM150 397h1v3h-1zM151 394h1v3h-1zM152 391h1v3h-1zM153 389h1v2h-1zM154 386h1v3h-1zM155 383h1v3h-1zM156 381h1v2h-1zM157 378h1v3h-1zM158 375h1v3h-1zM159 373h1v2h-1zM160 370h1v3h-1zM161 367h1v3h-1zM162 365h1v2h-1zM163 362h1v3h-1zM164 359h1v3h-1zM165 356h1v3h-1zM166 353h1v3h-1zM167 350h1v3h-1zM168 347h1v3h-1zM169 344h1v3h-1zM170 341h1v3h-1zM171 338h1v3h-1zM172 336h1v2h-1zM173 334h1v2h-1zM174 332h1v2h-1zM175 330h1v2h-1zM176 328h1v2h-1zM177 326h1v2h-1zM178 324h1v2h-1zM179 322h1v2h-1zM180 321h1v1h-1zM181 320h1v1h-1zM182 319h1v1h-1zM183 318h1v1h-1zM184 318h1v1h-1zM185 317h1v1h-1zM186 316h1v1h-1zM187 315h1v1h-1zM188 316h1v1h-1zM189 317h1v1h-1zM190 318h1v1h-1zM191 319h1v2h-1zM192 321h1v1h-1zM193 322h1v1h-1zM194 323h1v1h-1zM195 324h1v1h-1zM196 325h1v2h-1zM197 327h1v1h-1zM198 328h1v1h-1zM199 329h1v2h-1zM200 331h1v1h-1zM201 332h1v1h-1zM202 333h1v2h-1zM203 335h1v1h-1zM204 336h1v1h-1zM205 337h1v2h-1zM206 339h1v1h-1zM207 340h1v1h-1zM208 341h1v1h-1zM209 342h1v2h-1zM210 344h1v1h-1zM211 345h1v1h-1zM212 346h1v2h-1zM213 348h1v1h-1zM214 349h1v1h-1zM215 350h1v2h-1zM216 352h1v1h-1zM217 353h1v1h-1zM218 354h1v2h-1zM219 356h1v1h-1zM220 357h1v1h-1zM221 358h1v2h-1zM222 360h1v1h-1zM223 361h1v1h-1zM224 362h1v1h-1zM225 363h1v2h-1zM226 365h1v1h-1zM227 366h1v1h-1zM228 366h1v1h-1zM229 366h1v1h-1zM230 366h1v1h-1zM231 366h1v1h-1zM232 366h1v1h-1zM233 366h1v1h-1zM234 366h1v1h-1zM235 366h1v1h-1zM236 366h1v1h-1zM237 365h1v1h-1zM238 365h1v1h-1zM239 364h1v1h-1zM240 364h1v1h-1zM241 364h1v1h-1zM242 363h1v1h-1zM243 363h1v1h-1zM244 363h1v1h-1zM245 364h1v1h-1zM246 364h1v1h-1zM247 365h1v1h-1zM248 365h1v1h-1zM249 365h1v1h-1zM250 366h1v1h-1zM251 366h1v1h-1zM252 366h1v1h-1zM253 366h1v1h-1zM254 366h1v1h-1zM255 366h1v1h-1zM256 366h1v1h-1zM257 366h1v1h-1zM258 366h1v1h-1zM259 366h1v1h-1zM260 365h1v1h-1zM261 364h1v1h-1zM262 363h1v1h-1zM263 362h1v1h-1zM264 362h1v1h-1zM265 361h1v1h-1zM266 360h1v1h-1zM267 359h1v1h-1zM268 359h1v1h-1zM269 358h1v1h-1zM270 358h1v1h-1zM271 357h1v1h-1zM272 357h1v1h-1zM273 357h1v1h-1zM274 356h1v1h-1zM275 356h1v1h-1zM276 355h1v1h-1zM277 354h1v1h-1zM278 354h1v1h-1zM279 353h1v1h-1zM280 352h1v1h-1zM281 351h1v1h-1zM282 351h1v1h-1zM283 350h1v1h-1zM284 350h1v1h-1zM285 350h1v1h-1zM286 350h1v1h-1zM287 349h1v1h-1zM288 349h1v1h-1zM289 349h1v1h-1zM290 349h1v1h-1zM291 349h1v1h-1zM292 348h1v1h-1zM293 348h1v1h-1zM294 347h1v1h-1zM295 347h1v1h-1zM296 346h1v1h-1zM297 346h1v1h-1zM298 345h1v1h-1zM299 345h1v1h-1zM300 345h1v1h-1zM301 345h1v1h-1zM302 345h1v1h-1zM303 344h1v1h-1zM304 344h1v1h-1zM305 344h1v1h-1zM306 344h1v1h-1zM307 344h1v1h-1zM308 345h1v1h-1zM309 346h1v2h-1zM310 348h1v1h-1zM311 349h1v1h-1zM312 350h1v1h-1zM313 351h1v2h-1zM314 353h1v1h-1zM315 354h1v2h-1zM316 356h1v2h-1zM317 358h1v2h-1zM318 360h1v2h-1zM319 362h1v3h-1zM320 365h1v2h-1zM321 367h1v2h-1zM322 369h1v2h-1zM323 371h1v3h-1zM324 374h1v3h-1zM325 377h1v2h-1zM326 379h1v3h-1zM327 382h1v3h-1zM328 385h1v3h-1zM329 388h1v2h-1zM330 390h1v3h-1zM331 393h1v3h-1zM332 396h1v4h-1zM333 400h1v4h-1zM334 404h1v4h-1zM335 408h1v3h-1zM336 411h1v4h-1zM337 415h1v4h-1zM338 419h1v4h-1zM339 423h1v4h-1zM340 427h1v4h-1zM341 431h1v4h-1zM342 435h1v4h-1zM343 439h1v5h-1zM344 444h1v4h-1zM345 448h1v4h-1zM346 452h1v4h-1zM347 456h1v4h-1zM348 460h1v3h-1zM349 463h1v2h-1zM350 465h1v3h-1zM351 468h1v3h-1zM352 471h1v3h-1zM353 474h1v2h-1zM354 476h1v3h-1zM355 479h1v2h-1zM356 481h1v2h-1zM357 483h1v1h-1zM358 484h1v2h-1zM359 486h1v1h-1zM360 487h1v2h-1zM361 489h1v1h-1zM362 490h1v2h-1zM363 492h1v1h-1zM364 492h1v1h-1zM365 491h1v1h-1zM366 491h1v1h-1zM367 491h1v1h-1zM368 491h1v1h-1zM369 490h1v1h-1zM370 490h1v1h-1zM371 490h1v1h-1zM372 488h1v2h-1zM373 486h1v2h-1zM374 485h1v1h-1zM375 483h1v2h-1zM376 482h1v1h-1zM377 480h1v2h-1zM378 478h1v2h-1zM379 476h1v2h-1zM380 474h1v2h-1zM381 471h1v3h-1zM382 469h1v2h-1zM383 466h1v3h-1zM384 464h1v2h-1zM385 461h1v3h-1zM386 459h1v2h-1zM387 457h1v2h-1zM388 455h1v2h-1zM389 453h1v2h-1zM390 451h1v2h-1zM391 450h1v1h-1zM392 448h1v2h-1zM393 446h1v2h-1zM394 444h1v2h-1zM395 443h1v1h-1zM396 441h1v2h-1zM397 440h1v1h-1zM398 439h1v1h-1zM399 437h1v2h-1zM400 436h1v1h-1zM401 435h1v1h-1zM402 433h1v2h-1zM403 432h1v1h-1zM404 431h1v1h-1zM405 430h1v1h-1zM406 429h1v1h-1zM407 428h1v1h-1zM408 427h1v1h-1zM409 426h1v1h-1zM410 425h1v1h-1zM411 424h1v1h-1zM412 424h1v1h-1zM413 424h1v1h-1zM414 424h1v1h-1zM415 425h1v1h-1zM416 425h1v1h-1zM417 425h1v1h-1zM418 425h1v1h-1zM419 425h1v1h-1zM420 426h1v1h-1zM421 427h1v1h-1zM422 427h1v1h-1zM423 428h1v1h-1zM424 429h1v1h-1zM425 430h1v1h-1zM426 430h1v1h-1zM427 431h1v1h-1zM428 431h1v1h-1zM429 431h1v1h-1zM430 431h1v1h-1zM431 430h1v1h-1zM432 430h1v1h-1zM433 430h1v1h-1zM434 430h1v1h-1zM435 430h1v1h-1zM436 429h1v1h-1zM437 428h1v1h-1zM438 427h1v1h-1zM439 425h1v2h-1zM440 424h1v1h-1zM441 423h1v1h-1zM442 422h1v1h-1zM443 421h1v1h-1zM444 420h1v1h-1zM445 419h1v1h-1zM446 419h1v1h-1zM447 418h1v1h-1zM448 417h1v1h-1zM449 416h1v1h-1zM450 416h1v1h-1zM451 415h1v1h-1zM452 414h1v1h-1zM453 413h1v1h-1zM454 412h1v1h-1zM455 411h1v1h-1zM456 411h1v1h-1zM457 410h1v1h-1zM458 409h1v1h-1zM459 408h1v1h-1zM460 408h1v1h-1zM461 407h1v1h-1zM462 407h1v1h-1zM463 406h1v1h-1zM464 406h1v1h-1zM465 406h1v1h-1zM466 405h1v1h-1zM467 405h1v1h-1zM468 405h1v1h-1zM469 405h1v1h-1zM470 405h1v1h-1zM471 404h1v1h-1zM472 404h1v1h-1zM473 404h1v1h-1zM474 404h1v1h-1zM475 404h1v2h-1zM476 406h1v2h-1zM477 408h1v2h-1zM478 410h1v2h-1zM479 412h1v3h-1zM480 415h1v2h-1zM481 417h1v2h-1zM482 419h1v2h-1zM483 421h1v3h-1zM484 424h1v2h-1zM485 426h1v2h-1zM486 428h1v2h-1zM487 430h1v2h-1zM488 432h1v2h-1zM489 434h1v2h-1zM490 436h1v2h-1zM491 438h1v2h-1zM492 440h1v2h-1zM493 442h1v2h-1zM494 444h1v2h-1zM495 446h1v1h-1zM496 447h1v2h-1zM497 449h1v2h-1zM498 451h1v2h-1zM499 453h1v1h-1zM500 454h1v1h-1zM501 455h1v1h-1zM502 456h1v1h-1zM503 457h1v1h-1zM504 458h1v1h-1zM505 459h1v1h-1zM506 460h1v1h-1zM507 461h1v1h-1zM508 462h1v2h-1zM509 464h1v2h-1zM510 466h1v1h-1zM511 467h1v2h-1zM512 469h1v1h-1zM513 470h1v2h-1zM514 472h1v2h-1zM515 474h1v1h-1zM516 473h1v1h-1zM517 473h1v1h-1zM518 472h1v1h-1zM519 472h1v1h-1zM520 471h1v1h-1zM521 471h1v1h-1zM522 470h1v1h-1zM523 470h1v1h-1zM524 470h1v1h-1zM525 469h1v1h-1zM526 469h1v1h-1zM527 468h1v1h-1zM528 468h1v1h-1zM529 468h1v1h-1zM530 467h1v1h-1zM531 467h1v1h-1zM532 466h1v1h-1zM533 466h1v1h-1zM534 465h1v1h-1zM535 465h1v1h-1zM536 464h1v1h-1zM537 464h1v1h-1zM538 463h1v1h-1zM539 463h1v1h-1zM540 462h1v1h-1zM541 462h1v1h-1zM542 461h1v1h-1zM543 461h1v1h-1zM544 460h1v1h-1zM545 460h1v1h-1zM546 459h1v1h-1zM547 459h1v1h-1zM548 458h1v1h-1zM549 457h1v1h-1zM550 456h1v1h-1zM551 455h1v1h-1zM552 454h1v1h-1zM553 453h1v1h-1zM554 452h1v1h-1zM555 451h1v1h-1zM556 451h1v1h-1zM557 450h1v1h-1zM558 450h1v1h-1zM559 450h1v1h-1zM560 450h1v1h-1zM561 449h1v1h-1zM562 449h1v1h-1zM563 449h1v1h-1zM564 450h1v1h-1zM565 450h1v1h-1zM566 451h1v1h-1zM567 451h1v1h-1zM568 452h1v1h-1zM569 452h1v1h-1zM570 453h1v1h-1zM571 453h1v1h-1zM572 454h1v2h-1zM573 456h1v2h-1zM574 458h1v1h-1zM575 459h1v2h-1zM576 461h1v1h-1zM577 462h1v2h-1zM578 464h1v2h-1zM579 466h1v1h-1zM580 467h1v2h-1zM581 469h1v1h-1zM582 470h1v2h-1zM583 472h1v1h-1zM584 473h1v2h-1zM585 475h1v1h-1zM586 476h1v2h-1zM587 478h1v1h-1zM588 479h1v2h-1zM589 481h1v1h-1zM590 482h1v1h-1zM591 483h1v2h-1zM592 485h1v1h-1zM593 486h1v1h-1zM594 487h1v2h-1zM595 489h1v1h-1zM596 490h1v2h-1zM597 492h1v1h-1zM598 493h1v2h-1zM599 495h1v1h-1zM600 496h1v2h-1zM601 498h1v1h-1zM602 499h1v2h-1zM603 501h1v1h-1zM604 499h1v2h-1zM605 498h1v1h-1zM606 497h1v1h-1zM607 495h1v2h-1zM608 494h1v1h-1zM609 493h1v1h-1zM610 491h1v2h-1zM611 489h1v2h-1zM612 487h1v2h-1zM613 485h1v2h-1zM614 483h1v2h-1zM615 480h1v3h-1zM616 478h1v2h-1zM617 476h1v2h-1zM618 474h1v2h-1zM619 471h1v3h-1zM620 467h1v4h-1zM621 463h1v4h-1zM622 460h1v3h-1zM623 456h1v4h-1zM624 453h1v3h-1zM625 449h1v4h-1zM626 445h1v4h-1zM627 442h1v3h-1zM628 438h1v4h-1zM629 435h1v3h-1zM630 432h1v3h-1zM631 428h1v4h-1zM632 425h1v3h-1zM633 422h1v3h-1zM634 418h1v4h-1zM635 415h1v3h-1zM636 412h1v3h-1zM637 408h1v4h-1zM638 405h1v3h-1zM639 402h1v3h-1zM640 399h1v3h-1zM641 395h1v4h-1zM642 392h1v3h-1zM643 390h1v2h-1zM644 388h1v2h-1zM645 386h1v2h-1zM646 384h1v2h-1zM647 382h1v2h-1zM648 380h1v2h-1zM649 378h1v2h-1zM650 376h1v2h-1zM651 375h1v1h-1zM652 373h1v2h-1zM653 371h1v2h-1zM654 370h1v1h-1zM655 368h1v2h-1zM656 367h1v1h-1zM657 365h1v2h-1zM658 363h1v2h-1zM659 362h1v1h-1zM660 362h1v1h-1zM661 362h1v1h-1zM662 362h1v1h-1zM663 363h1v1h-1zM664 363h1v1h-1zM665 363h1v1h-1zM666 363h1v1h-1zM667 363h1v1h-1zM668 363h1v1h-1zM669 363h1v1h-1zM670 363h1v1h-1zM671 364h1v1h-1zM672 364h1v1h-1zM673 364h1v1h-1zM674 364h1v1h-1zM675 364h1v1h-1zM676 364h1v1h-1zM677 365h1v1h-1zM678 365h1v1h-1zM679 365h1v1h-1zM680 365h1v1h-1zM681 366h1v1h-1zM682 366h1v1h-1zM683 366h1v1h-1zM684 367h1v1h-1zM685 367h1v1h-1zM686 368h1v1h-1zM687 368h1v1h-1zM688 369h1v1h-1zM689 369h1v1h-1zM690 370h1v1h-1zM691 370h1v1h-1zM692 369h1v1h-1zM693 368h1v1h-1zM694 368h1v1h-1zM695 367h1v1h-1zM696 366h1v1h-1zM697 365h1v1h-1zM698 365h1v1h-1zM699 364h1v1h-1zM700 363h1v1h-1zM701 363h1v1h-1zM702 362h1v1h-1zM703 362h1v1h-1zM704 361h1v1h-1zM705 361h1v1h-1zM706 360h1v1h-1zM707 360h1v1h-1zM708 359h1v1h-1zM709 358h1v1h-1zM710 357h1v1h-1zM711 356h1v1h-1zM712 356h1v1h-1zM713 355h1v1h-1zM714 354h1v1h-1zM715 353h1v1h-1zM716 353h1v1h-1zM717 352h1v1h-1zM718 352h1v1h-1zM719 351h1v1h-1zM720 351h1v1h-1zM721 351h1v1h-1zM722 350h1v1h-1zM723 350h1v1h-1zM724 349h1v1h-1zM725 349h1v1h-1zM726 348h1v1h-1zM727 347h1v1h-1zM728 347h1v1h-1zM729 346h1v1h-1zM730 346h1v1h-1zM731 345h1v1h-1zM732 345h1v1h-1zM733 345h1v1h-1zM734 345h1v1h-1zM735 346h1v1h-1zM736 346h1v1h-1zM737 346h1v1h-1zM738 346h1v1h-1zM739 346h1v1h-1zM740 346h1v1h-1zM741 347h1v1h-1zM742 347h1v1h-1zM743 347h1v1h-1zM744 347h1v1h-1zM745 348h1v1h-1zM746 348h1v1h-1zM747 348h1v1h-1zM748 348h1v1h-1zM749 347h1v1h-1zM750 347h1v1h-1zM751 347h1v1h-1zM752 347h1v1h-1zM753 346h1v1h-1zM754 346h1v1h-1zM755 346h1v1h-1zM756 345h1v1h-1zM757 344h1v1h-1zM758 343h1v1h-1zM759 341h1v2h-1zM760 340h1v1h-1zM761 339h1v1h-1zM762 338h1v1h-1zM763 337h1v1h-1zM764 336h1v1h-1zM765 335h1v1h-1zM766 335h1v1h-1zM767 334h1v1h-1zM768 333h1v1h-1zM769 332h1v1h-1zM770 332h1v1h-1zM771 331h1v1h-1zM772 330h1v1h-1zM773 328h1v2h-1zM774 327h1v1h-1zM775 326h1v1h-1zM776 325h1v1h-1zM777 323h1v2h-1zM778 322h1v1h-1zM779 321h1v1h-1zM780 319h1v2h-1zM781 318h1v1h-1zM782 316h1v2h-1zM783 315h1v1h-1zM784 313h1v2h-1zM785 312h1v1h-1zM786 310h1v2h-1zM787 309h1v1h-1zM788 309h1v1h-1zM789 308h1v1h-1zM790 308h1v1h-1zM791 307h1v1h-1zM792 307h1v1h-1zM793 307h1v1h-1zM794 306h1v1h-1zM795 306h1v1h-1zM796 306h1v1h-1zM797 306h1v1h-1zM798 306h1v1h-1zM799 306h1v1h-1zM800 306h1v1h-1zM801 306h1v1h-1zM802 306h1v1h-1zM803 306h1v1h-1zM804 306h1v1h-1zM805 305h1v1h-1zM806 305h1v1h-1zM807 305h1v1h-1zM808 305h1v1h-1zM809 304h1v1h-1zM810 304h1v1h-1zM811 304h1v1h-1zM812 303h1v1h-1zM813 303h1v1h-1zM814 302h1v1h-1zM815 301h1v1h-1zM816 301h1v1h-1zM817 300h1v1h-1zM818 300h1v1h-1zM819 299h1v1h-1zM820 298h1v1h-1zM821 297h1v1h-1zM822 297h1v1h-1zM823 296h1v1h-1zM824 295h1v1h-1zM825 294h1v1h-1zM826 294h1v1h-1zM827 293h1v1h-1zM828 292h1v1h-1zM829 291h1v1h-1zM830 290h1v1h-1zM831 289h1v1h-1zM832 288h1v1h-1zM833 287h1v1h-1zM834 286h1v1h-1zM835 285h1v1h-1zM836 284h1v1h-1zM837 282h1v2h-1zM838 281h1v1h-1zM839 280h1v1h-1zM840 279h1v1h-1zM841 277h1v2h-1zM842 276h1v1h-1zM843 275h1v1h-1zM844 274h1v1h-1zM845 274h1v1h-1zM846 273h1v1h-1zM847 273h1v1h-1zM848 272h1v1h-1zM849 272h1v1h-1zM850 271h1v1h-1zM851 271h1v1h-1zM852 271h1v1h-1zM853 270h1v1h-1zM854 270h1v1h-1zM855 270h1v1h-1zM856 270h1v1h-1zM857 269h1v1h-1zM858 269h1v1h-1zM859 269h1v1h-1zM860 268h1v1h-1zM861 267h1v1h-1zM862 266h1v1h-1zM863 264h1v2h-1zM864 263h1v1h-1zM865 262h1v1h-1zM866 261h1v1h-1zM867 260h1v1h-1zM868 258h1v2h-1zM869 257h1v1h-1zM870 256h1v1h-1zM871 254h1v2h-1zM872 253h1v1h-1zM873 252h1v1h-1zM874 250h1v2h-1zM875 249h1v1h-1zM876 247h1v2h-1zM877 246h1v1h-1zM878 245h1v1h-1zM879 243h1v2h-1zM880 242h1v1h-1zM881 241h1v1h-1zM882 239h1v2h-1zM883 238h1v1h-1zM884 236h1v2h-1zM885 234h1v2h-1zM886 232h1v2h-1zM887 231h1v1h-1zM888 229h1v2h-1zM889 227h1v2h-1zM890 225h1v2h-1zM891 224h1v1h-1zM892 223h1v1h-1zM893 222h1v1h-1zM894 221h1v1h-1zM895 219h1v2h-1zM896 218h1v1h-1zM897 217h1v1h-1zM898 216h1v1h-1zM899 215h1v1h-1zM900 214h1v1h-1zM901 214h1v1h-1zM902 213h1v1h-1zM903 212h1v1h-1zM904 212h1v1h-1zM905 211h1v1h-1zM906 211h1v1h-1zM907 210h1v1h-1zM908 209h1v1h-1zM909 207h1v2h-1zM910 206h1v1h-1zM911 205h1v1h-1zM912 204h1v1h-1zM913 202h1v2h-1zM914 201h1v1h-1zM915 200h1v1h-1zM916 199h1v1h-1zM917 198h1v1h-1zM918 197h1v1h-1zM919 196h1v1h-1zM920 195h1v1h-1zM921 194h1v1h-1zM922 193h1v1h-1zM923 192h1v1h-1zM924 191h1v1h-1zM925 190h1v1h-1zM926 189h1v1h-1zM927 187h1v2h-1zM928 186h1v1h-1zM929 185h1v1h-1zM930 184h1v1h-1zM931 183h1v1h-1zM932 183h1v1h-1zM933 182h1v1h-1zM934 182h1v1h-1zM935 182h1v1h-1zM936 182h1v1h-1zM937 181h1v1h-1zM938 181h1v1h-1zM939 181h1v1h-1zM940 182h1v1h-1zM941 182h1v1h-1zM942 183h1v1h-1zM943 184h1v1h-1zM944 184h1v1h-1zM945 185h1v1h-1zM946 185h1v1h-1zM947 186h1v1h-1zM948 187h1v1h-1zM949 187h1v1h-1zM950 188h1v1h-1zM951 188h1v1h-1zM952 189h1v1h-1zM953 189h1v1h-1zM954 190h1v1h-1zM955 190h1v1h-1zM956 190h1v1h-1zM957 191h1v1h-1zM958 191h1v1h-1zM959 191h1v1h-1zM960 191h1v1h-1zM961 192h1v1h-1zM962 192h1v1h-1zM963 192h1v1h-1zM964 192h1v1h-1zM965 193h1v1h-1zM966 193h1v1h-1zM967 194h1v1h-1zM968 194h1v1h-1zM969 194h1v1h-1zM970 195h1v1h-1zM971 195h1v1h-1zM972 195h1v1h-1zM973 194h1v1h-1zM974 194h1v1h-1zM975 194h1v1h-1zM976 194h1v1h-1zM977 193h1v1h-1zM978 193h1v1h-1zM979 193h1v1h-1zM980 192h1v1h-1zM981 190h1v2h-1zM982 189h1v1h-1zM983 188h1v1h-1zM984 187h1v1h-1zM985 185h1v2h-1zM986 184h1v1h-1zM987 183h1v1h-1zM988 181h1v2h-1zM989 179h1v2h-1zM990 178h1v1h-1zM991 176h1v2h-1zM992 175h1v1h-1zM993 173h1v2h-1zM994 171h1v2h-1zM995 170h1v1h-1zM996 168h1v2h-1zM997 166h1v2h-1zM998 164h1v2h-1zM999 163h1v1h-1zM1000 161h1v2h-1zM1001 159h1v2h-1zM1002 157h1v2h-1zM1003 156h1v1h-1zM1004 154h1v2h-1zM1005 153h1v1h-1zM1006 152h1v1h-1zM1007 150h1v2h-1zM1008 149h1v1h-1zM1009 148h1v1h-1zM1010 146h1v2h-1zM1011 145h1v1h-1zM1012 143h1v2h-1zM1013 141h1v2h-1zM1014 140h1v1h-1zM1015 138h1v2h-1zM1016 137h1v1h-1zM1017 135h1v2h-1zM1018 133h1v2h-1zM1019 132h1v1h-1zM1020 130h1v2h-1zM1021 128h1v2h-1zM1022 127h1v1h-1zM1023 125h1v2h-1zM1024 124h1v1h-1zM1025 122h1v2h-1zM1026 120h1v2h-1zM1027 119h1v1h-1zM1028 118h1v1h-1zM1029 116h1v2h-1zM1030 115h1v1h-1zM1031 114h1v1h-1zM1032 113h1v1h-1zM1033 111h1v2h-1zM1034 110h1v1h-1zM1035 109h1v1h-1zM1036 109h1v1h-1zM1037 108h1v1h-1zM1038 108h1v1h-1zM1039 107h1v1h-1zM1040 107h1v1h-1zM1041 107h1v1h-1zM1042 106h1v1h-1zM1043 106h1v1h-1zM1044 104h1v2h-1zM1045 103h1v1h-1zM1046 102h1v1h-1zM1047 100h1v2h-1zM1048 99h1v1h-1zM1049 98h1v1h-1zM1050 96h1v2h-1zM1051 95h1v1h-1zM1052 94h1v1h-1zM1053 93h1v1h-1zM1054 92h1v1h-1zM1055 91h1v1h-1zM1056 90h1v1h-1zM1057 89h1v1h-1zM1058 88h1v1h-1zM1059 87h1v1h-1zM1060 88h1v1h-1zM1061 88h1v1h-1zM1062 89h1v1h-1zM1063 89h1v1h-1zM1064 90h1v1h-1zM1065 90h1v1h-1zM1066 91h1v1h-1zM1067 91h1v1h-1zM1068 92h1v1h-1zM1069 93h1v1h-1zM1070 93h1v1h-1zM1071 94h1v1h-1zM1072 95h1v1h-1zM1073 96h1v1h-1zM1074 96h1v1h-1zM1075 97h1v1h-1zM1076 97h1v1h-1zM1077 97h1v1h-1zM1078 97h1v1h-1zM1079 98h1v1h-1zM1080 98h1v1h-1zM1081 98h1v1h-1zM1082 98h1v1h-1zM1083 98h1v1h-1zM1084 98h1v1h-1zM1085 98h1v1h-1zM1086 98h1v1h-1zM1087 99h1v1h-1zM1088 99h1v1h-1zM1089 99h1v1h-1zM1090 99h1v1h-1zM1091 99h1v1h-1zM1092 100h1v1h-1zM1093 101h1v1h-1zM1094 101h1v1h-1zM1095 102h1v1h-1zM1096 103h1v1h-1zM1097 104h1v1h-1zM1098 104h1v1h-1zM1099 105h1v1h-1zM1100 105h1v1h-1zM1101 104h1v1h-1zM1102 104h1v1h-1zM1103 104h1v1h-1zM1104 104h1v1h-1zM1105 103h1v1h-1zM1106 103h1v1h-1zM1107 103h1v1h-1zM1108 104h1v1h-1zM1109 104h1v1h-1zM1110 105h1v1h-1zM1111 106h1v1h-1zM1112 106h1v1h-1zM1113 107h1v1h-1zM1114 107h1v1h-1zM1115 108h1v1h-1zM1116 109h1v1h-1zM1117 109h1v1h-1zM1118 110h1v1h-1zM1119 110h1v1h-1zM1120 111h1v1h-1zM1121 111h1v1h-1zM1122 112h1v1h-1zM1123 112h1v1h-1zM1124 112h1v1h-1zM1125 113h1v1h-1zM1126 113h1v1h-1zM1127 114h1v1h-1zM1128 114h1v1h-1zM1129 114h1v1h-1zM1130 115h1v1h-1zM1131 115h1v1h-1zM1132 114h1v1h-1zM1133 113h1v1h-1zM1134 112h1v1h-1zM1135 111h1v1h-1zM1136 111h1v1h-1zM1137 110h1v1h-1zM1138 109h1v1h-1zM1139 108h1v1h-1zM1140 108h1v1h-1zM1141 108h1v1h-1zM1142 108h1v1h-1zM1143 107h1v1h-1zM1144 107h1v1h-1zM1145 107h1v1h-1zM1146 107h1v1h-1zM1147 107h1v1h-1zM1148 106h1v1h-1zM1149 106h1v1h-1zM1150 105h1v1h-1zM1151 105h1v1h-1zM1152 104h1v1h-1zM1153 104h1v1h-1zM1154 103h1v1h-1zM1155 103h1v1h-1zM1156 103h1v1h-1zM1157 103h1v1h-1zM1158 103h1v1h-1zM1159 102h1v1h-1zM1160 102h1v1h-1zM1161 102h1v1h-1zM1162 102h1v1h-1zM1163 102h1v1h-1zM1164 102h1v1h-1zM1165 102h1v1h-1zM1166 102h1v1h-1zM1167 102h1v1h-1zM1168 102h1v1h-1zM1169 102h1v1h-1zM1170 102h1v1h-1zM1171 102h1v1h-1zM1172 103h1v1h-1zM1173 104h1v1h-1zM1174 105h1v1h-1zM1175 106h1v2h-1zM1176 108h1v1h-1zM1177 109h1v1h-1zM1178 110h1v1h-1zM1179 111h1v1h-1zM1180 112h1v1h-1zM1181 113h1v1h-1zM1182 113h1v1h-1zM1183 114h1v1h-1zM1184 115h1v1h-1zM1185 116h1v1h-1zM1186 116h1v1h-1zM1187 117h1v1h-1zM1188 118h1v1h-1zM1189 118h1v1h-1zM1190 119h1v1h-1zM1191 120h1v1h-1zM1192 120h1v1h-1zM1193 121h1v1h-1zM1194 121h1v1h-1zM1195 122h1v1h-1zM1196 123h1v1h-1zM1197 124h1v1h-1zM1198 125h1v1h-1zM1199 126h1v1h-1zM1200 126h1v1h-1zM1201 127h1v1h-1zM1202 128h1v1h-1zM1203 129h1v1h-1zM1204 130h1v2h-1zM1205 132h1v2h-1zM1206 134h1v2h-1zM1207 136h1v2h-1zM1208 138h1v2h-1zM1209 140h1v2h-1zM1210 142h1v2h-1zM1211 144h1v1h-1zM1212 145h1v2h-1zM1213 147h1v1h-1zM1214 148h1v2h-1zM1215 150h1v1h-1zM1216 151h1v2h-1zM1217 153h1v1h-1zM1218 154h1v2h-1zM1219 156h1v1h-1zM1220 157h1v1h-1zM1221 158h1v1h-1zM1222 159h1v1h-1zM1223 160h1v1h-1zM1224 160h1v1h-1zM1225 161h1v1h-1zM1226 162h1v1h-1zM1227 163h1v1h-1zM1228 164h1v1h-1zM1229 165h1v1h-1zM1230 166h1v1h-1zM1231 167h1v1h-1zM1232 168h1v1h-1zM1233 169h1v1h-1zM1234 170h1v1h-1zM1235 171h1v1h-1zM1236 171h1v1h-1zM1237 170h1v1h-1zM1238 170h1v1h-1zM1239 170h1v1h-1zM1240 170h1v1h-1zM1241 169h1v1h-1zM1242 169h1v1h-1zM1243 169h1v1h-1zM1244 168h1v1h-1zM1245 168h1v1h-1zM1246 167h1v1h-1zM1247 166h1v1h-1zM1248 166h1v1h-1zM1249 165h1v1h-1zM1250 165h1v1h-1zM1251 164h1v1h-1zM1252 162h1v2h-1zM1253 161h1v1h-1zM1254 159h1v2h-1zM1255 158h1v1h-1zM1256 156h1v2h-1zM1257 155h1v1h-1zM1258 153h1v2h-1z"/>
<rect x="3" y="61.0" width="1592" height="2" fill="#ff0000"/>
<rect x="4" y="60" width="4" height="4" fill="#fff" stroke="#ff0000" stroke-width="2"/>
<rect x="1590" y="60" width="4" height="4" fill="#fff" stroke="#ff0000" stroke-width="2"/>
<rect x="3" y="118.0" width="1592" height="2" fill="#ff0000"/>
<rect x="4" y="117" width="4" height="4" fill="#fff" stroke="#ff0000" stroke-width="2"/>
<rect x="1590" y="117" width="4" height="4" fill="#fff" stroke="#ff0000" stroke-width="2"/>
<rect x="3" y="175.0" width="1592" height="2" fill="#00ff00"/>
<rect x="4" y="174" width="4" height="4" fill="#fff" stroke="#00ff00" stroke-width="2"/>
<rect x="1590" y="174" width="4" height="4" fill="#fff" stroke="#00ff00" stroke-width="2"/>
<rect x="3" y="232.0" width="1592" height="2" fill="#0000ff"/>
<rect x="4" y="231" width="4" height="4" fill="#fff" stroke="#0000ff" stroke-width="2"/>
<rect x="1590" y="231" width="4" height="4" fill="#fff" stroke="#0000ff" stroke-width="2"/>
<rect x="3" y="289.0" width="1592" height="2" fill="#0000ff"/>
<rect x="4" y="288" width="4" height="4" fill="#fff" stroke="#0000ff" stroke-width="2"/>
<rect x="1590" y="288" width="4" height="4" fill="#fff" stroke="#0000ff" stroke-width="2"/>
<polygon points="1270.5,27 1280.5,27 1275.5,32.2" fill="#c0c0c0" shape-rendering="auto"/>
<line x1="4" y1="568.5" x2="1595" y2="568.5" stroke="#c0c0c0" stroke-width="1" stroke-dasharray="3,3"/>
<line x1="4" y1="604.5" x2="1595" y2="604.5" stroke="#c0c0c0" stroke-width="1" stroke-dasharray="3,3"/>
<path fill="#1e90ff" d="M3 567h1v1h-1zM4 568h1v1h-1zM5 569h1v2h-1zM6 571h1v1h-1zM7 572h1v1h-1zM8 573h1v1h-1zM9 574h1v2h-1zM10 576h1v1h-1zM11 577h1v1h-1zM12 577h1v1h-1zM13 578h1v1h-1zM14 578h1v1h-1zM15 578h1v1h-1zM16 578h1v1h-1zM17 579h1v1h-1zM18 579h1v1h-1zM19 579h1v1h-1zM20 579h1v1h-1zM21 579h1v1h-1zM22 579h1v1h-1zM23 578h1v1h-1zM24 578h1v1h-1zM25 578h1v1h-1zM26 578h1v1h-1zM27 578h1v1h-1zM28 578h1v1h-1zM29 578h1v1h-1zM30 578h1v1h-1zM31 579h1v1h-1zM32 579h1v1h-1zM33 579h1v1h-1zM34 579h1v1h-1zM35 579h1v1h-1zM36 579h1v1h-1zM37 578h1v1h-1zM38 578h1v1h-1zM39 578h1v1h-1zM40 578h1v1h-1zM41 577h1v1h-1zM42 577h1v1h-1zM43 577h1v1h-1zM44 577h1v1h-1zM45 578h1v1h-1zM46 578h1v1h-1zM47 578h1v1h-1zM48 578h1v1h-1zM49 579h1v1h-1zM50 579h1v1h-1zM51 579h1v1h-1zM52 579h1v1h-1zM53 579h1v1h-1zM54 579h1v1h-1zM55 578h1v1h-1zM56 578h1v1h-1zM57 578h1v1h-1zM58 578h1v1h-1zM59 578h1v1h-1zM60 578h1v1h-1zM61 578h1v1h-1zM62 578h1v1h-1zM63 577h1v1h-1zM64 577h1v1h-1zM65 577h1v1h-1zM66 577h1v1h-1zM67 577h1v1h-1zM68 576h1v1h-1zM69 576h1v1h-1zM70 575h1v1h-1zM71 575h1v1h-1zM72 574h1v1h-1zM73 574h1v1h-1zM74 573h1v1h-1zM75 573h1v1h-1zM76 573h1v1h-1zM77 572h1v1h-1zM78 572h1v1h-1zM79 571h1v1h-1zM80 571h1v1h-1zM81 571h1v1h-1zM82 570h1v1h-1zM83 570h1v1h-1zM84 570h1v1h-1zM85 570h1v1h-1zM86 570h1v1h-1zM87 570h1v1h-1zM88 570h1v1h-1zM89 570h1v1h-1zM90 570h1v1h-1zM91 570h1v1h-1zM92 571h1v2h-1zM93 573h1v1h-1zM94 574h1v1h-1zM95 575h1v2h-1zM96 577h1v1h-1zM97 578h1v1h-1zM98 579h1v2h-1zM99 581h1v1h-1zM100 581h1v1h-1zM101 582h1v1h-1zM102 582h1v1h-1zM103 583h1v1h-1zM104 583h1v1h-1zM105 583h1v1h-1zM106 584h1v1h-1zM107 584h1v1h-1zM108 584h1v1h-1zM109 584h1v1h-1zM110 584h1v1h-1zM111 583h1v1h-1zM112 583h1v1h-1zM113 583h1v1h-1zM114 583h1v1h-1zM115 583h1v1h-1zM116 583h1v1h-1zM117 583h1v1h-1zM118 583h1v1h-1zM119 582h1v1h-1zM120 582h1v1h-1zM121 582h1v1h-1zM122 582h1v1h-1zM123 582h1v1h-1zM124 582h1v1h-1zM125 582h1v1h-1zM126 582h1v1h-1zM127 581h1v1h-1zM128 581h1v1h-1zM129 581h1v1h-1zM130 581h1v1h-1zM131 581h1v1h-1zM132 580h1v1h-1zM133 579h1v1h-1zM134 578h1v1h-1zM135 577h1v1h-1zM136 577h1v1h-1zM137 576h1v1h-1zM138 575h1v1h-1zM139 574h1v1h-1zM140 573h1v1h-1zM141 573h1v1h-1zM142 572h1v1h-1zM143 572h1v1h-1zM144 571h1v1h-1zM145 571h1v1h-1zM146 570h1v1h-1zM147 570h1v1h-1zM148 569h1v1h-1zM149 568h1v1h-1zM150 568h1v1h-1zM151 567h1v1h-1zM152 566h1v1h-1zM153 565h1v1h-1zM154 565h1v1h-1zM155 564h1v1h-1zM156 564h1v1h-1zM157 564h1v1h-1zM158 564h1v1h-1zM159 563h1v1h-1zM160 563h1v1h-1zM161 563h1v1h-1zM162 563h1v1h-1zM163 563h1v1h-1zM164 563h1v1h-1zM165 563h1v1h-1zM166 563h1v1h-1zM167 562h1v1h-1zM168 562h1v1h-1zM169 562h1v1h-1zM170 562h1v1h-1zM171 562h1v1h-1zM172 562h1v1h-1zM173 562h1v1h-1zM174 562h1v1h-1zM175 563h1v1h-1zM176 563h1v1h-1zM177 563h1v1h-1zM178 563h1v1h-1zM179 563h1v1h-1zM180 564h1v1h-1zM181 565h1v2h-1zM182 567h1v1h-1zM183 568h1v1h-1zM184 569h1v1h-1zM185 570h1v2h-1zM186 572h1v1h-1zM187 573h1v1h-1zM188 574h1v1h-1zM189 575h1v1h-1zM190 576h1v1h-1zM191 577h1v1h-1zM192 578h1v1h-1zM193 579h1v1h-1zM194 580h1v1h-1zM195 581h1v1h-1zM196 581h1v1h-1zM197 581h1v1h-1zM198 581h1v1h-1zM199 581h1v1h-1zM200 581h1v1h-1zM201 581h1v1h-1zM202 581h1v1h-1zM203 581h1v1h-1zM204 581h1v1h-1zM205 580h1v1h-1zM206 580h1v1h-1zM207 579h1v1h-1zM208 579h1v1h-1zM209 579h1v1h-1zM210 578h1v1h-1zM211 578h1v1h-1zM212 578h1v1h-1zM213 579h1v1h-1zM214 579h1v1h-1zM215 579h1v1h-1zM216 579h1v1h-1zM217 580h1v1h-1zM218 580h1v1h-1zM219 580h1v1h-1zM220 581h1v1h-1zM221 582h1v1h-1zM222 583h1v1h-1zM223 584h1v1h-1zM224 584h1v1h-1zM225 585h1v1h-1zM226 586h1v1h-1zM227 587h1v1h-1zM228 586h1v1h-1zM229 586h1v1h-1zM230 585h1v1h-1zM231 584h1v1h-1zM232 584h1v1h-1zM233 583h1v1h-1zM234 583h1v1h-1zM235 582h1v1h-1zM236 582h1v1h-1zM237 582h1v1h-1zM238 582h1v1h-1zM239 581h1v1h-1zM240 581h1v1h-1zM241 581h1v1h-1zM242 581h1v1h-1zM243 581h1v1h-1zM244 581h1v1h-1zM245 581h1v1h-1zM246 581h1v1h-1zM247 582h1v1h-1zM248 582h1v1h-1zM249 582h1v1h-1zM250 582h1v1h-1zM251 582h1v1h-1zM252 582h1v1h-1zM253 582h1v1h-1zM254 582h1v1h-1zM255 582h1v1h-1zM256 582h1v1h-1zM257 582h1v1h-1zM258 582h1v1h-1zM259 582h1v1h-1zM260 582h1v1h-1zM261 581h1v1h-1zM262 581h1v1h-1zM263 580h1v1h-1zM264 580h1v1h-1zM265 580h1v1h-1zM266 579h1v1h-1zM267 579h1v1h-1zM268 579h1v1h-1zM269 579h1v1h-1zM270 579h1v1h-1zM271 580h1v1h-1zM272 580h1v1h-1zM273 580h1v1h-1zM274 580h1v1h-1zM275 580h1v1h-1zM276 579h1v1h-1zM277 579h1v1h-1zM278 578h1v1h-1zM279 578h1v1h-1zM280 577h1v1h-1zM281 577h1v1h-1zM282 576h1v1h-1zM283 576h1v1h-1zM284 577h1v1h-1zM285 578h1v1h-1zM286 578h1v1h-1zM287 579h1v1h-1zM288 580h1v1h-1zM289 581h1v1h-1zM290 581h1v1h-1zM291 582h1v1h-1zM292 582h1v1h-1zM293 581h1v1h-1zM294 581h1v1h-1zM295 581h1v1h-1zM296 581h1v1h-1zM297 580h1v1h-1zM298 580h1v1h-1zM299 580h1v1h-1zM300 580h1v1h-1zM301 581h1v1h-1zM302 581h1v1h-1zM303 581h1v1h-1zM304 581h1v1h-1zM305 582h1v1h-1zM306 582h1v1h-1zM307 582h1v1h-1zM308 583h1v1h-1zM309 584h1v2h-1zM310 586h1v1h-1zM311 587h1v1h-1zM312 588h1v1h-1zM313 589h1v2h-1zM314 591h1v1h-1zM315 592h1v1h-1zM316 593h1v1h-1zM317 593h1v1h-1zM318 594h1v1h-1zM319 594h1v1h-1zM320 595h1v1h-1zM321 595h1v1h-1zM322 596h1v1h-1zM323 596h1v1h-1zM324 597h1v1h-1zM325 598h1v1h-1zM326 598h1v1h-1zM327 599h1v1h-1zM328 600h1v1h-1zM329 601h1v1h-1zM330 601h1v1h-1zM331 602h1v1h-1zM332 602h1v1h-1zM333 603h1v1h-1zM334 603h1v1h-1zM335 604h1v1h-1zM336 604h1v1h-1zM337 604h1v1h-1zM338 605h1v1h-1zM339 605h1v1h-1zM340 605h1v1h-1zM341 605h1v1h-1zM342 605h1v1h-1zM343 606h1v1h-1zM344 606h1v1h-1zM345 606h1v1h-1zM346 606h1v1h-1zM347 606h1v1h-1zM348 606h1v1h-1zM349 605h1v1h-1zM350 605h1v1h-1zM351 605h1v1h-1zM352 605h1v1h-1zM353 604h1v1h-1zM354 604h1v1h-1zM355 604h1v1h-1zM356 603h1v1h-1zM357 602h1v1h-1zM358 602h1v1h-1zM359 601h1v1h-1zM360 600h1v1h-1zM361 599h1v1h-1zM362 599h1v1h-1zM363 598h1v1h-1zM364 597h1v1h-1zM365 597h1v1h-1zM366 596h1v1h-1zM367 596h1v1h-1zM368 595h1v1h-1zM369 595h1v1h-1zM370 594h1v1h-1zM371 594h1v1h-1zM372 593h1v1h-1zM373 592h1v1h-1zM374 592h1v1h-1zM375 591h1v1h-1zM376 590h1v1h-1zM377 589h1v1h-1zM378 589h1v1h-1zM379 588h1v1h-1zM380 588h1v1h-1zM381 587h1v1h-1zM382 587h1v1h-1zM383 587h1v1h-1zM384 587h1v1h-1zM385 586h1v1h-1zM386 586h1v1h-1zM387 586h1v1h-1zM388 587h1v1h-1zM389 587h1v1h-1zM390 588h1v1h-1zM391 588h1v1h-1zM392 589h1v1h-1zM393 589h1v1h-1zM394 590h1v1h-1zM395 590h1v1h-1zM396 590h1v1h-1zM397 589h1v1h-1zM398 589h1v1h-1zM399 589h1v1h-1zM400 589h1v1h-1zM401 588h1v1h-1zM402 588h1v1h-1zM403 588h1v1h-1zM404 588h1v1h-1zM405 587h1v1h-1zM406 587h1v1h-1zM407 587h1v1h-1zM408 587h1v1h-1zM409 586h1v1h-1zM410 586h1v1h-1zM411 586h1v1h-1zM412 586h1v1h-1zM413 587h1v1h-1zM414 587h1v1h-1zM415 588h1v1h-1zM416 588h1v1h-1zM417 588h1v1h-1zM418 589h1v1h-1zM419 589h1v1h-1zM420 589h1v1h-1zM421 589h1v1h-1zM422 589h1v1h-1zM423 590h1v1h-1zM424 590h1v1h-1zM425 590h1v1h-1zM426 590h1v1h-1zM427 590h1v1h-1zM428 590h1v1h-1zM429 589h1v1h-1zM430 589h1v1h-1zM431 589h1v1h-1zM432 589h1v1h-1zM433 588h1v1h-1zM434 588h1v1h-1zM435 588h1v1h-1zM436 587h1v1h-1zM437 586h1v1h-1zM438 585h1v1h-1zM439 584h1v1h-1zM440 583h1v1h-1zM441 582h1v1h-1zM442 581h1v1h-1zM443 580h1v1h-1zM444 580h1v1h-1zM445 580h1v1h-1zM446 580h1v1h-1zM447 580h1v1h-1zM448 580h1v1h-1zM449 580h1v1h-1zM450 580h1v1h-1zM451 580h1v1h-1zM452 580h1v1h-1zM453 581h1v1h-1zM454 581h1v1h-1zM455 582h1v1h-1zM456 582h1v1h-1zM457 582h1v1h-1zM458 583h1v1h-1zM459 583h1v1h-1zM460 584h1v1h-1zM461 584h1v1h-1zM462 585h1v1h-1zM463 586h1v1h-1zM464 586h1v1h-1zM465 587h1v1h-1zM466 587h1v1h-1zM467 588h1v1h-1zM468 588h1v1h-1zM469 588h1v1h-1zM470 588h1v1h-1zM471 587h1v1h-1zM472 587h1v1h-1zM473 587h1v1h-1zM474 587h1v1h-1zM475 587h1v1h-1zM476 588h1v1h-1zM477 589h1v1h-1zM478 590h1v1h-1zM479 591h1v2h-1zM480 593h1v1h-1zM481 594h1v1h-1zM482 595h1v1h-1zM483 596h1v1h-1zM484 596h1v1h-1zM485 596h1v1h-1zM486 596h1v1h-1zM487 595h1v1h-1zM488 595h1v1h-1zM489 595h1v1h-1zM490 595h1v1h-1zM491 595h1v1h-1zM492 595h1v1h-1zM493 595h1v1h-1zM494 595h1v1h-1zM495 595h1v1h-1zM496 595h1v1h-1zM497 595h1v1h-1zM498 595h1v1h-1zM499 595h1v1h-1zM500 595h1v1h-1zM501 595h1v1h-1zM502 595h1v1h-1zM503 594h1v1h-1zM504 594h1v1h-1zM505 594h1v1h-1zM506 594h1v1h-1zM507 594h1v1h-1zM508 594h1v1h-1zM509 595h1v1h-1zM510 595h1v1h-1zM511 596h1v1h-1zM512 596h1v1h-1zM513 596h1v1h-1zM514 597h1v1h-1zM515 597h1v1h-1zM516 596h1v1h-1zM517 595h1v1h-1zM518 594h1v1h-1zM519 593h1v1h-1zM520 592h1v1h-1zM521 591h1v1h-1zM522 590h1v1h-1zM523 589h1v1h-1zM524 589h1v1h-1zM525 589h1v1h-1zM526 589h1v1h-1zM527 590h1v1h-1zM528 590h1v1h-1zM529 590h1v1h-1zM530 590h1v1h-1zM531 590h1v1h-1zM532 590h1v1h-1zM533 589h1v1h-1zM534 589h1v1h-1zM535 589h1v1h-1zM536 589h1v1h-1zM537 588h1v1h-1zM538 588h1v1h-1zM539 588h1v1h-1zM540 588h1v1h-1zM541 588h1v1h-1zM542 588h1v1h-1zM543 587h1v1h-1zM544 587h1v1h-1zM545 587h1v1h-1zM546 587h1v1h-1zM547 587h1v1h-1zM548 587h1v1h-1zM549 588h1v1h-1zM550 588h1v1h-1zM551 588h1v1h-1zM552 588h1v1h-1zM553 589h1v1h-1zM554 589h1v1h-1zM555 589h1v1h-1zM556 588h1v1h-1zM557 588h1v1h-1zM558 587h1v1h-1zM559 587h1v1h-1zM560 586h1v1h-1zM561 586h1v1h-1zM562 585h1v1h-1zM563 585h1v1h-1zM564 586h1v1h-1zM565 587h1v1h-1zM566 588h1v1h-1zM567 589h1v2h-1zM568 591h1v1h-1zM569 592h1v1h-1zM570 593h1v1h-1zM571 594h1v1h-1zM572 595h1v1h-1zM573 595h1v1h-1zM574 596h1v1h-1zM575 597h1v1h-1zM576 597h1v1h-1zM577 598h1v1h-1zM578 598h1v1h-1zM579 599h1v1h-1zM580 599h1v1h-1zM581 598h1v1h-1zM582 598h1v1h-1zM583 598h1v1h-1zM584 598h1v1h-1zM585 597h1v1h-1zM586 597h1v1h-1zM587 597h1v1h-1zM588 597h1v1h-1zM589 597h1v1h-1zM590 597h1v1h-1zM591 596h1v1h-1zM592 596h1v1h-1zM593 596h1v1h-1zM594 596h1v1h-1zM595 596h1v1h-1zM596 596h1v1h-1zM597 596h1v1h-1zM598 596h1v1h-1zM599 595h1v1h-1zM600 595h1v1h-1zM601 595h1v1h-1zM602 595h1v1h-1zM603 595h1v1h-1zM604 593h1v2h-1zM605 591h1v2h-1zM606 589h1v2h-1zM607 588h1v1h-1zM608 586h1v2h-1zM609 584h1v2h-1zM610 582h1v2h-1zM611 581h1v1h-1zM612 581h1v1h-1zM613 581h1v1h-1zM614 581h1v1h-1zM615 581h1v1h-1zM616 581h1v1h-1zM617 581h1v1h-1zM618 581h1v1h-1zM619 581h1v1h-1zM620 580h1v1h-1zM621 579h1v1h-1zM622 578h1v1h-1zM623 577h1v1h-1zM624 576h1v1h-1zM625 575h1v1h-1zM626 574h1v1h-1zM627 573h1v1h-1zM628 573h1v1h-1zM629 573h1v1h-1zM630 573h1v1h-1zM631 573h1v1h-1zM632 573h1v1h-1zM633 573h1v1h-1zM634 573h1v1h-1zM635 573h1v1h-1zM636 573h1v1h-1zM637 573h1v1h-1zM638 573h1v1h-1zM639 573h1v1h-1zM640 573h1v1h-1zM641 573h1v1h-1zM642 573h1v1h-1zM643 573h1v1h-1zM644 573h1v1h-1zM645 572h1v1h-1zM646 572h1v1h-1zM647 572h1v1h-1zM648 572h1v1h-1zM649 571h1v1h-1zM650 571h1v1h-1zM651 571h1v1h-1zM652 572h1v1h-1zM653 572h1v1h-1zM654 573h1v1h-1zM655 573h1v1h-1zM656 574h1v1h-1zM657 574h1v1h-1zM658 575h1v1h-1zM659 575h1v1h-1zM660 575h1v1h-1zM661 575h1v1h-1zM662 575h1v1h-1zM663 575h1v1h-1zM664 575h1v1h-1zM665 575h1v1h-1zM666 575h1v1h-1zM667 575h1v1h-1zM668 575h1v1h-1zM669 575h1v1h-1zM670 575h1v1h-1zM671 576h1v1h-1zM672 576h1v1h-1zM673 576h1v1h-1zM674 576h1v1h-1zM675 576h1v1h-1zM676 576h1v1h-1zM677 577h1v1h-1zM678 577h1v1h-1zM679 577h1v1h-1zM680 577h1v1h-1zM681 578h1v1h-1zM682 578h1v1h-1zM683 578h1v1h-1zM684 578h1v1h-1zM685 577h1v1h-1zM686 577h1v1h-1zM687 577h1v1h-1zM688 577h1v1h-1zM689 576h1v1h-1zM690 576h1v1h-1zM691 576h1v1h-1zM692 575h1v1h-1zM693 575h1v1h-1zM694 574h1v1h-1zM695 573h1v1h-1zM696 573h1v1h-1zM697 572h1v1h-1zM698 572h1v1h-1zM699 571h1v1h-1zM700 571h1v1h-1zM701 572h1v1h-1zM702 572h1v1h-1zM703 573h1v1h-1zM704 573h1v1h-1zM705 573h1v1h-1zM706 574h1v1h-1zM707 574h1v1h-1zM708 574h1v1h-1zM709 573h1v1h-1zM710 573h1v1h-1zM711 573h1v1h-1zM712 573h1v1h-1zM713 572h1v1h-1zM714 572h1v1h-1zM715 572h1v1h-1zM716 573h1v1h-1zM717 574h1v1h-1zM718 575h1v1h-1zM719 576h1v1h-1zM720 577h1v1h-1zM721 578h1v1h-1zM722 579h1v1h-1zM723 580h1v1h-1zM724 579h1v1h-1zM725 579h1v1h-1zM726 578h1v1h-1zM727 578h1v1h-1zM728 577h1v1h-1zM729 577h1v1h-1zM730 576h1v1h-1zM731 576h1v1h-1zM732 576h1v1h-1zM733 576h1v1h-1zM734 576h1v1h-1zM735 576h1v1h-1zM736 576h1v1h-1zM737 576h1v1h-1zM738 576h1v1h-1zM739 576h1v1h-1zM740 577h1v1h-1zM741 577h1v1h-1zM742 578h1v1h-1zM743 579h1v1h-1zM744 579h1v1h-1zM745 580h1v1h-1zM746 580h1v1h-1zM747 581h1v1h-1zM748 580h1v1h-1zM749 580h1v1h-1zM750 579h1v1h-1zM751 578h1v1h-1zM752 578h1v1h-1zM753 577h1v1h-1zM754 577h1v1h-1zM755 576h1v1h-1zM756 576h1v1h-1zM757 575h1v1h-1zM758 575h1v1h-1zM759 575h1v1h-1zM760 575h1v1h-1zM761 574h1v1h-1zM762 574h1v1h-1zM763 574h1v1h-1zM764 574h1v1h-1zM765 574h1v1h-1zM766 574h1v1h-1zM767 573h1v1h-1zM768 573h1v1h-1zM769 573h1v1h-1zM770 573h1v1h-1zM771 573h1v1h-1zM772 573h1v1h-1zM773 572h1v1h-1zM774 572h1v1h-1zM775 571h1v1h-1zM776 571h1v1h-1zM777 571h1v1h-1zM778 570h1v1h-1zM779 570h1v1h-1zM780 570h1v1h-1zM781 570h1v1h-1zM782 570h1v1h-1zM783 571h1v1h-1zM784 571h1v1h-1zM785 571h1v1h-1zM786 571h1v1h-1zM787 571h1v1h-1zM788 572h1v1h-1zM789 572h1v1h-1zM790 573h1v1h-1zM791 573h1v1h-1zM792 574h1v1h-1zM793 574h1v1h-1zM794 575h1v1h-1zM795 575h1v1h-1zM796 575h1v1h-1zM797 576h1v1h-1zM798 576h1v1h-1zM799 576h1v1h-1zM800 576h1v1h-1zM801 577h1v1h-1zM802 577h1v1h-1zM803 577h1v1h-1zM804 577h1v1h-1zM805 576h1v1h-1zM806 576h1v1h-1zM807 575h1v1h-1zM808 575h1v1h-1zM809 575h1v1h-1zM810 574h1v1h-1zM811 574h1v1h-1zM812 573h1v1h-1zM813 572h1v1h-1zM814 572h1v1h-1zM815 571h1v1h-1zM816 570h1v1h-1zM817 569h1v1h-1zM818 569h1v1h-1zM819 568h1v1h-1zM820 568h1v1h-1zM821 569h1v1h-1zM822 569h1v1h-1zM823 570h1v1h-1zM824 570h1v1h-1zM825 570h1v1h-1zM826 571h1v1h-1zM827 571h1v1h-1zM828 571h1v1h-1zM829 571h1v1h-1zM830 571h1v1h-1zM831 570h1v1h-1zM832 570h1v1h-1zM833 570h1v1h-1zM834 570h1v1h-1zM835 570h1v1h-1zM836 570h1v1h-1zM837 570h1v1h-1zM838 570h1v1h-1zM839 570h1v1h-1zM840 570h1v1h-1zM841 570h1v1h-1zM842 570h1v1h-1zM843 570h1v1h-1zM844 571h1v1h-1zM845 571h1v1h-1zM846 572h1v1h-1zM847 572h1v1h-1zM848 573h1v1h-1zM849 573h1v1h-1zM850 574h1v1h-1zM851 574h1v1h-1zM852 574h1v1h-1zM853 573h1v1h-1zM854 573h1v1h-1zM855 572h1v1h-1zM856 572h1v1h-1zM857 572h1v1h-1zM858 571h1v1h-1zM859 571h1v1h-1zM860 570h1v1h-1zM861 570h1v1h-1zM862 569h1v1h-1zM863 569h1v1h-1zM864 568h1v1h-1zM865 568h1v1h-1zM866 567h1v1h-1zM867 567h1v1h-1zM868 567h1v1h-1zM869 566h1v1h-1zM870 566h1v1h-1zM871 566h1v1h-1zM872 566h1v1h-1zM873 565h1v1h-1zM874 565h1v1h-1zM875 565h1v1h-1zM876 565h1v1h-1zM877 565h1v1h-1zM878 565h1v1h-1zM879 565h1v1h-1zM880 565h1v1h-1zM881 565h1v1h-1zM882 565h1v1h-1zM883 565h1v1h-1zM884 565h1v1h-1zM885 565h1v1h-1zM886 565h1v1h-1zM887 565h1v1h-1zM888 565h1v1h-1zM889 565h1v1h-1zM890 565h1v1h-1zM891 565h1v1h-1zM892 565h1v1h-1zM893 565h1v1h-1zM894 565h1v1h-1zM895 565h1v1h-1zM896 565h1v1h-1zM897 565h1v1h-1zM898 565h1v1h-1zM899 565h1v1h-1zM900 565h1v1h-1zM901 564h1v1h-1zM902 564h1v1h-1zM903 564h1v1h-1zM904 564h1v1h-1zM905 563h1v1h-1zM906 563h1v1h-1zM907 563h1v1h-1zM908 563h1v1h-1zM909 562h1v1h-1zM910 562h1v1h-1zM911 561h1v1h-1zM912 561h1v1h-1zM913 561h1v1h-1zM914 560h1v1h-1zM915 560h1v1h-1zM916 560h1v1h-1zM917 560h1v1h-1zM918 560h1v1h-1zM919 561h1v1h-1zM920 561h1v1h-1zM921 561h1v1h-1zM922 561h1v1h-1zM923 561h1v1h-1zM924 561h1v1h-1zM925 561h1v1h-1zM926 561h1v1h-1zM927 561h1v1h-1zM928 561h1v1h-1zM929 561h1v1h-1zM930 561h1v1h-1zM931 561h1v1h-1zM932 562h1v2h-1zM933 564h1v1h-1zM934 565h1v2h-1zM935 567h1v1h-1zM936 568h1v2h-1zM937 570h1v1h-1zM938 571h1v2h-1zM939 573h1v1h-1zM940 574h1v1h-1zM941 575h1v1h-1zM942 575h1v1h-1zM943 576h1v1h-1zM944 577h1v1h-1zM945 578h1v1h-1zM946 578h1v1h-1zM947 579h1v1h-1zM948 578h1v1h-1zM949 577h1v1h-1zM950 577h1v1h-1zM951 576h1v1h-1zM952 575h1v1h-1zM953 574h1v1h-1zM954 574h1v1h-1zM955 573h1v1h-1zM956 573h1v1h-1zM957 573h1v1h-1zM958 573h1v1h-1zM959 572h1v1h-1zM960 572h1v1h-1zM961 572h1v1h-1zM962 572h1v1h-1zM963 572h1v1h-1zM964 572h1v1h-1zM965 572h1v1h-1zM966 572h1v1h-1zM967 572h1v1h-1zM968 572h1v1h-1zM969 572h1v1h-1zM970 572h1v1h-1zM971 572h1v1h-1zM972 573h1v1h-1zM973 573h1v1h-1zM974 574h1v1h-1zM975 575h1v1h-1zM976 575h1v1h-1zM977 576h1v1h-1zM978 576h1v1h-1zM979 577h1v1h-1zM980 576h1v1h-1zM981 576h1v1h-1zM982 575h1v1h-1zM983 574h1v1h-1zM984 574h1v1h-1zM985 573h1v1h-1zM986 573h1v1h-1zM987 572h1v1h-1zM988 571h1v1h-1zM989 571h1v1h-1zM990 570h1v1h-1zM991 569h1v1h-1zM992 569h1v1h-1zM993 568h1v1h-1zM994 568h1v1h-1zM995 567h1v1h-1zM996 567h1v1h-1zM997 566h1v1h-1zM998 566h1v1h-1zM999 566h1v1h-1zM1000 566h1v1h-1zM1001 565h1v1h-1zM1002 565h1v1h-1zM1003 565h1v1h-1zM1004 566h1v1h-1zM1005 566h1v1h-1zM1006 567h1v1h-1zM1007 567h1v1h-1zM1008 568h1v1h-1zM1009 568h1v1h-1zM1010 569h1v1h-1zM1011 569h1v1h-1zM1012 569h1v1h-1zM1013 569h1v1h-1zM1014 569h1v1h-1zM1015 570h1v1h-1zM1016 570h1v1h-1zM1017 570h1v1h-1zM1018 570h1v1h-1zM1019 570h1v1h-1zM1020 570h1v1h-1zM1021 569h1v1h-1zM1022 569h1v1h-1zM1023 568h1v1h-1zM1024 568h1v1h-1zM1025 568h1v1h-1zM1026 567h1v1h-1zM1027 567h1v1h-1zM1028 567h1v1h-1zM1029 566h1v1h-1zM1030 566h1v1h-1zM1031 566h1v1h-1zM1032 566h1v1h-1zM1033 565h1v1h-1zM1034 565h1v1h-1zM1035 565h1v1h-1zM1036 565h1v1h-1zM1037 566h1v1h-1zM1038 566h1v1h-1zM1039 567h1v1h-1zM1040 567h1v1h-1zM1041 567h1v1h-1zM1042 568h1v1h-1zM1043 568h1v1h-1zM1044 568h1v1h-1zM1045 567h1v1h-1zM1046 567h1v1h-1zM1047 567h1v1h-1zM1048 567h1v1h-1zM1049 566h1v1h-1zM1050 566h1v1h-1zM1051 566h1v1h-1zM1052 567h1v1h-1zM1053 568h1v1h-1zM1054 568h1v1h-1zM1055 569h1v1h-1zM1056 570h1v1h-1zM1057 571h1v1h-1zM1058 571h1v1h-1zM1059 572h1v1h-1zM1060 573h1v1h-1zM1061 574h1v1h-1zM1062 574h1v1h-1zM1063 575h1v1h-1zM1064 576h1v1h-1zM1065 577h1v1h-1zM1066 577h1v1h-1zM1067 578h1v1h-1zM1068 578h1v1h-1zM1069 577h1v1h-1zM1070 577h1v1h-1zM1071 577h1v1h-1zM1072 577h1v1h-1zM1073 576h1v1h-1zM1074 576h1v1h-1zM1075 576h1v1h-1zM1076 576h1v1h-1zM1077 576h1v1h-1zM1078 576h1v1h-1zM1079 575h1v1h-1zM1080 575h1v1h-1zM1081 575h1v1h-1zM1082 575h1v1h-1zM1083 575h1v1h-1zM1084 575h1v1h-1zM1085 574h1v1h-1zM1086 574h1v1h-1zM1087 573h1v1h-1zM1088 573h1v1h-1zM1089 573h1v1h-1zM1090 572h1v1h-1zM1091 572h1v1h-1zM1092 573h1v1h-1zM1093 574h1v1h-1zM1094 575h1v1h-1zM1095 576h1v2h-1zM1096 578h1v1h-1zM1097 579h1v1h-1zM1098 580h1v1h-1zM1099 581h1v1h-1zM1100 581h1v1h-1zM1101 581h1v1h-1zM1102 581h1v1h-1zM1103 580h1v1h-1zM1104 580h1v1h-1zM1105 580h1v1h-1zM1106 580h1v1h-1zM1107 580h1v1h-1zM1108 580h1v1h-1zM1109 581h1v1h-1zM1110 581h1v1h-1zM1111 582h1v1h-1zM1112 582h1v1h-1zM1113 582h1v1h-1zM1114 583h1v1h-1zM1115 583h1v1h-1zM1116 583h1v1h-1zM1117 582h1v1h-1zM1118 582h1v1h-1zM1119 582h1v1h-1zM1120 582h1v1h-1zM1121 581h1v1h-1zM1122 581h1v1h-1zM1123 581h1v1h-1zM1124 580h1v1h-1zM1125 580h1v1h-1zM1126 579h1v1h-1zM1127 579h1v1h-1zM1128 578h1v1h-1zM1129 578h1v1h-1zM1130 577h1v1h-1zM1131 577h1v1h-1zM1132 577h1v1h-1zM1133 576h1v1h-1zM1134 576h1v1h-1zM1135 576h1v1h-1zM1136 576h1v1h-1zM1137 575h1v1h-1zM1138 575h1v1h-1zM1139 575h1v1h-1zM1140 576h1v1h-1zM1141 577h1v1h-1zM1142 577h1v1h-1zM1143 578h1v1h-1zM1144 579h1v1h-1zM1145 580h1v1h-1zM1146 580h1v1h-1zM1147 581h1v1h-1zM1148 581h1v1h-1zM1149 581h1v1h-1zM1150 581h1v1h-1zM1151 581h1v1h-1zM1152 581h1v1h-1zM1153 581h1v1h-1zM1154 581h1v1h-1zM1155 581h1v1h-1zM1156 581h1v1h-1zM1157 582h1v1h-1zM1158 582h1v1h-1zM1159 582h1v1h-1zM1160 582h1v1h-1zM1161 583h1v1h-1zM1162 583h1v1h-1zM1163 583h1v1h-1zM1164 582h1v1h-1zM1165 582h1v1h-1zM1166 581h1v1h-1zM1167 581h1v1h-1zM1168 580h1v1h-1zM1169 580h1v1h-1zM1170 579h1v1h-1zM1171 579h1v1h-1zM1172 580h1v1h-1zM1173 581h1v1h-1zM1174 582h1v1h-1zM1175 583h1v1h-1zM1176 583h1v1h-1zM1177 584h1v1h-1zM1178 585h1v1h-1zM1179 586h1v1h-1zM1180 586h1v1h-1zM1181 587h1v1h-1zM1182 587h1v1h-1zM1183 587h1v1h-1zM1184 587h1v1h-1zM1185 588h1v1h-1zM1186 588h1v1h-1zM1187 588h1v1h-1zM1188 588h1v1h-1zM1189 588h1v1h-1zM1190 588h1v1h-1zM1191 587h1v1h-1zM1192 587h1v1h-1zM1193 587h1v1h-1zM1194 587h1v1h-1zM1195 587h1v1h-1zM1196 588h1v1h-1zM1197 588h1v1h-1zM1198 589h1v1h-1zM1199 589h1v1h-1zM1200 590h1v1h-1zM1201 590h1v1h-1zM1202 591h1v1h-1zM1203 591h1v1h-1zM1204 591h1v1h-1zM1205 592h1v1h-1zM1206 592h1v1h-1zM1207 592h1v1h-1zM1208 592h1v1h-1zM1209 593h1v1h-1zM1210 593h1v1h-1zM1211 593h1v1h-1zM1212 594h1v1h-1zM1213 594h1v1h-1zM1214 595h1v1h-1zM1215 595h1v1h-1zM1216 596h1v1h-1zM1217 596h1v1h-1zM1218 597h1v1h-1zM1219 597h1v1h-1zM1220 596h1v1h-1zM1221 596h1v1h-1zM1222 595h1v1h-1zM1223 594h1v1h-1zM1224 594h1v1h-1zM1225 593h1v1h-1zM1226 593h1v1h-1zM1227 592h1v1h-1zM1228 592h1v1h-1zM1229 593h1v1h-1zM1230 593h1v1h-1zM1231 593h1v1h-1zM1232 593h1v1h-1zM1233 594h1v1h-1zM1234 594h1v1h-1zM1235 594h1v1h-1zM1236 593h1v1h-1zM1237 592h1v1h-1zM1238 591h1v1h-1zM1239 590h1v1h-1zM1240 589h1v1h-1zM1241 588h1v1h-1zM1242 587h1v1h-1zM1243 586h1v1h-1zM1244 586h1v1h-1zM1245 586h1v1h-1zM1246 586h1v1h-1zM1247 585h1v1h-1zM1248 585h1v1h-1zM1249 585h1v1h-1zM1250 585h1v1h-1zM1251 585h1v1h-1zM1252 585h1v1h-1zM1253 585h1v1h-1zM1254 585h1v1h-1zM1255 584h1v1h-1zM1256 584h1v1h-1zM1257 584h1v1h-1zM1258 584h1v1h-1z"/>
<rect x="3.0" y="652" width="1" height="40" fill="#c0c0c0"/>
<rect x="11.0" y="655" width="1" height="37" fill="#c0c0c0"/>
<rect x="19.0" y="658" width="1" height="34" fill="#c0c0c0"/>
<rect x="27.0" y="660" width="1" height="32" fill="#c0c0c0"/>
<rect x="35.0" y="662" width="1" height="30" fill="#c0c0c0"/>
<rect x="43.0" y="664" width="1" height="28" fill="#c0c0c0"/>
<rect x="51.0" y="665" width="1" height="27" fill="#c0c0c0"/>
<rect x="59.0" y="667" width="1" height="25" fill="#c0c0c0"/>
<rect x="67.0" y="668" width="1" height="24" fill="#c0c0c0"/>
<rect x="75.0" y="667" width="1" height="25" fill="#c0c0c0"/>
<rect x="83.0" y="666" width="1" height="26" fill="#c0c0c0"/>
<rect x="91.0" y="665" width="1" height="27" fill="#c0c0c0"/>
<rect x="99.0" y="668" width="1" height="24" fill="#c0c0c0"/>
<rect x="107.0" y="671" width="1" height="21" fill="#c0c0c0"/>
<rect x="115.0" y="673" width="1" height="19" fill="#c0c0c0"/>
<rect x="123.0" y="675" width="1" height="17" fill="#c0c0c0"/>
<rect x="131.0" y="676" width="1" height="16" fill="#c0c0c0"/>
<rect x="139.0" y="675" width="1" height="17" fill="#c0c0c0"/>
<rect x="147.0" y="672" width="1" height="20" fill="#c0c0c0"/>
<rect x="155.0" y="666" width="1" height="26" fill="#c0c0c0"/>
<rect x="163.0" y="661" width="1" height="31" fill="#c0c0c0"/>
<rect x="171.0" y="656" width="1" height="36" fill="#c0c0c0"/>
<rect x="179.0" y="653" width="1" height="39" fill="#c0c0c0"/>
<rect x="187.0" y="654" width="1" height="38" fill="#c0c0c0"/>
<rect x="195.0" y="658" width="1" height="34" fill="#c0c0c0"/>
<rect x="203.0" y="661" width="1" height="31" fill="#c0c0c0"/>
<rect x="211.0" y="663" width="1" height="29" fill="#c0c0c0"/>
<rect x="219.0" y="665" width="1" height="27" fill="#c0c0c0"/>
<rect x="227.0" y="670" width="1" height="22" fill="#c0c0c0"/>
<rect x="235.0" y="671" width="1" height="21" fill="#c0c0c0"/>
<rect x="243.0" y="672" width="1" height="20" fill="#c0c0c0"/>
<rect x="251.0" y="674" width="1" height="18" fill="#c0c0c0"/>
<rect x="259.0" y="675" width="1" height="17" fill="#c0c0c0"/>
<rect x="267.0" y="675" width="1" height="17" fill="#c0c0c0"/>
<rect x="275.0" y="676" width="1" height="16" fill="#c0c0c0"/>
<rect x="283.0" y="674" width="1" height="18" fill="#c0c0c0"/>
<rect x="291.0" y="675" width="1" height="17" fill="#c0c0c0"/>
<rect x="299.0" y="676" width="1" height="16" fill="#c0c0c0"/>
<rect x="307.0" y="677" width="1" height="15" fill="#c0c0c0"/>
<rect x="315.0" y="682" width="1" height="10" fill="#c0c0c0"/>
<rect x="323.0" y="688" width="1" height="4" fill="#c0c0c0"/>
<rect x="331.0" y="691" width="1" height="5" fill="#c0c0c0"/>
<rect x="339.0" y="691" width="1" height="14" fill="#c0c0c0"/>
<rect x="347.0" y="691" width="1" height="23" fill="#c0c0c0"/>
<rect x="355.0" y="691" width="1" height="28" fill="#c0c0c0"/>
<rect x="363.0" y="691" width="1" height="30" fill="#c0c0c0"/>
<rect x="371.0" y="691" width="1" height="30" fill="#c0c0c0"/>
<rect x="379.0" y="691" width="1" height="26" fill="#c0c0c0"/>
<rect x="387.0" y="691" width="1" height="23" fill="#c0c0c0"/>
<rect x="395.0" y="691" width="1" height="20" fill="#c0c0c0"/>
<rect x="403.0" y="691" width="1" height="19" fill="#c0c0c0"/>
<rect x="411.0" y="691" width="1" height="16" fill="#c0c0c0"/>
<rect x="419.0" y="691" width="1" height="15" fill="#c0c0c0"/>
<rect x="427.0" y="691" width="1" height="15" fill="#c0c0c0"/>
<rect x="435.0" y="691" width="1" height="12" fill="#c0c0c0"/>
<rect x="443.0" y="691" width="1" height="8" fill="#c0c0c0"/>
<rect x="451.0" y="691" width="1" height="3" fill="#c0c0c0"/>
<rect x="459.0" y="691" width="1" height="2" fill="#c0c0c0"/>
<rect x="467.0" y="691" width="1" height="2" fill="#c0c0c0"/>
<rect x="475.0" y="691" width="1" height="3" fill="#c0c0c0"/>
<rect x="483.0" y="691" width="1" height="9" fill="#c0c0c0"/>
<rect x="491.0" y="691" width="1" height="11" fill="#c0c0c0"/>
<rect x="499.0" y="691" width="1" height="13" fill="#c0c0c0"/>
<rect x="507.0" y="691" width="1" height="15" fill="#c0c0c0"/>
<rect x="515.0" y="691" width="1" height="18" fill="#c0c0c0"/>
<rect x="523.0" y="691" width="1" height="16" fill="#c0c0c0"/>
<rect x="531.0" y="691" width="1" height="16" fill="#c0c0c0"/>
<rect x="539.0" y="691" width="1" height="14" fill="#c0c0c0"/>
<rect x="547.0" y="691" width="1" height="12" fill="#c0c0c0"/>
<rect x="555.0" y="691" width="1" height="11" fill="#c0c0c0"/>
<rect x="563.0" y="691" width="1" height="10" fill="#c0c0c0"/>
<rect x="571.0" y="691" width="1" height="12" fill="#c0c0c0"/>
<rect x="579.0" y="691" width="1" height="15" fill="#c0c0c0"/>
<rect x="587.0" y="691" width="1" height="19" fill="#c0c0c0"/>
<rect x="595.0" y="691" width="1" height="21" fill="#c0c0c0"/>
<rect x="603.0" y="691" width="1" height="21" fill="#c0c0c0"/>
<rect x="611.0" y="691" width="1" height="15" fill="#c0c0c0"/>
<rect x="619.0" y="691" width="1" height="9" fill="#c0c0c0"/>
<rect x="627.0" y="691" width="1" height="1" fill="#c0c0c0"/>
<rect x="635.0" y="685" width="1" height="7" fill="#c0c0c0"/>
<rect x="643.0" y="680" width="1" height="12" fill="#c0c0c0"/>
<rect x="651.0" y="674" width="1" height="18" fill="#c0c0c0"/>
<rect x="659.0" y="671" width="1" height="21" fill="#c0c0c0"/>
<rect x="667.0" y="669" width="1" height="23" fill="#c0c0c0"/>
<rect x="675.0" y="668" width="1" height="24" fill="#c0c0c0"/>
<rect x="683.0" y="669" width="1" height="23" fill="#c0c0c0"/>
<rect x="691.0" y="668" width="1" height="24" fill="#c0c0c0"/>
<rect x="699.0" y="665" width="1" height="27" fill="#c0c0c0"/>
<rect x="707.0" y="664" width="1" height="28" fill="#c0c0c0"/>
<rect x="715.0" y="663" width="1" height="29" fill="#c0c0c0"/>
<rect x="723.0" y="664" width="1" height="28" fill="#c0c0c0"/>
<rect x="731.0" y="664" width="1" height="28" fill="#c0c0c0"/>
<rect x="739.0" y="664" width="1" height="28" fill="#c0c0c0"/>
<rect x="747.0" y="664" width="1" height="28" fill="#c0c0c0"/>
<rect x="755.0" y="663" width="1" height="29" fill="#c0c0c0"/>
<rect x="763.0" y="662" width="1" height="30" fill="#c0c0c0"/>
<rect x="771.0" y="660" width="1" height="32" fill="#c0c0c0"/>
<rect x="779.0" y="659" width="1" height="33" fill="#c0c0c0"/>
<rect x="787.0" y="659" width="1" height="33" fill="#c0c0c0"/>
<rect x="795.0" y="660" width="1" height="32" fill="#c0c0c0"/>
<rect x="803.0" y="660" width="1" height="32" fill="#c0c0c0"/>
<rect x="811.0" y="661" width="1" height="31" fill="#c0c0c0"/>
<rect x="819.0" y="659" width="1" height="33" fill="#c0c0c0"/>
<rect x="827.0" y="658" width="1" height="34" fill="#c0c0c0"/>
<rect x="835.0" y="657" width="1" height="35" fill="#c0c0c0"/>
<rect x="843.0" y="656" width="1" height="36" fill="#c0c0c0"/>
<rect x="851.0" y="658" width="1" height="34" fill="#c0c0c0"/>
<rect x="859.0" y="657" width="1" height="35" fill="#c0c0c0"/>
<rect x="867.0" y="654" width="1" height="38" fill="#c0c0c0"/>
<rect x="875.0" y="651" width="1" height="41" fill="#c0c0c0"/>
<rect x="883.0" y="650" width="1" height="42" fill="#c0c0c0"/>
<rect x="891.0" y="649" width="1" height="43" fill="#c0c0c0"/>
<rect x="899.0" y="648" width="1" height="44" fill="#c0c0c0"/>
<rect x="907.0" y="647" width="1" height="45" fill="#c0c0c0"/>
<rect x="915.0" y="644" width="1" height="48" fill="#c0c0c0"/>
<rect x="923.0" y="643" width="1" height="49" fill="#c0c0c0"/>
<rect x="931.0" y="642" width="1" height="50" fill="#c0c0c0"/>
<rect x="939.0" y="645" width="1" height="47" fill="#c0c0c0"/>
<rect x="947.0" y="649" width="1" height="43" fill="#c0c0c0"/>
<rect x="955.0" y="651" width="1" height="41" fill="#c0c0c0"/>
<rect x="963.0" y="651" width="1" height="41" fill="#c0c0c0"/>
<rect x="971.0" y="652" width="1" height="40" fill="#c0c0c0"/>
<rect x="979.0" y="655" width="1" height="37" fill="#c0c0c0"/>
<rect x="987.0" y="655" width="1" height="37" fill="#c0c0c0"/>
<rect x="995.0" y="652" width="1" height="40" fill="#c0c0c0"/>
<rect x="1003.0" y="648" width="1" height="44" fill="#c0c0c0"/>
<rect x="1011.0" y="647" width="1" height="45" fill="#c0c0c0"/>
<rect x="1019.0" y="647" width="1" height="45" fill="#c0c0c0"/>
<rect x="1027.0" y="646" width="1" height="46" fill="#c0c0c0"/>
<rect x="1035.0" y="643" width="1" height="49" fill="#c0c0c0"/>
<rect x="1043.0" y="642" width="1" height="50" fill="#c0c0c0"/>
<rect x="1051.0" y="641" width="1" height="51" fill="#c0c0c0"/>
<rect x="1059.0" y="642" width="1" height="50" fill="#c0c0c0"/>
<rect x="1067.0" y="646" width="1" height="46" fill="#c0c0c0"/>
<rect x="1075.0" y="648" width="1" height="44" fill="#c0c0c0"/>
<rect x="1083.0" y="649" width="1" height="43" fill="#c0c0c0"/>
<rect x="1091.0" y="650" width="1" height="42" fill="#c0c0c0"/>
<rect x="1099.0" y="654" width="1" height="38" fill="#c0c0c0"/>
<rect x="1107.0" y="657" width="1" height="35" fill="#c0c0c0"/>
<rect x="1115.0" y="661" width="1" height="31" fill="#c0c0c0"/>
<rect x="1123.0" y="664" width="1" height="28" fill="#c0c0c0"/>
<rect x="1131.0" y="664" width="1" height="28" fill="#c0c0c0"/>
<rect x="1139.0" y="664" width="1" height="28" fill="#c0c0c0"/>
<rect x="1147.0" y="666" width="1" height="26" fill="#c0c0c0"/>
<rect x="1155.0" y="668" width="1" height="24" fill="#c0c0c0"/>
<rect x="1163.0" y="671" width="1" height="21" fill="#c0c0c0"/>
<rect x="1171.0" y="671" width="1" height="21" fill="#c0c0c0"/>
<rect x="1179.0" y="674" width="1" height="18" fill="#c0c0c0"/>
<rect x="1187.0" y="678" width="1" height="14" fill="#c0c0c0"/>
<rect x="1195.0" y="681" width="1" height="11" fill="#c0c0c0"/>
<rect x="1203.0" y="685" width="1" height="7" fill="#c0c0c0"/>
<rect x="1211.0" y="689" width="1" height="3" fill="#c0c0c0"/>
<rect x="1219.0" y="691" width="1" height="3" fill="#c0c0c0"/>
<rect x="1227.0" y="691" width="1" height="5" fill="#c0c0c0"/>
<rect x="1235.0" y="691" width="1" height="8" fill="#c0c0c0"/>
<rect x="1243.0" y="691" width="1" height="6" fill="#c0c0c0"/>
<rect x="1251.0" y="691" width="1" height="5" fill="#c0c0c0"/>
<rect x="1259.0" y="691" width="1" height="3" fill="#c0c0c0"/>
<path fill="#ff0000" d="M3 652h1v1h-1zM4 652h1v1h-1zM5 652h1v1h-1zM9 653h1v1h-1zM10 653h1v1h-1zM11 653h1v1h-1zM15 653h1v1h-1zM16 654h1v1h-1zM17 654h1v1h-1zM21 654h1v1h-1zM22 654h1v1h-1zM23 654h1v1h-1zM27 655h1v1h-1zM28 655h1v1h-1zM29 655h1v1h-1zM33 656h1v1h-1zM34 656h1v1h-1zM35 656h1v1h-1zM39 657h1v1h-1zM40 657h1v1h-1zM41 657h1v1h-1zM45 658h1v1h-1zM46 658h1v1h-1zM47 658h1v1h-1zM51 659h1v1h-1zM52 659h1v1h-1zM53 659h1v1h-1zM57 660h1v1h-1zM58 660h1v1h-1zM59 660h1v1h-1zM63 660h1v1h-1zM64 661h1v1h-1zM65 661h1v1h-1zM69 661h1v1h-1zM70 661h1v1h-1zM71 661h1v1h-1zM75 662h1v1h-1zM76 662h1v1h-1zM77 662h1v1h-1zM81 663h1v1h-1zM82 663h1v1h-1zM83 663h1v1h-1zM87 663h1v1h-1zM88 664h1v1h-1zM89 664h1v1h-1zM93 664h1v1h-1zM94 664h1v1h-1zM95 664h1v1h-1zM99 665h1v1h-1zM100 665h1v1h-1zM101 665h1v1h-1zM105 666h1v1h-1zM106 666h1v1h-1zM107 666h1v1h-1zM111 666h1v1h-1zM112 667h1v1h-1zM113 667h1v1h-1zM117 667h1v1h-1zM118 667h1v1h-1zM119 667h1v1h-1zM123 668h1v1h-1zM124 668h1v1h-1zM125 668h1v1h-1zM129 669h1v1h-1zM130 669h1v1h-1zM131 669h1v1h-1zM135 669h1v1h-1zM136 669h1v1h-1zM137 669h1v1h-1zM141 670h1v1h-1zM142 670h1v1h-1zM143 670h1v1h-1zM147 670h1v1h-1zM148 670h1v1h-1zM149 670h1v1h-1zM153 670h1v1h-1zM154 670h1v1h-1zM155 670h1v1h-1zM159 670h1v1h-1zM160 669h1v1h-1zM161 669h1v1h-1zM165 669h1v1h-1zM166 669h1v1h-1zM167 669h1v1h-1zM171 668h1v1h-1zM172 668h1v1h-1zM173 668h1v1h-1zM177 667h1v1h-1zM178 666h1v1h-1zM179 666h1v1h-1zM183 665h1v1h-1zM184 665h1v1h-1zM185 665h1v1h-1zM189 664h1v1h-1zM190 663h1v1h-1zM191 663h1v1h-1zM195 662h1v1h-1zM196 662h1v1h-1zM197 662h1v1h-1zM201 661h1v1h-1zM202 661h1v1h-1zM203 660h1v1h-1zM207 660h1v1h-1zM208 660h1v1h-1zM209 659h1v1h-1zM213 659h1v1h-1zM214 659h1v1h-1zM215 659h1v1h-1zM219 659h1v1h-1zM220 658h1v1h-1zM221 658h1v1h-1zM225 658h1v1h-1zM226 658h1v1h-1zM227 658h1v1h-1zM231 659h1v1h-1zM232 659h1v1h-1zM233 659h1v1h-1zM237 660h1v1h-1zM238 660h1v1h-1zM239 660h1v1h-1zM243 661h1v1h-1zM244 661h1v1h-1zM245 661h1v1h-1zM249 662h1v1h-1zM250 663h1v1h-1zM251 663h1v1h-1zM255 665h1v1h-1zM256 665h1v1h-1zM257 666h1v1h-1zM261 668h1v1h-1zM262 668h1v1h-1zM263 669h1v1h-1zM267 669h1v1h-1zM268 670h1v1h-1zM269 670h1v1h-1zM273 670h1v1h-1zM274 670h1v1h-1zM275 670h1v1h-1zM279 671h1v1h-1zM280 671h1v1h-1zM281 671h1v1h-1zM285 672h1v1h-1zM286 672h1v1h-1zM287 672h1v1h-1zM291 672h1v1h-1zM292 672h1v1h-1zM293 672h1v1h-1zM297 673h1v1h-1zM298 673h1v1h-1zM299 673h1v1h-1zM303 673h1v1h-1zM304 673h1v1h-1zM305 674h1v1h-1zM309 674h1v1h-1zM310 674h1v1h-1zM311 674h1v1h-1zM315 675h1v1h-1zM316 675h1v1h-1zM317 675h1v1h-1zM321 675h1v1h-1zM322 676h1v1h-1zM323 676h1v1h-1zM327 678h1v1h-1zM328 678h1v1h-1zM329 679h1v1h-1zM333 680h1v1h-1zM334 681h1v1h-1zM335 681h1v1h-1zM339 683h1v1h-1zM340 683h1v1h-1zM341 684h1v1h-1zM345 686h1v1h-1zM346 687h1v1h-1zM347 687h1v1h-1zM351 690h1v1h-1zM352 690h1v1h-1zM353 691h1v1h-1zM357 693h1v1h-1zM358 694h1v1h-1zM359 695h1v1h-1zM363 697h1v1h-1zM364 698h1v1h-1zM365 698h1v1h-1zM369 701h1v1h-1zM370 702h1v1h-1zM371 702h1v1h-1zM375 705h1v1h-1zM376 705h1v1h-1zM377 706h1v1h-1zM381 708h1v1h-1zM382 708h1v1h-1zM383 709h1v1h-1zM387 711h1v1h-1zM388 711h1v1h-1zM389 711h1v1h-1zM393 712h1v1h-1zM394 713h1v1h-1zM395 713h1v1h-1zM399 714h1v1h-1zM400 714h1v1h-1zM401 714h1v1h-1zM405 715h1v1h-1zM406 715h1v1h-1zM407 715h1v1h-1zM411 715h1v1h-1zM412 715h1v1h-1zM413 715h1v1h-1zM417 715h1v1h-1zM418 715h1v1h-1zM419 715h1v1h-1zM423 714h1v1h-1zM424 714h1v1h-1zM425 713h1v1h-1zM429 712h1v1h-1zM430 712h1v1h-1zM431 712h1v1h-1zM435 710h1v1h-1zM436 710h1v1h-1zM437 710h1v1h-1zM441 708h1v1h-1zM442 708h1v1h-1zM443 708h1v1h-1zM447 707h1v1h-1zM448 706h1v1h-1zM449 706h1v1h-1zM453 705h1v1h-1zM454 704h1v1h-1zM455 704h1v1h-1zM459 703h1v1h-1zM460 703h1v1h-1zM461 703h1v1h-1zM465 702h1v1h-1zM466 701h1v1h-1zM467 701h1v1h-1zM471 700h1v1h-1zM472 700h1v1h-1zM473 700h1v1h-1zM477 699h1v1h-1zM478 699h1v1h-1zM479 699h1v1h-1zM483 698h1v1h-1zM484 698h1v1h-1zM485 698h1v1h-1zM489 698h1v1h-1zM490 698h1v1h-1zM491 698h1v1h-1zM495 698h1v1h-1zM496 698h1v1h-1zM497 698h1v1h-1zM501 698h1v1h-1zM502 698h1v1h-1zM503 698h1v1h-1zM507 698h1v1h-1zM508 699h1v1h-1zM509 699h1v1h-1zM513 699h1v1h-1zM514 699h1v1h-1zM515 699h1v1h-1zM519 699h1v1h-1zM520 700h1v1h-1zM521 700h1v1h-1zM525 700h1v1h-1zM526 700h1v1h-1zM527 700h1v1h-1zM531 701h1v1h-1zM532 701h1v1h-1zM533 701h1v1h-1zM537 703h1v1h-1zM538 703h1v1h-1zM539 703h1v1h-1zM543 704h1v1h-1zM544 705h1v1h-1zM545 705h1v1h-1zM549 705h1v1h-1zM550 705h1v1h-1zM551 705h1v1h-1zM555 705h1v1h-1zM556 705h1v1h-1zM557 705h1v1h-1zM561 705h1v1h-1zM562 705h1v1h-1zM563 705h1v1h-1zM567 705h1v1h-1zM568 705h1v1h-1zM569 705h1v1h-1zM573 705h1v1h-1zM574 705h1v1h-1zM575 705h1v1h-1zM579 705h1v1h-1zM580 705h1v1h-1zM581 705h1v1h-1zM585 705h1v1h-1zM586 705h1v1h-1zM587 705h1v1h-1zM591 705h1v1h-1zM592 706h1v1h-1zM593 706h1v1h-1zM597 706h1v1h-1zM598 706h1v1h-1zM599 706h1v1h-1zM603 706h1v1h-1zM604 706h1v1h-1zM605 706h1v1h-1zM609 706h1v1h-1zM610 706h1v1h-1zM611 706h1v1h-1zM615 706h1v1h-1zM616 706h1v1h-1zM617 706h1v1h-1zM621 705h1v1h-1zM622 705h1v1h-1zM623 705h1v1h-1zM627 705h1v1h-1zM628 705h1v1h-1zM629 705h1v1h-1zM633 703h1v1h-1zM634 703h1v1h-1zM635 703h1v1h-1zM639 702h1v1h-1zM640 701h1v1h-1zM641 701h1v1h-1zM645 699h1v1h-1zM646 699h1v1h-1zM647 698h1v1h-1zM651 696h1v1h-1zM652 696h1v1h-1zM653 695h1v1h-1zM657 693h1v1h-1zM658 693h1v1h-1zM659 692h1v1h-1zM663 690h1v1h-1zM664 689h1v1h-1zM665 689h1v1h-1zM669 686h1v1h-1zM670 685h1v1h-1zM671 685h1v1h-1zM675 682h1v1h-1zM676 681h1v1h-1zM677 680h1v1h-1zM681 678h1v1h-1zM682 678h1v1h-1zM683 677h1v1h-1zM687 676h1v1h-1zM688 675h1v1h-1zM689 675h1v1h-1zM693 673h1v1h-1zM694 673h1v1h-1zM695 672h1v1h-1zM699 670h1v1h-1zM700 670h1v1h-1zM701 670h1v1h-1zM705 669h1v1h-1zM706 668h1v1h-1zM707 668h1v1h-1zM711 668h1v1h-1zM712 667h1v1h-1zM713 667h1v1h-1zM717 667h1v1h-1zM718 666h1v1h-1zM719 666h1v1h-1zM723 665h1v1h-1zM724 665h1v1h-1zM725 665h1v1h-1zM729 665h1v1h-1zM730 665h1v1h-1zM731 665h1v1h-1zM735 664h1v1h-1zM736 664h1v1h-1zM737 664h1v1h-1zM741 664h1v1h-1zM742 664h1v1h-1zM743 664h1v1h-1zM747 664h1v1h-1zM748 663h1v1h-1zM749 663h1v1h-1zM753 663h1v1h-1zM754 663h1v1h-1zM755 663h1v1h-1zM759 663h1v1h-1zM760 663h1v1h-1zM761 663h1v1h-1zM765 663h1v1h-1zM766 663h1v1h-1zM767 663h1v1h-1zM771 663h1v1h-1zM772 663h1v1h-1zM773 663h1v1h-1zM777 663h1v1h-1zM778 663h1v1h-1zM779 663h1v1h-1zM783 662h1v1h-1zM784 662h1v1h-1zM785 662h1v1h-1zM789 662h1v1h-1zM790 662h1v1h-1zM791 662h1v1h-1zM795 662h1v1h-1zM796 661h1v1h-1zM797 661h1v1h-1zM801 661h1v1h-1zM802 661h1v1h-1zM803 661h1v1h-1zM807 661h1v1h-1zM808 661h1v1h-1zM809 661h1v1h-1zM813 660h1v1h-1zM814 660h1v1h-1zM815 660h1v1h-1zM819 660h1v1h-1zM820 660h1v1h-1zM821 660h1v1h-1zM825 659h1v1h-1zM826 659h1v1h-1zM827 659h1v1h-1zM831 659h1v1h-1zM832 658h1v1h-1zM833 658h1v1h-1zM837 658h1v1h-1zM838 658h1v1h-1zM839 658h1v1h-1zM843 658h1v1h-1zM844 658h1v1h-1zM845 658h1v1h-1zM849 658h1v1h-1zM850 658h1v1h-1zM851 658h1v1h-1zM855 658h1v1h-1zM856 658h1v1h-1zM857 658h1v1h-1zM861 658h1v1h-1zM862 658h1v1h-1zM863 657h1v1h-1zM867 657h1v1h-1zM868 656h1v1h-1zM869 656h1v1h-1zM873 656h1v1h-1zM874 655h1v1h-1zM875 655h1v1h-1zM879 655h1v1h-1zM880 654h1v1h-1zM881 654h1v1h-1zM885 654h1v1h-1zM886 654h1v1h-1zM887 654h1v1h-1zM891 653h1v1h-1zM892 653h1v1h-1zM893 653h1v1h-1zM897 652h1v1h-1zM898 652h1v1h-1zM899 652h1v1h-1zM903 652h1v1h-1zM904 651h1v1h-1zM905 651h1v1h-1zM909 651h1v1h-1zM910 651h1v1h-1zM911 650h1v1h-1zM915 650h1v1h-1zM916 649h1v1h-1zM917 649h1v1h-1zM921 649h1v1h-1zM922 648h1v1h-1zM923 648h1v1h-1zM927 647h1v1h-1zM928 647h1v1h-1zM929 647h1v1h-1zM933 646h1v1h-1zM934 646h1v1h-1zM935 646h1v1h-1zM939 645h1v1h-1zM940 645h1v1h-1zM941 645h1v1h-1zM945 645h1v1h-1zM946 645h1v1h-1zM947 645h1v1h-1zM951 645h1v1h-1zM952 645h1v1h-1zM953 645h1v1h-1zM957 645h1v1h-1zM958 645h1v1h-1zM959 645h1v1h-1zM963 645h1v1h-1zM964 646h1v1h-1zM965 646h1v1h-1zM969 646h1v1h-1zM970 646h1v1h-1zM971 646h1v1h-1zM975 646h1v1h-1zM976 647h1v1h-1zM977 647h1v1h-1zM981 647h1v1h-1zM982 647h1v1h-1zM983 647h1v1h-1zM987 648h1v1h-1zM988 648h1v1h-1zM989 648h1v1h-1zM993 649h1v1h-1zM994 649h1v1h-1zM995 649h1v1h-1zM999 649h1v1h-1zM1000 650h1v1h-1zM1001 650h1v1h-1zM1005 650h1v1h-1zM1006 650h1v1h-1zM1007 650h1v1h-1zM1011 650h1v1h-1zM1012 650h1v1h-1zM1013 650h1v1h-1zM1017 650h1v1h-1zM1018 650h1v1h-1zM1019 650h1v1h-1zM1023 650h1v1h-1zM1024 649h1v1h-1zM1025 649h1v1h-1zM1029 649h1v1h-1zM1030 649h1v1h-1zM1031 649h1v1h-1zM1035 648h1v1h-1zM1036 648h1v1h-1zM1037 648h1v1h-1zM1041 647h1v1h-1zM1042 647h1v1h-1zM1043 647h1v1h-1zM1047 647h1v1h-1zM1048 646h1v1h-1zM1049 646h1v1h-1zM1053 646h1v1h-1zM1054 645h1v1h-1zM1055 645h1v1h-1zM1059 644h1v1h-1zM1060 644h1v1h-1zM1061 644h1v1h-1zM1065 644h1v1h-1zM1066 644h1v1h-1zM1067 644h1v1h-1zM1071 644h1v1h-1zM1072 644h1v1h-1zM1073 644h1v1h-1zM1077 644h1v1h-1zM1078 644h1v1h-1zM1079 644h1v1h-1zM1083 644h1v1h-1zM1084 644h1v1h-1zM1085 644h1v1h-1zM1089 644h1v1h-1zM1090 644h1v1h-1zM1091 644h1v1h-1zM1095 645h1v1h-1zM1096 645h1v1h-1zM1097 645h1v1h-1zM1101 646h1v1h-1zM1102 646h1v1h-1zM1103 647h1v1h-1zM1107 647h1v1h-1zM1108 648h1v1h-1zM1109 648h1v1h-1zM1113 648h1v1h-1zM1114 649h1v1h-1zM1115 649h1v1h-1zM1119 650h1v1h-1zM1120 650h1v1h-1zM1121 651h1v1h-1zM1125 652h1v1h-1zM1126 652h1v1h-1zM1127 652h1v1h-1zM1131 654h1v1h-1zM1132 654h1v1h-1zM1133 654h1v1h-1zM1137 655h1v1h-1zM1138 655h1v1h-1zM1139 655h1v1h-1zM1143 656h1v1h-1zM1144 656h1v1h-1zM1145 656h1v1h-1zM1149 657h1v1h-1zM1150 658h1v1h-1zM1151 658h1v1h-1zM1155 659h1v1h-1zM1156 660h1v1h-1zM1157 660h1v1h-1zM1161 661h1v1h-1zM1162 661h1v1h-1zM1163 662h1v1h-1zM1167 663h1v1h-1zM1168 663h1v1h-1zM1169 663h1v1h-1zM1173 664h1v1h-1zM1174 665h1v1h-1zM1175 665h1v1h-1zM1179 666h1v1h-1zM1180 666h1v1h-1zM1181 666h1v1h-1zM1185 667h1v1h-1zM1186 668h1v1h-1zM1187 668h1v1h-1zM1191 669h1v1h-1zM1192 669h1v1h-1zM1193 669h1v1h-1zM1197 670h1v1h-1zM1198 671h1v1h-1zM1199 671h1v1h-1zM1203 672h1v1h-1zM1204 672h1v1h-1zM1205 672h1v1h-1zM1209 674h1v1h-1zM1210 674h1v1h-1zM1211 675h1v1h-1zM1215 676h1v1h-1zM1216 677h1v1h-1zM1217 677h1v1h-1zM1221 678h1v1h-1zM1222 679h1v1h-1zM1223 679h1v1h-1zM1227 681h1v1h-1zM1228 681h1v1h-1zM1229 682h1v1h-1zM1233 684h1v1h-1zM1234 684h1v1h-1zM1235 685h1v1h-1zM1239 686h1v1h-1zM1240 687h1v1h-1zM1241 687h1v1h-1zM1245 688h1v1h-1zM1246 689h1v1h-1zM1247 689h1v1h-1zM1251 690h1v1h-1zM1252 690h1v1h-1zM1253 690h1v1h-1zM1257 691h1v1h-1zM1258 692h1v1h-1zM1259 692h1v1h-1z"/>
<rect x="2" y="26" width="1594" height="1" fill="#000"/>
<rect x="2" y="26" width="1" height="702" fill="#000"/>
<rect x="1595" y="26" width="1" height="702" fill="#000"/>
<rect x="2" y="537" width="1594" height="1" fill="#000"/>
<rect x="2" y="538" width="1594" height="1" fill="#fff"/>
<rect x="2" y="539" width="1594" height="1" fill="#000"/>
<rect x="2" y="632" width="1594" height="1" fill="#000"/>
<rect x="2" y="633" width="1594" height="1" fill="#fff"/>
<rect x="2" y="634" width="1594" height="1" fill="#000"/>
<rect x="2" y="727" width="1594" height="1" fill="#000"/>
<rect x="1596" y="39" width="2" height="1" fill="#000"/>
<rect x="1596" y="72" width="2" height="1" fill="#000"/>
<rect x="1596" y="105" width="2" height="1" fill="#000"/>
<rect x="1596" y="138" width="2" height="1" fill="#000"/>
<rect x="1596" y="171" width="2" height="1" fill="#000"/>
<rect x="1596" y="204" width="2" height="1" fill="#000"/>
<rect x="1596" y="237" width="2" height="1" fill="#000"/>
<rect x="1596" y="270" width="2" height="1" fill="#000"/>
<rect x="1596" y="303" width="2" height="1" fill="#000"/>
<rect x="1596" y="336" width="2" height="1" fill="#000"/>
<rect x="1596" y="369" width="2" height="1" fill="#000"/>
<rect x="1596" y="402" width="2" height="1" fill="#000"/>
<rect x="1596" y="435" width="2" height="1" fill="#000"/>
<rect x="1596" y="468" width="2" height="1" fill="#000"/>
<rect x="1596" y="501" width="2" height="1" fill="#000"/>
<rect x="1596" y="534" width="2" height="1" fill="#000"/>
<rect x="1596" y="691" width="1" height="1" fill="#000"/>
<rect x="1596" y="727" width="2" height="1" fill="#000"/>
<rect x="3" y="728" width="1" height="3" fill="#000"/>
<rect x="67" y="728" width="1" height="3" fill="#000"/>
<rect x="131" y="728" width="1" height="3" fill="#000"/>
<rect x="195" y="728" width="1" height="3" fill="#000"/>
<rect x="259" y="728" width="1" height="3" fill="#000"/>
<rect x="323" y="728" width="1" height="3" fill="#000"/>
<rect x="387" y="728" width="1" height="3" fill="#000"/>
<rect x="451" y="728" width="1" height="3" fill="#000"/>
<rect x="515" y="728" width="1" height="3" fill="#000"/>
<rect x="579" y="728" width="1" height="3" fill="#000"/>
<rect x="643" y="728" width="1" height="3" fill="#000"/>
<rect x="707" y="728" width="1" height="3" fill="#000"/>
<rect x="771" y="728" width="1" height="3" fill="#000"/>
<rect x="835" y="728" width="1" height="3" fill="#000"/>
<rect x="899" y="728" width="1" height="3" fill="#000"/>
<rect x="963" y="728" width="1" height="3" fill="#000"/>
<rect x="1027" y="728" width="1" height="3" fill="#000"/>
<rect x="1091" y="728" width="1" height="3" fill="#000"/>
<rect x="1155" y="728" width="1" height="3" fill="#000"/>
<rect x="1219" y="728" width="1" height="3" fill="#000"/>
</svg>
<div class="t" style="left:42.90px;top:4.60px;font-size:9.80px;color:#383838;transform:scaleX(0.8889) rotate(0.03deg);-webkit-text-stroke:0;filter:grayscale(1)">M1</div><div class="t" style="left:70.90px;top:4.60px;font-size:9.80px;color:#383838;transform:scaleX(0.9109) rotate(0.03deg);-webkit-text-stroke:0;filter:grayscale(1)">M5</div><div class="t" style="left:96.70px;top:4.60px;font-size:9.80px;color:#383838;transform:scaleX(0.9024) rotate(0.03deg);-webkit-text-stroke:0;filter:grayscale(1)">M15</div><div class="t" style="left:124.50px;top:4.60px;font-size:9.80px;color:#383838;transform:scaleX(0.9181) rotate(0.03deg);-webkit-text-stroke:0;filter:grayscale(1)">M30</div><div class="t" style="left:155.30px;top:4.60px;font-size:9.80px;color:#383838;transform:scaleX(0.9342) rotate(0.03deg);-webkit-text-stroke:0;filter:grayscale(1)">H1</div><div class="t" style="left:182.80px;top:4.60px;font-size:9.80px;color:#383838;transform:scaleX(0.8943) rotate(0.03deg);-webkit-text-stroke:0;filter:grayscale(1)">H4</div><div class="t" style="left:211.80px;top:4.60px;font-size:9.80px;color:#383838;transform:scaleX(0.8863) rotate(0.03deg);-webkit-text-stroke:0;filter:grayscale(1)">D1</div><div class="t" style="left:239.00px;top:4.60px;font-size:9.80px;color:#383838;transform:scaleX(0.9592) rotate(0.03deg);-webkit-text-stroke:0;filter:grayscale(1)">W1</div><div class="t" style="left:265.50px;top:4.60px;font-size:9.80px;color:#383838;transform:scaleX(0.9712) rotate(0.03deg);-webkit-text-stroke:0;filter:grayscale(1)">MN</div>
<div class="t" style="left:18.30px;top:28.60px;font-size:9.80px;color:#000;transform:scaleX(0.9866) rotate(0.03deg);">AUDUSD,Daily</div><div class="t" style="left:89.70px;top:28.60px;font-size:9.80px;color:#000;transform:scaleX(0.9415) rotate(0.03deg);">0.76691 0.76809 0.76680 0.76767</div>
<div class="t" style="left:7.10px;top:542.60px;font-size:9.80px;color:#000;transform:scaleX(0.9470) rotate(0.03deg);">RSI(14) 52.1595</div><div class="t" style="left:7.00px;top:637.60px;font-size:9.80px;color:#000;transform:scaleX(0.9506) rotate(0.03deg);">MACD(12,26,9) -0.000598 -0.000185</div>
<div class="t" style="left:1601.20px;top:33.60px;font-size:9.80px;color:#000;transform:scaleX(0.9230) rotate(0.03deg);">0.78405</div>
<div class="t" style="left:1601.20px;top:66.60px;font-size:9.80px;color:#000;transform:scaleX(0.9230) rotate(0.03deg);">0.77835</div>
<div class="t" style="left:1601.20px;top:99.60px;font-size:9.80px;color:#000;transform:scaleX(0.9230) rotate(0.03deg);">0.77250</div>
<div class="t" style="left:1601.20px;top:132.60px;font-size:9.80px;color:#000;transform:scaleX(0.9230) rotate(0.03deg);">0.76665</div>
<div class="t" style="left:1601.20px;top:165.60px;font-size:9.80px;color:#000;transform:scaleX(0.9230) rotate(0.03deg);">0.76095</div>
<div class="t" style="left:1601.20px;top:198.60px;font-size:9.80px;color:#000;transform:scaleX(0.9230) rotate(0.03deg);">0.75510</div>
<div class="t" style="left:1601.20px;top:231.60px;font-size:9.80px;color:#000;transform:scaleX(0.9230) rotate(0.03deg);">0.74940</div>
<div class="t" style="left:1601.20px;top:264.60px;font-size:9.80px;color:#000;transform:scaleX(0.9230) rotate(0.03deg);">0.74355</div>
<div class="t" style="left:1601.20px;top:297.60px;font-size:9.80px;color:#000;transform:scaleX(0.9230) rotate(0.03deg);">0.73785</div>
<div class="t" style="left:1601.20px;top:330.60px;font-size:9.80px;color:#000;transform:scaleX(0.9230) rotate(0.03deg);">0.73200</div>
<div class="t" style="left:1601.20px;top:363.60px;font-size:9.80px;color:#000;transform:scaleX(0.9230) rotate(0.03deg);">0.72630</div>
<div class="t" style="left:1601.20px;top:396.60px;font-size:9.80px;color:#000;transform:scaleX(0.9230) rotate(0.03deg);">0.72045</div>
<div class="t" style="left:1601.20px;top:429.60px;font-size:9.80px;color:#000;transform:scaleX(0.9230) rotate(0.03deg);">0.71460</div>
<div class="t" style="left:1601.20px;top:462.60px;font-size:9.80px;color:#000;transform:scaleX(0.9230) rotate(0.03deg);">0.70890</div>
<div class="t" style="left:1601.20px;top:495.60px;font-size:9.80px;color:#000;transform:scaleX(0.9230) rotate(0.03deg);">0.70305</div>
<div class="t" style="left:1601.20px;top:528.60px;font-size:9.80px;color:#000;transform:scaleX(0.9230) rotate(0.03deg);">0.69735</div>
<div class="axb" style="top:56px;background:#ff0000"></div>
<div class="t" style="left:1601.20px;top:55.60px;font-size:9.80px;color:#fff;transform:scaleX(0.9230) rotate(0.03deg);">0.78007</div>
<div class="axb" style="top:113px;background:#ff0000"></div>
<div class="t" style="left:1601.20px;top:112.60px;font-size:9.80px;color:#fff;transform:scaleX(0.9230) rotate(0.03deg);">0.77008</div>
<div class="axb" style="top:170px;background:#00ff00"></div>
<div class="t" style="left:1601.20px;top:169.60px;font-size:9.80px;color:#fff;transform:scaleX(0.9230) rotate(0.03deg);">0.76009</div>
<div class="axb" style="top:227px;background:#0000ff"></div>
<div class="t" style="left:1601.20px;top:226.60px;font-size:9.80px;color:#fff;transform:scaleX(0.9230) rotate(0.03deg);">0.75010</div>
<div class="axb" style="top:284px;background:#0000ff"></div>
<div class="t" style="left:1601.20px;top:283.60px;font-size:9.80px;color:#fff;transform:scaleX(0.9423) rotate(0.03deg);">0.74011</div>
<div class="axb" style="top:128px;background:#000"></div>
<div class="t" style="left:1601.20px;top:127.60px;font-size:9.80px;color:#fff;transform:scaleX(0.9230) rotate(0.03deg);">0.76767</div>
<div class="t" style="left:1599.50px;top:540.60px;font-size:9.80px;color:#000;transform:scaleX(0.8503) rotate(0.03deg);">100</div>
<div class="t" style="left:1598.40px;top:562.60px;font-size:9.80px;color:#000;transform:scaleX(0.8534) rotate(0.03deg);">70</div>
<div class="t" style="left:1598.40px;top:598.60px;font-size:9.80px;color:#000;transform:scaleX(0.8534) rotate(0.03deg);">30</div>
<div class="t" style="left:1599.40px;top:619.60px;font-size:9.80px;color:#000;transform:scaleX(0.8626) rotate(0.03deg);">0</div>
<div class="t" style="left:1599.50px;top:635.60px;font-size:9.80px;color:#000;transform:scaleX(0.9174) rotate(0.03deg);">0.00884</div>
<div class="t" style="left:1599.50px;top:685.60px;font-size:9.80px;color:#000;transform:scaleX(0.9071) rotate(0.03deg);">0.00</div>
<div class="t" style="left:1599.50px;top:714.60px;font-size:9.80px;color:#000;transform:scaleX(0.9174) rotate(0.03deg);">-0.005651</div>
<div class="t" style="left:2.10px;top:730.60px;font-size:9.80px;color:#000;transform:scaleX(0.9617) rotate(0.03deg);">6 Aug 2020</div>
<div class="t" style="left:66.70px;top:730.60px;font-size:9.80px;color:#000;transform:scaleX(0.9501) rotate(0.03deg);">15 Aug 2020</div>
<div class="t" style="left:130.70px;top:730.60px;font-size:9.80px;color:#000;transform:scaleX(0.9447) rotate(0.03deg);">25 Aug 2020</div>
<div class="t" style="left:194.30px;top:730.60px;font-size:9.80px;color:#000;transform:scaleX(0.9255) rotate(0.03deg);">3 Sep 2020</div>
<div class="t" style="left:258.70px;top:730.60px;font-size:9.80px;color:#000;transform:scaleX(0.9229) rotate(0.03deg);">12 Sep 2020</div>
<div class="t" style="left:322.70px;top:730.60px;font-size:9.80px;color:#000;transform:scaleX(0.9229) rotate(0.03deg);">22 Sep 2020</div>
<div class="t" style="left:386.70px;top:730.60px;font-size:9.80px;color:#000;transform:scaleX(0.9512) rotate(0.03deg);">1 Oct 2020</div>
<div class="t" style="left:450.70px;top:730.60px;font-size:9.80px;color:#000;transform:scaleX(0.9365) rotate(0.03deg);">10 Oct 2020</div>
<div class="t" style="left:514.70px;top:730.60px;font-size:9.80px;color:#000;transform:scaleX(0.9421) rotate(0.03deg);">20 Oct 2020</div>
<div class="t" style="left:578.30px;top:730.60px;font-size:9.80px;color:#000;transform:scaleX(0.9440) rotate(0.03deg);">29 Oct 2020</div>
<div class="t" style="left:642.70px;top:730.60px;font-size:9.80px;color:#000;transform:scaleX(0.9636) rotate(0.03deg);">7 Nov 2020</div>
<div class="t" style="left:706.70px;top:730.60px;font-size:9.80px;color:#000;transform:scaleX(0.9537) rotate(0.03deg);">17 Nov 2020</div>
<div class="t" style="left:770.30px;top:730.60px;font-size:9.80px;color:#000;transform:scaleX(0.9608) rotate(0.03deg);">26 Nov 2020</div>
<div class="t" style="left:834.30px;top:730.60px;font-size:9.80px;color:#000;transform:scaleX(0.9316) rotate(0.03deg);">5 Dec 2020</div>
<div class="t" style="left:898.70px;top:730.60px;font-size:9.80px;color:#000;transform:scaleX(0.9231) rotate(0.03deg);">15 Dec 2020</div>
<div class="t" style="left:962.70px;top:730.60px;font-size:9.80px;color:#000;transform:scaleX(0.9231) rotate(0.03deg);">24 Dec 2020</div>
<div class="t" style="left:1026.30px;top:730.60px;font-size:9.80px;color:#000;transform:scaleX(0.9216) rotate(0.03deg);">5 Jan 2021</div>
<div class="t" style="left:1090.70px;top:730.60px;font-size:9.80px;color:#000;transform:scaleX(0.9083) rotate(0.03deg);">14 Jan 2021</div>
<div class="t" style="left:1154.30px;top:730.60px;font-size:9.80px;color:#000;transform:scaleX(0.9083) rotate(0.03deg);">23 Jan 2021</div>
<div class="t" style="left:1218.30px;top:730.60px;font-size:9.80px;color:#000;transform:scaleX(0.9357) rotate(0.03deg);">2 Feb 2021</div>
<div class="t" style="left:16.70px;top:754.84px;font-size:12.00px;color:#5a5a5a;transform:scaleX(0.9829) rotate(0.03deg);-webkit-text-stroke:0">EURUSD,Daily</div>
<div class="sep" style="left:108px"></div>
<div class="t" style="left:118.30px;top:754.84px;font-size:12.00px;color:#5a5a5a;transform:scaleX(0.9965) rotate(0.03deg);-webkit-text-stroke:0">USDCHF,Daily</div>
<div class="t" style="left:219.30px;top:754.84px;font-size:12.00px;color:#000;transform:scaleX(1.0102) rotate(0.03deg);-webkit-text-stroke:0">AUDUSD,Daily</div>
<div class="t" style="left:322.70px;top:754.84px;font-size:12.00px;color:#5a5a5a;transform:scaleX(1.0077) rotate(0.03deg);-webkit-text-stroke:0">USDCAD,Daily</div>
<div class="sep" style="left:416px"></div>
<div class="t" style="left:426.00px;top:754.84px;font-size:12.00px;color:#5a5a5a;transform:scaleX(1.0205) rotate(0.03deg);-webkit-text-stroke:0">USDCNH,Daily</div>
<div class="sep" style="left:520px"></div>
<div class="t" style="left:531.70px;top:754.84px;font-size:12.00px;color:#5a5a5a;transform:scaleX(0.9953) rotate(0.03deg);-webkit-text-stroke:0">EURUSD,Daily</div>
<div class="sep" style="left:624px"></div>
<div class="t" style="left:636.00px;top:754.84px;font-size:12.00px;color:#5a5a5a;transform:scaleX(0.9849) rotate(0.03deg);-webkit-text-stroke:0">GBPUSD,H4</div>
<div class="sep" style="left:716px"></div>
<div class="t" style="left:726.00px;top:754.84px;font-size:12.00px;color:#5a5a5a;transform:scaleX(1.0273) rotate(0.03deg);-webkit-text-stroke:0">XAUUSD,Weekly</div>
<div class="sep" style="left:832px"></div>
<div class="t" style="left:842.70px;top:754.84px;font-size:12.00px;color:#5a5a5a;transform:scaleX(1.0268) rotate(0.03deg);-webkit-text-stroke:0">HK50,H1</div>
<div class="sep" style="left:904px"></div>
<div class="t" style="left:915.30px;top:754.84px;font-size:12.00px;color:#5a5a5a;transform:scaleX(1.0186) rotate(0.03deg);-webkit-text-stroke:0">UK100,H1</div>
<div class="sep" style="left:984px"></div>
<div class="t" style="left:995.00px;top:754.84px;font-size:12.00px;color:#5a5a5a;transform:scaleX(1.0241) rotate(0.03deg);-webkit-text-stroke:0">UK100,H1</div>
<div class="sep" style="left:1064px"></div>
<div class="t" style="left:1075.00px;top:754.84px;font-size:12.00px;color:#5a5a5a;transform:scaleX(0.9704) rotate(0.03deg);-webkit-text-stroke:0">GER30,H1</div>
<div class="sep" style="left:1144px"></div>
<div class="t" style="left:1154.30px;top:754.84px;font-size:12.00px;color:#5a5a5a;transform:scaleX(0.9712) rotate(0.03deg);-webkit-text-stroke:0">FRA40,H1</div>
<div class="sep" style="left:1220px"></div>
<div class="t" style="left:1231.00px;top:754.84px;font-size:12.00px;color:#5a5a5a;transform:scaleX(1.0435) rotate(0.03deg);-webkit-text-stroke:0">USOil,Weekly</div>
<div class="sep" style="left:1320px"></div>
<div class="t" style="left:1330.30px;top:754.84px;font-size:12.00px;color:#5a5a5a;transform:scaleX(0.9678) rotate(0.03deg);-webkit-text-stroke:0">USDJPY,H1</div>
<div class="sep" style="left:1404px"></div>
<div class="t" style="left:1414.30px;top:754.84px;font-size:12.00px;color:#5a5a5a;transform:scaleX(1.0117) rotate(0.03deg);-webkit-text-stroke:0">DJ30,Daily</div>
<div class="sep" style="left:1484px"></div>
<div class="t" style="left:1494.30px;top:754.84px;font-size:12.00px;color:#5a5a5a;transform:scaleX(1.0311) rotate(0.03deg);-webkit-text-stroke:0">CHINA300,H1</div>
<div class="sep" style="left:1584px"></div>
<div style="position:absolute;left:1592px;top:752px;width:13px;height:16px;overflow:hidden"><div class="t" style="left:2.80px;top:2.84px;font-size:12.00px;color:#5a5a5a;transform:scaleX(1.0000) rotate(0.03deg);-webkit-text-stroke:0">USDJPY</div></div>
<svg width="1638" height="771" viewBox="0 0 1638 771"><polygon points="1610.6,758.8 1614.2,755.4 1614.2,762.2" fill="#8e8e8e"/><polygon points="1633.5,758.8 1629.8,755.4 1629.8,762.2" fill="#000"/><rect x="0" y="770" width="1638" height="1" fill="#f8f8f8"/></svg>
</body></html>
